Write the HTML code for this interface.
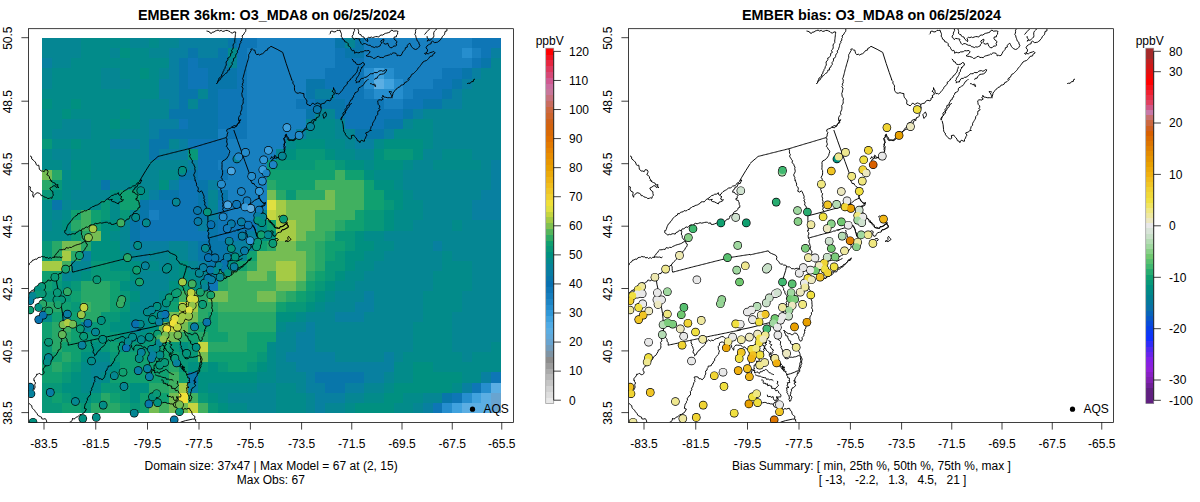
<!DOCTYPE html><html><head><meta charset="utf-8"><title>EMBER O3_MDA8</title><style>html,body{margin:0;padding:0;background:#fff}svg{display:block}</style></head><body><svg width="1200" height="502" viewBox="0 0 1200 502" font-family="'Liberation Sans', Arial, Helvetica, sans-serif" font-size="12" fill="#000"><rect width="1200" height="502" fill="#fff"/><defs><clipPath id="c0"><rect x="28.6" y="28.7" width="484.8" height="393.7"/></clipPath><clipPath id="c1"><rect x="628.6" y="28.7" width="484.8" height="393.7"/></clipPath></defs><g shape-rendering="crispEdges"><rect x="42" y="38" width="39.06" height="10.14" fill="#058693"/><rect x="81.06" y="38" width="48.83" height="10.14" fill="#028b8a"/><rect x="129.89" y="38" width="19.54" height="10.14" fill="#058693"/><rect x="149.43" y="38" width="9.76" height="10.14" fill="#028b8a"/><rect x="159.19" y="38" width="19.53" height="10.14" fill="#058693"/><rect x="178.72" y="38" width="48.83" height="10.14" fill="#0880a0"/><rect x="227.55" y="38" width="9.77" height="10.14" fill="#0876aa"/><rect x="237.32" y="38" width="19.53" height="10.14" fill="#0e76b6"/><rect x="256.85" y="38" width="78.13" height="10.14" fill="#1880c0"/><rect x="334.98" y="38" width="9.76" height="10.14" fill="#0876aa"/><rect x="344.74" y="38" width="9.77" height="10.14" fill="#058693"/><rect x="354.51" y="38" width="9.77" height="10.14" fill="#0876aa"/><rect x="364.28" y="38" width="107.42" height="10.14" fill="#1880c0"/><rect x="471.7" y="38" width="29.3" height="10.14" fill="#0e76b6"/><rect x="42" y="48.14" width="39.06" height="10.13" fill="#058693"/><rect x="81.06" y="48.14" width="29.3" height="10.13" fill="#028b8a"/><rect x="110.36" y="48.14" width="9.77" height="10.13" fill="#058693"/><rect x="120.13" y="48.14" width="9.76" height="10.13" fill="#009080"/><rect x="129.89" y="48.14" width="19.54" height="10.13" fill="#028b8a"/><rect x="149.43" y="48.14" width="19.53" height="10.13" fill="#058693"/><rect x="168.96" y="48.14" width="19.53" height="10.13" fill="#0880a0"/><rect x="188.49" y="48.14" width="9.77" height="10.13" fill="#0876aa"/><rect x="198.26" y="48.14" width="19.53" height="10.13" fill="#0880a0"/><rect x="217.79" y="48.14" width="9.76" height="10.13" fill="#0876aa"/><rect x="227.55" y="48.14" width="9.77" height="10.13" fill="#028b8a"/><rect x="237.32" y="48.14" width="9.77" height="10.13" fill="#0e76b6"/><rect x="247.09" y="48.14" width="87.89" height="10.13" fill="#1880c0"/><rect x="334.98" y="48.14" width="9.76" height="10.13" fill="#0e76b6"/><rect x="344.74" y="48.14" width="19.54" height="10.13" fill="#0876aa"/><rect x="364.28" y="48.14" width="97.66" height="10.13" fill="#1880c0"/><rect x="461.94" y="48.14" width="9.76" height="10.13" fill="#268ece"/><rect x="471.7" y="48.14" width="9.77" height="10.13" fill="#1880c0"/><rect x="481.47" y="48.14" width="9.76" height="10.13" fill="#0e76b6"/><rect x="491.23" y="48.14" width="9.77" height="10.13" fill="#0880a0"/><rect x="42" y="58.27" width="9.77" height="10.14" fill="#0880a0"/><rect x="51.77" y="58.27" width="19.53" height="10.14" fill="#058693"/><rect x="71.3" y="58.27" width="97.66" height="10.14" fill="#028b8a"/><rect x="168.96" y="58.27" width="9.76" height="10.14" fill="#0880a0"/><rect x="178.72" y="58.27" width="9.77" height="10.14" fill="#0876aa"/><rect x="188.49" y="58.27" width="9.77" height="10.14" fill="#0e76b6"/><rect x="198.26" y="58.27" width="29.29" height="10.14" fill="#0876aa"/><rect x="227.55" y="58.27" width="9.77" height="10.14" fill="#058693"/><rect x="237.32" y="58.27" width="9.77" height="10.14" fill="#0e76b6"/><rect x="247.09" y="58.27" width="87.89" height="10.14" fill="#1880c0"/><rect x="334.98" y="58.27" width="29.3" height="10.14" fill="#0e76b6"/><rect x="364.28" y="58.27" width="107.42" height="10.14" fill="#1880c0"/><rect x="471.7" y="58.27" width="9.77" height="10.14" fill="#0e76b6"/><rect x="481.47" y="58.27" width="9.76" height="10.14" fill="#0876aa"/><rect x="491.23" y="58.27" width="9.77" height="10.14" fill="#058693"/><rect x="42" y="68.41" width="9.77" height="10.13" fill="#058693"/><rect x="51.77" y="68.41" width="48.83" height="10.13" fill="#028b8a"/><rect x="100.6" y="68.41" width="19.53" height="10.13" fill="#058693"/><rect x="120.13" y="68.41" width="19.53" height="10.13" fill="#028b8a"/><rect x="139.66" y="68.41" width="9.77" height="10.13" fill="#009080"/><rect x="149.43" y="68.41" width="9.76" height="10.13" fill="#028b8a"/><rect x="159.19" y="68.41" width="9.77" height="10.13" fill="#058693"/><rect x="168.96" y="68.41" width="9.76" height="10.13" fill="#0880a0"/><rect x="178.72" y="68.41" width="9.77" height="10.13" fill="#0876aa"/><rect x="188.49" y="68.41" width="19.53" height="10.13" fill="#0e76b6"/><rect x="208.02" y="68.41" width="29.3" height="10.13" fill="#0876aa"/><rect x="237.32" y="68.41" width="9.77" height="10.13" fill="#0e76b6"/><rect x="247.09" y="68.41" width="78.12" height="10.13" fill="#1880c0"/><rect x="325.21" y="68.41" width="39.07" height="10.13" fill="#0e76b6"/><rect x="364.28" y="68.41" width="9.76" height="10.13" fill="#268ece"/><rect x="374.04" y="68.41" width="9.77" height="10.13" fill="#40a2de"/><rect x="383.81" y="68.41" width="9.76" height="10.13" fill="#268ece"/><rect x="393.57" y="68.41" width="48.83" height="10.13" fill="#1880c0"/><rect x="442.4" y="68.41" width="19.54" height="10.13" fill="#0e76b6"/><rect x="461.94" y="68.41" width="9.76" height="10.13" fill="#0876aa"/><rect x="471.7" y="68.41" width="9.77" height="10.13" fill="#0880a0"/><rect x="481.47" y="68.41" width="19.53" height="10.13" fill="#058693"/><rect x="42" y="78.54" width="9.77" height="10.14" fill="#058693"/><rect x="51.77" y="78.54" width="48.83" height="10.14" fill="#028b8a"/><rect x="100.6" y="78.54" width="29.29" height="10.14" fill="#058693"/><rect x="129.89" y="78.54" width="29.3" height="10.14" fill="#028b8a"/><rect x="159.19" y="78.54" width="19.53" height="10.14" fill="#0880a0"/><rect x="178.72" y="78.54" width="9.77" height="10.14" fill="#0876aa"/><rect x="188.49" y="78.54" width="19.53" height="10.14" fill="#0e76b6"/><rect x="208.02" y="78.54" width="29.3" height="10.14" fill="#0876aa"/><rect x="237.32" y="78.54" width="9.77" height="10.14" fill="#0e76b6"/><rect x="247.09" y="78.54" width="58.59" height="10.14" fill="#1880c0"/><rect x="305.68" y="78.54" width="19.53" height="10.14" fill="#0876aa"/><rect x="325.21" y="78.54" width="39.07" height="10.14" fill="#0e76b6"/><rect x="364.28" y="78.54" width="9.76" height="10.14" fill="#268ece"/><rect x="374.04" y="78.54" width="9.77" height="10.14" fill="#5baee3"/><rect x="383.81" y="78.54" width="9.76" height="10.14" fill="#40a2de"/><rect x="393.57" y="78.54" width="9.77" height="10.14" fill="#268ece"/><rect x="403.34" y="78.54" width="29.3" height="10.14" fill="#1880c0"/><rect x="432.64" y="78.54" width="19.53" height="10.14" fill="#0e76b6"/><rect x="452.17" y="78.54" width="9.77" height="10.14" fill="#0876aa"/><rect x="461.94" y="78.54" width="9.76" height="10.14" fill="#0880a0"/><rect x="471.7" y="78.54" width="29.3" height="10.14" fill="#058693"/><rect x="42" y="88.68" width="117.19" height="10.13" fill="#028b8a"/><rect x="159.19" y="88.68" width="19.53" height="10.13" fill="#0880a0"/><rect x="178.72" y="88.68" width="19.54" height="10.13" fill="#0876aa"/><rect x="198.26" y="88.68" width="9.76" height="10.13" fill="#058693"/><rect x="208.02" y="88.68" width="9.77" height="10.13" fill="#0876aa"/><rect x="217.79" y="88.68" width="29.3" height="10.13" fill="#0e76b6"/><rect x="247.09" y="88.68" width="58.59" height="10.13" fill="#1880c0"/><rect x="305.68" y="88.68" width="9.77" height="10.13" fill="#0876aa"/><rect x="315.45" y="88.68" width="19.53" height="10.13" fill="#0880a0"/><rect x="334.98" y="88.68" width="29.3" height="10.13" fill="#0e76b6"/><rect x="364.28" y="88.68" width="9.76" height="10.13" fill="#1880c0"/><rect x="374.04" y="88.68" width="29.3" height="10.13" fill="#268ece"/><rect x="403.34" y="88.68" width="9.77" height="10.13" fill="#1880c0"/><rect x="413.11" y="88.68" width="29.29" height="10.13" fill="#0e76b6"/><rect x="442.4" y="88.68" width="9.77" height="10.13" fill="#0876aa"/><rect x="452.17" y="88.68" width="9.77" height="10.13" fill="#0880a0"/><rect x="461.94" y="88.68" width="39.06" height="10.13" fill="#058693"/><rect x="42" y="98.81" width="9.77" height="10.14" fill="#009080"/><rect x="51.77" y="98.81" width="19.53" height="10.14" fill="#028b8a"/><rect x="71.3" y="98.81" width="9.76" height="10.14" fill="#009080"/><rect x="81.06" y="98.81" width="58.6" height="10.14" fill="#028b8a"/><rect x="139.66" y="98.81" width="29.3" height="10.14" fill="#058693"/><rect x="168.96" y="98.81" width="9.76" height="10.14" fill="#0880a0"/><rect x="178.72" y="98.81" width="9.77" height="10.14" fill="#0876aa"/><rect x="188.49" y="98.81" width="9.77" height="10.14" fill="#058693"/><rect x="198.26" y="98.81" width="19.53" height="10.14" fill="#0876aa"/><rect x="217.79" y="98.81" width="29.3" height="10.14" fill="#0e76b6"/><rect x="247.09" y="98.81" width="48.82" height="10.14" fill="#1880c0"/><rect x="295.91" y="98.81" width="19.54" height="10.14" fill="#0e76b6"/><rect x="315.45" y="98.81" width="29.29" height="10.14" fill="#0876aa"/><rect x="344.74" y="98.81" width="39.07" height="10.14" fill="#0e76b6"/><rect x="383.81" y="98.81" width="19.53" height="10.14" fill="#1880c0"/><rect x="403.34" y="98.81" width="19.53" height="10.14" fill="#0e76b6"/><rect x="422.87" y="98.81" width="19.53" height="10.14" fill="#0876aa"/><rect x="442.4" y="98.81" width="19.54" height="10.14" fill="#0880a0"/><rect x="461.94" y="98.81" width="39.06" height="10.14" fill="#058693"/><rect x="42" y="108.95" width="19.53" height="10.13" fill="#028b8a"/><rect x="61.53" y="108.95" width="9.77" height="10.13" fill="#009080"/><rect x="71.3" y="108.95" width="48.83" height="10.13" fill="#028b8a"/><rect x="120.13" y="108.95" width="9.76" height="10.13" fill="#009080"/><rect x="129.89" y="108.95" width="9.77" height="10.13" fill="#028b8a"/><rect x="139.66" y="108.95" width="29.3" height="10.13" fill="#058693"/><rect x="168.96" y="108.95" width="48.83" height="10.13" fill="#0876aa"/><rect x="217.79" y="108.95" width="29.3" height="10.13" fill="#0e76b6"/><rect x="247.09" y="108.95" width="58.59" height="10.13" fill="#1880c0"/><rect x="305.68" y="108.95" width="9.77" height="10.13" fill="#0876aa"/><rect x="315.45" y="108.95" width="19.53" height="10.13" fill="#058693"/><rect x="334.98" y="108.95" width="9.76" height="10.13" fill="#0876aa"/><rect x="344.74" y="108.95" width="58.6" height="10.13" fill="#0e76b6"/><rect x="403.34" y="108.95" width="9.77" height="10.13" fill="#0876aa"/><rect x="413.11" y="108.95" width="9.76" height="10.13" fill="#0880a0"/><rect x="422.87" y="108.95" width="78.13" height="10.13" fill="#058693"/><rect x="42" y="119.08" width="19.53" height="10.14" fill="#028b8a"/><rect x="61.53" y="119.08" width="29.3" height="10.14" fill="#058693"/><rect x="90.83" y="119.08" width="19.53" height="10.14" fill="#028b8a"/><rect x="110.36" y="119.08" width="9.77" height="10.14" fill="#009080"/><rect x="120.13" y="119.08" width="19.53" height="10.14" fill="#028b8a"/><rect x="139.66" y="119.08" width="9.77" height="10.14" fill="#058693"/><rect x="149.43" y="119.08" width="29.29" height="10.14" fill="#0880a0"/><rect x="178.72" y="119.08" width="9.77" height="10.14" fill="#0e76b6"/><rect x="188.49" y="119.08" width="29.3" height="10.14" fill="#0876aa"/><rect x="217.79" y="119.08" width="29.3" height="10.14" fill="#0e76b6"/><rect x="247.09" y="119.08" width="58.59" height="10.14" fill="#1880c0"/><rect x="305.68" y="119.08" width="9.77" height="10.14" fill="#058693"/><rect x="315.45" y="119.08" width="19.53" height="10.14" fill="#028b8a"/><rect x="334.98" y="119.08" width="9.76" height="10.14" fill="#058693"/><rect x="344.74" y="119.08" width="39.07" height="10.14" fill="#0e76b6"/><rect x="383.81" y="119.08" width="19.53" height="10.14" fill="#0876aa"/><rect x="403.34" y="119.08" width="9.77" height="10.14" fill="#058693"/><rect x="413.11" y="119.08" width="19.53" height="10.14" fill="#028b8a"/><rect x="432.64" y="119.08" width="68.36" height="10.14" fill="#058693"/><rect x="42" y="129.22" width="9.77" height="10.13" fill="#028b8a"/><rect x="51.77" y="129.22" width="39.06" height="10.13" fill="#058693"/><rect x="90.83" y="129.22" width="29.3" height="10.13" fill="#028b8a"/><rect x="120.13" y="129.22" width="29.3" height="10.13" fill="#058693"/><rect x="149.43" y="129.22" width="9.76" height="10.13" fill="#0880a0"/><rect x="159.19" y="129.22" width="58.6" height="10.13" fill="#0876aa"/><rect x="217.79" y="129.22" width="9.76" height="10.13" fill="#1880c0"/><rect x="227.55" y="129.22" width="19.54" height="10.13" fill="#0e76b6"/><rect x="247.09" y="129.22" width="48.82" height="10.13" fill="#1880c0"/><rect x="295.91" y="129.22" width="9.77" height="10.13" fill="#0880a0"/><rect x="305.68" y="129.22" width="29.3" height="10.13" fill="#028b8a"/><rect x="334.98" y="129.22" width="19.53" height="10.13" fill="#058693"/><rect x="354.51" y="129.22" width="29.3" height="10.13" fill="#0876aa"/><rect x="383.81" y="129.22" width="9.76" height="10.13" fill="#0880a0"/><rect x="393.57" y="129.22" width="39.07" height="10.13" fill="#028b8a"/><rect x="432.64" y="129.22" width="68.36" height="10.13" fill="#058693"/><rect x="42" y="139.35" width="9.77" height="10.14" fill="#089878"/><rect x="51.77" y="139.35" width="19.53" height="10.14" fill="#028b8a"/><rect x="71.3" y="139.35" width="9.76" height="10.14" fill="#009080"/><rect x="81.06" y="139.35" width="29.3" height="10.14" fill="#028b8a"/><rect x="110.36" y="139.35" width="29.3" height="10.14" fill="#0880a0"/><rect x="139.66" y="139.35" width="9.77" height="10.14" fill="#058693"/><rect x="149.43" y="139.35" width="19.53" height="10.14" fill="#0876aa"/><rect x="168.96" y="139.35" width="9.76" height="10.14" fill="#058693"/><rect x="178.72" y="139.35" width="9.77" height="10.14" fill="#0880a0"/><rect x="188.49" y="139.35" width="39.06" height="10.14" fill="#0e76b6"/><rect x="227.55" y="139.35" width="58.6" height="10.14" fill="#1880c0"/><rect x="286.15" y="139.35" width="9.76" height="10.14" fill="#028b8a"/><rect x="295.91" y="139.35" width="29.3" height="10.14" fill="#009080"/><rect x="325.21" y="139.35" width="19.53" height="10.14" fill="#028b8a"/><rect x="344.74" y="139.35" width="9.77" height="10.14" fill="#058693"/><rect x="354.51" y="139.35" width="19.53" height="10.14" fill="#0880a0"/><rect x="374.04" y="139.35" width="9.77" height="10.14" fill="#028b8a"/><rect x="383.81" y="139.35" width="39.06" height="10.14" fill="#009080"/><rect x="422.87" y="139.35" width="9.77" height="10.14" fill="#028b8a"/><rect x="432.64" y="139.35" width="68.36" height="10.14" fill="#058693"/><rect x="42" y="149.49" width="9.77" height="10.13" fill="#028b8a"/><rect x="51.77" y="149.49" width="19.53" height="10.13" fill="#058693"/><rect x="71.3" y="149.49" width="39.06" height="10.13" fill="#028b8a"/><rect x="110.36" y="149.49" width="39.07" height="10.13" fill="#058693"/><rect x="149.43" y="149.49" width="9.76" height="10.13" fill="#0876aa"/><rect x="159.19" y="149.49" width="29.3" height="10.13" fill="#0880a0"/><rect x="188.49" y="149.49" width="9.77" height="10.13" fill="#089878"/><rect x="198.26" y="149.49" width="29.29" height="10.13" fill="#0e76b6"/><rect x="227.55" y="149.49" width="48.83" height="10.13" fill="#1880c0"/><rect x="276.38" y="149.49" width="9.77" height="10.13" fill="#058693"/><rect x="286.15" y="149.49" width="9.76" height="10.13" fill="#009080"/><rect x="295.91" y="149.49" width="29.3" height="10.13" fill="#089878"/><rect x="325.21" y="149.49" width="9.77" height="10.13" fill="#009080"/><rect x="334.98" y="149.49" width="19.53" height="10.13" fill="#028b8a"/><rect x="354.51" y="149.49" width="19.53" height="10.13" fill="#058693"/><rect x="374.04" y="149.49" width="9.77" height="10.13" fill="#009080"/><rect x="383.81" y="149.49" width="29.3" height="10.13" fill="#089878"/><rect x="413.11" y="149.49" width="9.76" height="10.13" fill="#009080"/><rect x="422.87" y="149.49" width="19.53" height="10.13" fill="#058693"/><rect x="442.4" y="149.49" width="29.3" height="10.13" fill="#028b8a"/><rect x="471.7" y="149.49" width="29.3" height="10.13" fill="#058693"/><rect x="42" y="159.62" width="19.53" height="10.14" fill="#028b8a"/><rect x="61.53" y="159.62" width="9.77" height="10.14" fill="#058693"/><rect x="71.3" y="159.62" width="19.53" height="10.14" fill="#009080"/><rect x="90.83" y="159.62" width="39.06" height="10.14" fill="#028b8a"/><rect x="129.89" y="159.62" width="58.6" height="10.14" fill="#058693"/><rect x="188.49" y="159.62" width="9.77" height="10.14" fill="#0880a0"/><rect x="198.26" y="159.62" width="19.53" height="10.14" fill="#0e76b6"/><rect x="217.79" y="159.62" width="48.83" height="10.14" fill="#1880c0"/><rect x="266.62" y="159.62" width="48.83" height="10.14" fill="#089878"/><rect x="315.45" y="159.62" width="19.53" height="10.14" fill="#10a070"/><rect x="334.98" y="159.62" width="9.76" height="10.14" fill="#089878"/><rect x="344.74" y="159.62" width="19.54" height="10.14" fill="#009080"/><rect x="364.28" y="159.62" width="9.76" height="10.14" fill="#028b8a"/><rect x="374.04" y="159.62" width="29.3" height="10.14" fill="#009080"/><rect x="403.34" y="159.62" width="9.77" height="10.14" fill="#028b8a"/><rect x="413.11" y="159.62" width="19.53" height="10.14" fill="#058693"/><rect x="432.64" y="159.62" width="48.83" height="10.14" fill="#028b8a"/><rect x="481.47" y="159.62" width="9.76" height="10.14" fill="#058693"/><rect x="491.23" y="159.62" width="9.77" height="10.14" fill="#0880a0"/><rect x="42" y="169.76" width="9.77" height="10.13" fill="#75bd53"/><rect x="51.77" y="169.76" width="9.76" height="10.13" fill="#28a868"/><rect x="61.53" y="169.76" width="9.77" height="10.13" fill="#028b8a"/><rect x="71.3" y="169.76" width="19.53" height="10.13" fill="#009080"/><rect x="90.83" y="169.76" width="48.83" height="10.13" fill="#028b8a"/><rect x="139.66" y="169.76" width="19.53" height="10.13" fill="#058693"/><rect x="159.19" y="169.76" width="19.53" height="10.13" fill="#028b8a"/><rect x="178.72" y="169.76" width="19.54" height="10.13" fill="#0876aa"/><rect x="198.26" y="169.76" width="29.29" height="10.13" fill="#0e76b6"/><rect x="227.55" y="169.76" width="39.07" height="10.13" fill="#1880c0"/><rect x="266.62" y="169.76" width="68.36" height="10.13" fill="#10a070"/><rect x="334.98" y="169.76" width="9.76" height="10.13" fill="#40b060"/><rect x="344.74" y="169.76" width="19.54" height="10.13" fill="#10a070"/><rect x="364.28" y="169.76" width="9.76" height="10.13" fill="#009080"/><rect x="374.04" y="169.76" width="29.3" height="10.13" fill="#028b8a"/><rect x="403.34" y="169.76" width="87.89" height="10.13" fill="#058693"/><rect x="491.23" y="169.76" width="9.77" height="10.13" fill="#0880a0"/><rect x="42" y="179.89" width="9.77" height="10.14" fill="#28a868"/><rect x="51.77" y="179.89" width="9.76" height="10.14" fill="#089878"/><rect x="61.53" y="179.89" width="19.53" height="10.14" fill="#028b8a"/><rect x="81.06" y="179.89" width="19.54" height="10.14" fill="#058693"/><rect x="100.6" y="179.89" width="9.76" height="10.14" fill="#0876aa"/><rect x="110.36" y="179.89" width="19.53" height="10.14" fill="#058693"/><rect x="129.89" y="179.89" width="9.77" height="10.14" fill="#009080"/><rect x="139.66" y="179.89" width="19.53" height="10.14" fill="#058693"/><rect x="159.19" y="179.89" width="9.77" height="10.14" fill="#009080"/><rect x="168.96" y="179.89" width="9.76" height="10.14" fill="#0880a0"/><rect x="178.72" y="179.89" width="19.54" height="10.14" fill="#0e76b6"/><rect x="198.26" y="179.89" width="9.76" height="10.14" fill="#0876aa"/><rect x="208.02" y="179.89" width="9.77" height="10.14" fill="#0880a0"/><rect x="217.79" y="179.89" width="48.83" height="10.14" fill="#1880c0"/><rect x="266.62" y="179.89" width="9.76" height="10.14" fill="#28a868"/><rect x="276.38" y="179.89" width="39.07" height="10.14" fill="#10a070"/><rect x="315.45" y="179.89" width="48.83" height="10.14" fill="#40b060"/><rect x="364.28" y="179.89" width="9.76" height="10.14" fill="#10a070"/><rect x="374.04" y="179.89" width="19.53" height="10.14" fill="#009080"/><rect x="393.57" y="179.89" width="9.77" height="10.14" fill="#028b8a"/><rect x="403.34" y="179.89" width="87.89" height="10.14" fill="#058693"/><rect x="491.23" y="179.89" width="9.77" height="10.14" fill="#0880a0"/><rect x="42" y="190.03" width="9.77" height="10.13" fill="#089878"/><rect x="51.77" y="190.03" width="9.76" height="10.13" fill="#009080"/><rect x="61.53" y="190.03" width="9.77" height="10.13" fill="#028b8a"/><rect x="71.3" y="190.03" width="39.06" height="10.13" fill="#058693"/><rect x="110.36" y="190.03" width="9.77" height="10.13" fill="#009080"/><rect x="120.13" y="190.03" width="19.53" height="10.13" fill="#10a070"/><rect x="139.66" y="190.03" width="9.77" height="10.13" fill="#028b8a"/><rect x="149.43" y="190.03" width="9.76" height="10.13" fill="#0880a0"/><rect x="159.19" y="190.03" width="19.53" height="10.13" fill="#0876aa"/><rect x="178.72" y="190.03" width="19.54" height="10.13" fill="#0e76b6"/><rect x="198.26" y="190.03" width="9.76" height="10.13" fill="#0876aa"/><rect x="208.02" y="190.03" width="9.77" height="10.13" fill="#058693"/><rect x="217.79" y="190.03" width="9.76" height="10.13" fill="#0876aa"/><rect x="227.55" y="190.03" width="39.07" height="10.13" fill="#1880c0"/><rect x="266.62" y="190.03" width="9.76" height="10.13" fill="#75bd53"/><rect x="276.38" y="190.03" width="9.77" height="10.13" fill="#28a868"/><rect x="286.15" y="190.03" width="9.76" height="10.13" fill="#089878"/><rect x="295.91" y="190.03" width="29.3" height="10.13" fill="#28a868"/><rect x="325.21" y="190.03" width="9.77" height="10.13" fill="#75bd53"/><rect x="334.98" y="190.03" width="29.3" height="10.13" fill="#40b060"/><rect x="364.28" y="190.03" width="19.53" height="10.13" fill="#10a070"/><rect x="383.81" y="190.03" width="19.53" height="10.13" fill="#009080"/><rect x="403.34" y="190.03" width="9.77" height="10.13" fill="#028b8a"/><rect x="413.11" y="190.03" width="68.36" height="10.13" fill="#058693"/><rect x="481.47" y="190.03" width="19.53" height="10.13" fill="#0880a0"/><rect x="42" y="200.16" width="9.77" height="10.14" fill="#028b8a"/><rect x="51.77" y="200.16" width="9.76" height="10.14" fill="#0876aa"/><rect x="61.53" y="200.16" width="9.77" height="10.14" fill="#058693"/><rect x="71.3" y="200.16" width="29.3" height="10.14" fill="#028b8a"/><rect x="100.6" y="200.16" width="9.76" height="10.14" fill="#089878"/><rect x="110.36" y="200.16" width="9.77" height="10.14" fill="#028b8a"/><rect x="120.13" y="200.16" width="19.53" height="10.14" fill="#10a070"/><rect x="139.66" y="200.16" width="9.77" height="10.14" fill="#0876aa"/><rect x="149.43" y="200.16" width="48.83" height="10.14" fill="#0e76b6"/><rect x="198.26" y="200.16" width="9.76" height="10.14" fill="#0876aa"/><rect x="208.02" y="200.16" width="9.77" height="10.14" fill="#058693"/><rect x="217.79" y="200.16" width="9.76" height="10.14" fill="#0e76b6"/><rect x="227.55" y="200.16" width="39.07" height="10.14" fill="#1880c0"/><rect x="266.62" y="200.16" width="9.76" height="10.14" fill="#e0e040"/><rect x="276.38" y="200.16" width="9.77" height="10.14" fill="#a5cb45"/><rect x="286.15" y="200.16" width="48.83" height="10.14" fill="#75bd53"/><rect x="334.98" y="200.16" width="29.3" height="10.14" fill="#40b060"/><rect x="364.28" y="200.16" width="19.53" height="10.14" fill="#10a070"/><rect x="383.81" y="200.16" width="9.76" height="10.14" fill="#089878"/><rect x="393.57" y="200.16" width="9.77" height="10.14" fill="#009080"/><rect x="403.34" y="200.16" width="19.53" height="10.14" fill="#028b8a"/><rect x="422.87" y="200.16" width="48.83" height="10.14" fill="#058693"/><rect x="471.7" y="200.16" width="29.3" height="10.14" fill="#0880a0"/><rect x="42" y="210.3" width="9.77" height="10.13" fill="#028b8a"/><rect x="51.77" y="210.3" width="9.76" height="10.13" fill="#058693"/><rect x="61.53" y="210.3" width="9.77" height="10.13" fill="#028b8a"/><rect x="71.3" y="210.3" width="9.76" height="10.13" fill="#10a070"/><rect x="81.06" y="210.3" width="9.77" height="10.13" fill="#40b060"/><rect x="90.83" y="210.3" width="9.77" height="10.13" fill="#10a070"/><rect x="100.6" y="210.3" width="9.76" height="10.13" fill="#089878"/><rect x="110.36" y="210.3" width="9.77" height="10.13" fill="#028b8a"/><rect x="120.13" y="210.3" width="9.76" height="10.13" fill="#089878"/><rect x="129.89" y="210.3" width="9.77" height="10.13" fill="#058693"/><rect x="139.66" y="210.3" width="9.77" height="10.13" fill="#0876aa"/><rect x="149.43" y="210.3" width="9.76" height="10.13" fill="#1880c0"/><rect x="159.19" y="210.3" width="39.07" height="10.13" fill="#0e76b6"/><rect x="198.26" y="210.3" width="9.76" height="10.13" fill="#0876aa"/><rect x="208.02" y="210.3" width="9.77" height="10.13" fill="#0880a0"/><rect x="217.79" y="210.3" width="9.76" height="10.13" fill="#0e76b6"/><rect x="227.55" y="210.3" width="29.3" height="10.13" fill="#1880c0"/><rect x="256.85" y="210.3" width="9.77" height="10.13" fill="#058693"/><rect x="266.62" y="210.3" width="9.76" height="10.13" fill="#c5d540"/><rect x="276.38" y="210.3" width="9.77" height="10.13" fill="#a5cb45"/><rect x="286.15" y="210.3" width="29.3" height="10.13" fill="#75bd53"/><rect x="315.45" y="210.3" width="39.06" height="10.13" fill="#40b060"/><rect x="354.51" y="210.3" width="9.77" height="10.13" fill="#10a070"/><rect x="364.28" y="210.3" width="19.53" height="10.13" fill="#089878"/><rect x="383.81" y="210.3" width="9.76" height="10.13" fill="#009080"/><rect x="393.57" y="210.3" width="29.3" height="10.13" fill="#028b8a"/><rect x="422.87" y="210.3" width="48.83" height="10.13" fill="#058693"/><rect x="471.7" y="210.3" width="29.3" height="10.13" fill="#0880a0"/><rect x="42" y="220.43" width="9.77" height="10.14" fill="#058693"/><rect x="51.77" y="220.43" width="9.76" height="10.14" fill="#028b8a"/><rect x="61.53" y="220.43" width="9.77" height="10.14" fill="#009080"/><rect x="71.3" y="220.43" width="9.76" height="10.14" fill="#28a868"/><rect x="81.06" y="220.43" width="9.77" height="10.14" fill="#40b060"/><rect x="90.83" y="220.43" width="9.77" height="10.14" fill="#10a070"/><rect x="100.6" y="220.43" width="19.53" height="10.14" fill="#009080"/><rect x="120.13" y="220.43" width="9.76" height="10.14" fill="#058693"/><rect x="129.89" y="220.43" width="9.77" height="10.14" fill="#0876aa"/><rect x="139.66" y="220.43" width="58.6" height="10.14" fill="#0e76b6"/><rect x="198.26" y="220.43" width="9.76" height="10.14" fill="#0880a0"/><rect x="208.02" y="220.43" width="9.77" height="10.14" fill="#0876aa"/><rect x="217.79" y="220.43" width="39.06" height="10.14" fill="#0e76b6"/><rect x="256.85" y="220.43" width="9.77" height="10.14" fill="#028b8a"/><rect x="266.62" y="220.43" width="9.76" height="10.14" fill="#10a070"/><rect x="276.38" y="220.43" width="19.53" height="10.14" fill="#a5cb45"/><rect x="295.91" y="220.43" width="19.54" height="10.14" fill="#75bd53"/><rect x="315.45" y="220.43" width="19.53" height="10.14" fill="#40b060"/><rect x="334.98" y="220.43" width="9.76" height="10.14" fill="#28a868"/><rect x="344.74" y="220.43" width="19.54" height="10.14" fill="#10a070"/><rect x="364.28" y="220.43" width="19.53" height="10.14" fill="#089878"/><rect x="383.81" y="220.43" width="9.76" height="10.14" fill="#009080"/><rect x="393.57" y="220.43" width="19.54" height="10.14" fill="#028b8a"/><rect x="413.11" y="220.43" width="39.06" height="10.14" fill="#058693"/><rect x="452.17" y="220.43" width="9.77" height="10.14" fill="#028b8a"/><rect x="461.94" y="220.43" width="39.06" height="10.14" fill="#058693"/><rect x="42" y="230.57" width="29.3" height="10.13" fill="#028b8a"/><rect x="71.3" y="230.57" width="9.76" height="10.13" fill="#089878"/><rect x="81.06" y="230.57" width="9.77" height="10.13" fill="#28a868"/><rect x="90.83" y="230.57" width="9.77" height="10.13" fill="#75bd53"/><rect x="100.6" y="230.57" width="9.76" height="10.13" fill="#009080"/><rect x="110.36" y="230.57" width="9.77" height="10.13" fill="#028b8a"/><rect x="120.13" y="230.57" width="9.76" height="10.13" fill="#058693"/><rect x="129.89" y="230.57" width="9.77" height="10.13" fill="#0876aa"/><rect x="139.66" y="230.57" width="68.36" height="10.13" fill="#0e76b6"/><rect x="208.02" y="230.57" width="9.77" height="10.13" fill="#0876aa"/><rect x="217.79" y="230.57" width="19.53" height="10.13" fill="#0e76b6"/><rect x="237.32" y="230.57" width="9.77" height="10.13" fill="#0876aa"/><rect x="247.09" y="230.57" width="9.76" height="10.13" fill="#0880a0"/><rect x="256.85" y="230.57" width="19.53" height="10.13" fill="#009080"/><rect x="276.38" y="230.57" width="19.53" height="10.13" fill="#a5cb45"/><rect x="295.91" y="230.57" width="9.77" height="10.13" fill="#75bd53"/><rect x="305.68" y="230.57" width="19.53" height="10.13" fill="#40b060"/><rect x="325.21" y="230.57" width="9.77" height="10.13" fill="#28a868"/><rect x="334.98" y="230.57" width="19.53" height="10.13" fill="#089878"/><rect x="354.51" y="230.57" width="9.77" height="10.13" fill="#009080"/><rect x="364.28" y="230.57" width="19.53" height="10.13" fill="#028b8a"/><rect x="383.81" y="230.57" width="117.19" height="10.13" fill="#058693"/><rect x="42" y="240.7" width="9.77" height="10.14" fill="#089878"/><rect x="51.77" y="240.7" width="9.76" height="10.14" fill="#28a868"/><rect x="61.53" y="240.7" width="19.53" height="10.14" fill="#75bd53"/><rect x="81.06" y="240.7" width="9.77" height="10.14" fill="#28a868"/><rect x="90.83" y="240.7" width="29.3" height="10.14" fill="#009080"/><rect x="120.13" y="240.7" width="9.76" height="10.14" fill="#058693"/><rect x="129.89" y="240.7" width="39.07" height="10.14" fill="#0880a0"/><rect x="168.96" y="240.7" width="19.53" height="10.14" fill="#058693"/><rect x="188.49" y="240.7" width="9.77" height="10.14" fill="#0880a0"/><rect x="198.26" y="240.7" width="29.29" height="10.14" fill="#0876aa"/><rect x="227.55" y="240.7" width="19.54" height="10.14" fill="#0880a0"/><rect x="247.09" y="240.7" width="9.76" height="10.14" fill="#058693"/><rect x="256.85" y="240.7" width="9.77" height="10.14" fill="#10a070"/><rect x="266.62" y="240.7" width="9.76" height="10.14" fill="#28a868"/><rect x="276.38" y="240.7" width="19.53" height="10.14" fill="#75bd53"/><rect x="295.91" y="240.7" width="19.54" height="10.14" fill="#40b060"/><rect x="315.45" y="240.7" width="9.76" height="10.14" fill="#28a868"/><rect x="325.21" y="240.7" width="19.53" height="10.14" fill="#10a070"/><rect x="344.74" y="240.7" width="9.77" height="10.14" fill="#089878"/><rect x="354.51" y="240.7" width="19.53" height="10.14" fill="#009080"/><rect x="374.04" y="240.7" width="19.53" height="10.14" fill="#028b8a"/><rect x="393.57" y="240.7" width="39.07" height="10.14" fill="#058693"/><rect x="432.64" y="240.7" width="9.76" height="10.14" fill="#0880a0"/><rect x="442.4" y="240.7" width="58.6" height="10.14" fill="#058693"/><rect x="42" y="250.84" width="9.77" height="10.13" fill="#089878"/><rect x="51.77" y="250.84" width="9.76" height="10.13" fill="#28a868"/><rect x="61.53" y="250.84" width="9.77" height="10.13" fill="#a5cb45"/><rect x="71.3" y="250.84" width="9.76" height="10.13" fill="#28a868"/><rect x="81.06" y="250.84" width="9.77" height="10.13" fill="#0880a0"/><rect x="90.83" y="250.84" width="29.3" height="10.13" fill="#009080"/><rect x="120.13" y="250.84" width="9.76" height="10.13" fill="#028b8a"/><rect x="129.89" y="250.84" width="9.77" height="10.13" fill="#058693"/><rect x="139.66" y="250.84" width="9.77" height="10.13" fill="#0880a0"/><rect x="149.43" y="250.84" width="19.53" height="10.13" fill="#058693"/><rect x="168.96" y="250.84" width="9.76" height="10.13" fill="#028b8a"/><rect x="178.72" y="250.84" width="9.77" height="10.13" fill="#058693"/><rect x="188.49" y="250.84" width="9.77" height="10.13" fill="#0880a0"/><rect x="198.26" y="250.84" width="29.29" height="10.13" fill="#0876aa"/><rect x="227.55" y="250.84" width="9.77" height="10.13" fill="#0880a0"/><rect x="237.32" y="250.84" width="9.77" height="10.13" fill="#058693"/><rect x="247.09" y="250.84" width="9.76" height="10.13" fill="#10a070"/><rect x="256.85" y="250.84" width="48.83" height="10.13" fill="#75bd53"/><rect x="305.68" y="250.84" width="9.77" height="10.13" fill="#40b060"/><rect x="315.45" y="250.84" width="9.76" height="10.13" fill="#28a868"/><rect x="325.21" y="250.84" width="9.77" height="10.13" fill="#10a070"/><rect x="334.98" y="250.84" width="9.76" height="10.13" fill="#089878"/><rect x="344.74" y="250.84" width="19.54" height="10.13" fill="#009080"/><rect x="364.28" y="250.84" width="19.53" height="10.13" fill="#028b8a"/><rect x="383.81" y="250.84" width="58.59" height="10.13" fill="#058693"/><rect x="442.4" y="250.84" width="9.77" height="10.13" fill="#028b8a"/><rect x="452.17" y="250.84" width="48.83" height="10.13" fill="#058693"/><rect x="42" y="260.97" width="19.53" height="10.14" fill="#a5cb45"/><rect x="61.53" y="260.97" width="9.77" height="10.14" fill="#40b060"/><rect x="71.3" y="260.97" width="19.53" height="10.14" fill="#058693"/><rect x="90.83" y="260.97" width="19.53" height="10.14" fill="#089878"/><rect x="110.36" y="260.97" width="29.3" height="10.14" fill="#009080"/><rect x="139.66" y="260.97" width="19.53" height="10.14" fill="#028b8a"/><rect x="159.19" y="260.97" width="9.77" height="10.14" fill="#058693"/><rect x="168.96" y="260.97" width="9.76" height="10.14" fill="#028b8a"/><rect x="178.72" y="260.97" width="9.77" height="10.14" fill="#009080"/><rect x="188.49" y="260.97" width="9.77" height="10.14" fill="#058693"/><rect x="198.26" y="260.97" width="9.76" height="10.14" fill="#0880a0"/><rect x="208.02" y="260.97" width="9.77" height="10.14" fill="#0876aa"/><rect x="217.79" y="260.97" width="9.76" height="10.14" fill="#058693"/><rect x="227.55" y="260.97" width="9.77" height="10.14" fill="#009080"/><rect x="237.32" y="260.97" width="9.77" height="10.14" fill="#10a070"/><rect x="247.09" y="260.97" width="9.76" height="10.14" fill="#28a868"/><rect x="256.85" y="260.97" width="19.53" height="10.14" fill="#75bd53"/><rect x="276.38" y="260.97" width="19.53" height="10.14" fill="#a5cb45"/><rect x="295.91" y="260.97" width="9.77" height="10.14" fill="#75bd53"/><rect x="305.68" y="260.97" width="9.77" height="10.14" fill="#40b060"/><rect x="315.45" y="260.97" width="9.76" height="10.14" fill="#28a868"/><rect x="325.21" y="260.97" width="19.53" height="10.14" fill="#089878"/><rect x="344.74" y="260.97" width="9.77" height="10.14" fill="#009080"/><rect x="354.51" y="260.97" width="19.53" height="10.14" fill="#028b8a"/><rect x="374.04" y="260.97" width="68.36" height="10.14" fill="#058693"/><rect x="442.4" y="260.97" width="29.3" height="10.14" fill="#028b8a"/><rect x="471.7" y="260.97" width="29.3" height="10.14" fill="#058693"/><rect x="42" y="271.11" width="19.53" height="10.13" fill="#10a070"/><rect x="61.53" y="271.11" width="9.77" height="10.13" fill="#058693"/><rect x="71.3" y="271.11" width="9.76" height="10.13" fill="#028b8a"/><rect x="81.06" y="271.11" width="9.77" height="10.13" fill="#009080"/><rect x="90.83" y="271.11" width="39.06" height="10.13" fill="#089878"/><rect x="129.89" y="271.11" width="9.77" height="10.13" fill="#009080"/><rect x="139.66" y="271.11" width="29.3" height="10.13" fill="#058693"/><rect x="168.96" y="271.11" width="9.76" height="10.13" fill="#028b8a"/><rect x="178.72" y="271.11" width="9.77" height="10.13" fill="#009080"/><rect x="188.49" y="271.11" width="9.77" height="10.13" fill="#028b8a"/><rect x="198.26" y="271.11" width="9.76" height="10.13" fill="#058693"/><rect x="208.02" y="271.11" width="9.77" height="10.13" fill="#0880a0"/><rect x="217.79" y="271.11" width="9.76" height="10.13" fill="#28a868"/><rect x="227.55" y="271.11" width="19.54" height="10.13" fill="#40b060"/><rect x="247.09" y="271.11" width="19.53" height="10.13" fill="#75bd53"/><rect x="266.62" y="271.11" width="9.76" height="10.13" fill="#40b060"/><rect x="276.38" y="271.11" width="19.53" height="10.13" fill="#a5cb45"/><rect x="295.91" y="271.11" width="9.77" height="10.13" fill="#75bd53"/><rect x="305.68" y="271.11" width="9.77" height="10.13" fill="#28a868"/><rect x="315.45" y="271.11" width="9.76" height="10.13" fill="#10a070"/><rect x="325.21" y="271.11" width="9.77" height="10.13" fill="#089878"/><rect x="334.98" y="271.11" width="9.76" height="10.13" fill="#009080"/><rect x="344.74" y="271.11" width="19.54" height="10.13" fill="#028b8a"/><rect x="364.28" y="271.11" width="68.36" height="10.13" fill="#058693"/><rect x="432.64" y="271.11" width="39.06" height="10.13" fill="#028b8a"/><rect x="471.7" y="271.11" width="29.3" height="10.13" fill="#058693"/><rect x="42" y="281.24" width="9.77" height="10.14" fill="#10a070"/><rect x="51.77" y="281.24" width="9.76" height="10.14" fill="#089878"/><rect x="61.53" y="281.24" width="9.77" height="10.14" fill="#009080"/><rect x="71.3" y="281.24" width="9.76" height="10.14" fill="#089878"/><rect x="81.06" y="281.24" width="29.3" height="10.14" fill="#28a868"/><rect x="110.36" y="281.24" width="9.77" height="10.14" fill="#10a070"/><rect x="120.13" y="281.24" width="9.76" height="10.14" fill="#009080"/><rect x="129.89" y="281.24" width="9.77" height="10.14" fill="#028b8a"/><rect x="139.66" y="281.24" width="29.3" height="10.14" fill="#058693"/><rect x="168.96" y="281.24" width="9.76" height="10.14" fill="#009080"/><rect x="178.72" y="281.24" width="9.77" height="10.14" fill="#10a070"/><rect x="188.49" y="281.24" width="9.77" height="10.14" fill="#009080"/><rect x="198.26" y="281.24" width="9.76" height="10.14" fill="#028b8a"/><rect x="208.02" y="281.24" width="9.77" height="10.14" fill="#0e76b6"/><rect x="217.79" y="281.24" width="9.76" height="10.14" fill="#28a868"/><rect x="227.55" y="281.24" width="48.83" height="10.14" fill="#40b060"/><rect x="276.38" y="281.24" width="19.53" height="10.14" fill="#75bd53"/><rect x="295.91" y="281.24" width="9.77" height="10.14" fill="#40b060"/><rect x="305.68" y="281.24" width="9.77" height="10.14" fill="#10a070"/><rect x="315.45" y="281.24" width="9.76" height="10.14" fill="#089878"/><rect x="325.21" y="281.24" width="9.77" height="10.14" fill="#009080"/><rect x="334.98" y="281.24" width="19.53" height="10.14" fill="#028b8a"/><rect x="354.51" y="281.24" width="78.13" height="10.14" fill="#058693"/><rect x="432.64" y="281.24" width="39.06" height="10.14" fill="#028b8a"/><rect x="471.7" y="281.24" width="29.3" height="10.14" fill="#058693"/><rect x="42" y="291.38" width="29.3" height="10.13" fill="#089878"/><rect x="71.3" y="291.38" width="9.76" height="10.13" fill="#10a070"/><rect x="81.06" y="291.38" width="29.3" height="10.13" fill="#28a868"/><rect x="110.36" y="291.38" width="9.77" height="10.13" fill="#10a070"/><rect x="120.13" y="291.38" width="9.76" height="10.13" fill="#089878"/><rect x="129.89" y="291.38" width="9.77" height="10.13" fill="#009080"/><rect x="139.66" y="291.38" width="19.53" height="10.13" fill="#058693"/><rect x="159.19" y="291.38" width="9.77" height="10.13" fill="#028b8a"/><rect x="168.96" y="291.38" width="9.76" height="10.13" fill="#089878"/><rect x="178.72" y="291.38" width="9.77" height="10.13" fill="#40b060"/><rect x="188.49" y="291.38" width="9.77" height="10.13" fill="#75bd53"/><rect x="198.26" y="291.38" width="9.76" height="10.13" fill="#28a868"/><rect x="208.02" y="291.38" width="19.53" height="10.13" fill="#75bd53"/><rect x="227.55" y="291.38" width="29.3" height="10.13" fill="#40b060"/><rect x="256.85" y="291.38" width="19.53" height="10.13" fill="#75bd53"/><rect x="276.38" y="291.38" width="9.77" height="10.13" fill="#40b060"/><rect x="286.15" y="291.38" width="9.76" height="10.13" fill="#28a868"/><rect x="295.91" y="291.38" width="9.77" height="10.13" fill="#10a070"/><rect x="305.68" y="291.38" width="9.77" height="10.13" fill="#089878"/><rect x="315.45" y="291.38" width="9.76" height="10.13" fill="#009080"/><rect x="325.21" y="291.38" width="9.77" height="10.13" fill="#028b8a"/><rect x="334.98" y="291.38" width="29.3" height="10.13" fill="#058693"/><rect x="364.28" y="291.38" width="9.76" height="10.13" fill="#0880a0"/><rect x="374.04" y="291.38" width="48.83" height="10.13" fill="#058693"/><rect x="422.87" y="291.38" width="39.07" height="10.13" fill="#028b8a"/><rect x="461.94" y="291.38" width="39.06" height="10.13" fill="#058693"/><rect x="42" y="301.51" width="19.53" height="10.14" fill="#28a868"/><rect x="61.53" y="301.51" width="9.77" height="10.14" fill="#10a070"/><rect x="71.3" y="301.51" width="9.76" height="10.14" fill="#089878"/><rect x="81.06" y="301.51" width="9.77" height="10.14" fill="#40b060"/><rect x="90.83" y="301.51" width="19.53" height="10.14" fill="#28a868"/><rect x="110.36" y="301.51" width="9.77" height="10.14" fill="#10a070"/><rect x="120.13" y="301.51" width="9.76" height="10.14" fill="#089878"/><rect x="129.89" y="301.51" width="9.77" height="10.14" fill="#028b8a"/><rect x="139.66" y="301.51" width="19.53" height="10.14" fill="#058693"/><rect x="159.19" y="301.51" width="9.77" height="10.14" fill="#028b8a"/><rect x="168.96" y="301.51" width="9.76" height="10.14" fill="#10a070"/><rect x="178.72" y="301.51" width="9.77" height="10.14" fill="#c5d540"/><rect x="188.49" y="301.51" width="9.77" height="10.14" fill="#a5cb45"/><rect x="198.26" y="301.51" width="19.53" height="10.14" fill="#28a868"/><rect x="217.79" y="301.51" width="58.59" height="10.14" fill="#40b060"/><rect x="276.38" y="301.51" width="9.77" height="10.14" fill="#10a070"/><rect x="286.15" y="301.51" width="19.53" height="10.14" fill="#089878"/><rect x="305.68" y="301.51" width="9.77" height="10.14" fill="#009080"/><rect x="315.45" y="301.51" width="9.76" height="10.14" fill="#028b8a"/><rect x="325.21" y="301.51" width="29.3" height="10.14" fill="#058693"/><rect x="354.51" y="301.51" width="19.53" height="10.14" fill="#0880a0"/><rect x="374.04" y="301.51" width="48.83" height="10.14" fill="#058693"/><rect x="422.87" y="301.51" width="39.07" height="10.14" fill="#028b8a"/><rect x="461.94" y="301.51" width="39.06" height="10.14" fill="#058693"/><rect x="42" y="311.65" width="9.77" height="10.13" fill="#028b8a"/><rect x="51.77" y="311.65" width="9.76" height="10.13" fill="#10a070"/><rect x="61.53" y="311.65" width="9.77" height="10.13" fill="#058693"/><rect x="71.3" y="311.65" width="9.76" height="10.13" fill="#10a070"/><rect x="81.06" y="311.65" width="19.54" height="10.13" fill="#28a868"/><rect x="100.6" y="311.65" width="19.53" height="10.13" fill="#089878"/><rect x="120.13" y="311.65" width="9.76" height="10.13" fill="#009080"/><rect x="129.89" y="311.65" width="19.54" height="10.13" fill="#028b8a"/><rect x="149.43" y="311.65" width="9.76" height="10.13" fill="#009080"/><rect x="159.19" y="311.65" width="9.77" height="10.13" fill="#058693"/><rect x="168.96" y="311.65" width="9.76" height="10.13" fill="#75bd53"/><rect x="178.72" y="311.65" width="9.77" height="10.13" fill="#a5cb45"/><rect x="188.49" y="311.65" width="9.77" height="10.13" fill="#75bd53"/><rect x="198.26" y="311.65" width="9.76" height="10.13" fill="#28a868"/><rect x="208.02" y="311.65" width="9.77" height="10.13" fill="#10a070"/><rect x="217.79" y="311.65" width="58.59" height="10.13" fill="#28a868"/><rect x="276.38" y="311.65" width="19.53" height="10.13" fill="#009080"/><rect x="295.91" y="311.65" width="9.77" height="10.13" fill="#028b8a"/><rect x="305.68" y="311.65" width="29.3" height="10.13" fill="#058693"/><rect x="334.98" y="311.65" width="29.3" height="10.13" fill="#0880a0"/><rect x="364.28" y="311.65" width="58.59" height="10.13" fill="#058693"/><rect x="422.87" y="311.65" width="29.3" height="10.13" fill="#028b8a"/><rect x="452.17" y="311.65" width="48.83" height="10.13" fill="#058693"/><rect x="42" y="321.78" width="9.77" height="10.14" fill="#10a070"/><rect x="51.77" y="321.78" width="9.76" height="10.14" fill="#28a868"/><rect x="61.53" y="321.78" width="9.77" height="10.14" fill="#40b060"/><rect x="71.3" y="321.78" width="9.76" height="10.14" fill="#10a070"/><rect x="81.06" y="321.78" width="9.77" height="10.14" fill="#058693"/><rect x="90.83" y="321.78" width="19.53" height="10.14" fill="#089878"/><rect x="110.36" y="321.78" width="19.53" height="10.14" fill="#009080"/><rect x="129.89" y="321.78" width="9.77" height="10.14" fill="#0880a0"/><rect x="139.66" y="321.78" width="9.77" height="10.14" fill="#028b8a"/><rect x="149.43" y="321.78" width="9.76" height="10.14" fill="#009080"/><rect x="159.19" y="321.78" width="9.77" height="10.14" fill="#75bd53"/><rect x="168.96" y="321.78" width="9.76" height="10.14" fill="#c5d540"/><rect x="178.72" y="321.78" width="9.77" height="10.14" fill="#75bd53"/><rect x="188.49" y="321.78" width="9.77" height="10.14" fill="#28a868"/><rect x="198.26" y="321.78" width="19.53" height="10.14" fill="#10a070"/><rect x="217.79" y="321.78" width="58.59" height="10.14" fill="#28a868"/><rect x="276.38" y="321.78" width="9.77" height="10.14" fill="#028b8a"/><rect x="286.15" y="321.78" width="19.53" height="10.14" fill="#058693"/><rect x="305.68" y="321.78" width="9.77" height="10.14" fill="#0880a0"/><rect x="315.45" y="321.78" width="97.66" height="10.14" fill="#058693"/><rect x="413.11" y="321.78" width="39.06" height="10.14" fill="#028b8a"/><rect x="452.17" y="321.78" width="48.83" height="10.14" fill="#058693"/><rect x="42" y="331.92" width="9.77" height="10.13" fill="#10a070"/><rect x="51.77" y="331.92" width="19.53" height="10.13" fill="#28a868"/><rect x="71.3" y="331.92" width="9.76" height="10.13" fill="#10a070"/><rect x="81.06" y="331.92" width="39.07" height="10.13" fill="#089878"/><rect x="120.13" y="331.92" width="9.76" height="10.13" fill="#009080"/><rect x="129.89" y="331.92" width="9.77" height="10.13" fill="#028b8a"/><rect x="139.66" y="331.92" width="9.77" height="10.13" fill="#009080"/><rect x="149.43" y="331.92" width="9.76" height="10.13" fill="#10a070"/><rect x="159.19" y="331.92" width="9.77" height="10.13" fill="#a5cb45"/><rect x="168.96" y="331.92" width="9.76" height="10.13" fill="#75bd53"/><rect x="178.72" y="331.92" width="9.77" height="10.13" fill="#28a868"/><rect x="188.49" y="331.92" width="9.77" height="10.13" fill="#10a070"/><rect x="198.26" y="331.92" width="9.76" height="10.13" fill="#28a868"/><rect x="208.02" y="331.92" width="19.53" height="10.13" fill="#10a070"/><rect x="227.55" y="331.92" width="19.54" height="10.13" fill="#28a868"/><rect x="247.09" y="331.92" width="29.29" height="10.13" fill="#10a070"/><rect x="276.38" y="331.92" width="19.53" height="10.13" fill="#058693"/><rect x="295.91" y="331.92" width="19.54" height="10.13" fill="#0880a0"/><rect x="315.45" y="331.92" width="97.66" height="10.13" fill="#058693"/><rect x="413.11" y="331.92" width="39.06" height="10.13" fill="#028b8a"/><rect x="452.17" y="331.92" width="48.83" height="10.13" fill="#058693"/><rect x="42" y="342.05" width="9.77" height="10.14" fill="#089878"/><rect x="51.77" y="342.05" width="9.76" height="10.14" fill="#28a868"/><rect x="61.53" y="342.05" width="19.53" height="10.14" fill="#10a070"/><rect x="81.06" y="342.05" width="9.77" height="10.14" fill="#089878"/><rect x="90.83" y="342.05" width="9.77" height="10.14" fill="#009080"/><rect x="100.6" y="342.05" width="9.76" height="10.14" fill="#089878"/><rect x="110.36" y="342.05" width="9.77" height="10.14" fill="#10a070"/><rect x="120.13" y="342.05" width="9.76" height="10.14" fill="#009080"/><rect x="129.89" y="342.05" width="29.3" height="10.14" fill="#089878"/><rect x="159.19" y="342.05" width="9.77" height="10.14" fill="#10a070"/><rect x="168.96" y="342.05" width="9.76" height="10.14" fill="#089878"/><rect x="178.72" y="342.05" width="9.77" height="10.14" fill="#009080"/><rect x="188.49" y="342.05" width="9.77" height="10.14" fill="#089878"/><rect x="198.26" y="342.05" width="9.76" height="10.14" fill="#c5d540"/><rect x="208.02" y="342.05" width="39.07" height="10.14" fill="#28a868"/><rect x="247.09" y="342.05" width="19.53" height="10.14" fill="#10a070"/><rect x="266.62" y="342.05" width="9.76" height="10.14" fill="#028b8a"/><rect x="276.38" y="342.05" width="19.53" height="10.14" fill="#058693"/><rect x="295.91" y="342.05" width="19.54" height="10.14" fill="#0880a0"/><rect x="315.45" y="342.05" width="97.66" height="10.14" fill="#058693"/><rect x="413.11" y="342.05" width="39.06" height="10.14" fill="#028b8a"/><rect x="452.17" y="342.05" width="39.06" height="10.14" fill="#058693"/><rect x="491.23" y="342.05" width="9.77" height="10.14" fill="#028b8a"/><rect x="42" y="352.19" width="9.77" height="10.13" fill="#089878"/><rect x="51.77" y="352.19" width="9.76" height="10.13" fill="#10a070"/><rect x="61.53" y="352.19" width="9.77" height="10.13" fill="#28a868"/><rect x="71.3" y="352.19" width="9.76" height="10.13" fill="#10a070"/><rect x="81.06" y="352.19" width="9.77" height="10.13" fill="#009080"/><rect x="90.83" y="352.19" width="19.53" height="10.13" fill="#028b8a"/><rect x="110.36" y="352.19" width="9.77" height="10.13" fill="#089878"/><rect x="120.13" y="352.19" width="58.59" height="10.13" fill="#10a070"/><rect x="178.72" y="352.19" width="19.54" height="10.13" fill="#089878"/><rect x="198.26" y="352.19" width="9.76" height="10.13" fill="#75bd53"/><rect x="208.02" y="352.19" width="48.83" height="10.13" fill="#10a070"/><rect x="256.85" y="352.19" width="9.77" height="10.13" fill="#089878"/><rect x="266.62" y="352.19" width="9.76" height="10.13" fill="#028b8a"/><rect x="276.38" y="352.19" width="9.77" height="10.13" fill="#058693"/><rect x="286.15" y="352.19" width="48.83" height="10.13" fill="#0880a0"/><rect x="334.98" y="352.19" width="48.83" height="10.13" fill="#058693"/><rect x="383.81" y="352.19" width="9.76" height="10.13" fill="#0880a0"/><rect x="393.57" y="352.19" width="9.77" height="10.13" fill="#058693"/><rect x="403.34" y="352.19" width="58.6" height="10.13" fill="#028b8a"/><rect x="461.94" y="352.19" width="9.76" height="10.13" fill="#058693"/><rect x="471.7" y="352.19" width="29.3" height="10.13" fill="#028b8a"/><rect x="42" y="362.32" width="9.77" height="10.14" fill="#10a070"/><rect x="51.77" y="362.32" width="9.76" height="10.14" fill="#28a868"/><rect x="61.53" y="362.32" width="9.77" height="10.14" fill="#10a070"/><rect x="71.3" y="362.32" width="9.76" height="10.14" fill="#089878"/><rect x="81.06" y="362.32" width="9.77" height="10.14" fill="#028b8a"/><rect x="90.83" y="362.32" width="19.53" height="10.14" fill="#058693"/><rect x="110.36" y="362.32" width="9.77" height="10.14" fill="#009080"/><rect x="120.13" y="362.32" width="48.83" height="10.14" fill="#10a070"/><rect x="168.96" y="362.32" width="9.76" height="10.14" fill="#28a868"/><rect x="178.72" y="362.32" width="9.77" height="10.14" fill="#089878"/><rect x="188.49" y="362.32" width="9.77" height="10.14" fill="#009080"/><rect x="198.26" y="362.32" width="9.76" height="10.14" fill="#089878"/><rect x="208.02" y="362.32" width="9.77" height="10.14" fill="#009080"/><rect x="217.79" y="362.32" width="9.76" height="10.14" fill="#089878"/><rect x="227.55" y="362.32" width="19.54" height="10.14" fill="#10a070"/><rect x="247.09" y="362.32" width="9.76" height="10.14" fill="#089878"/><rect x="256.85" y="362.32" width="9.77" height="10.14" fill="#009080"/><rect x="266.62" y="362.32" width="9.76" height="10.14" fill="#028b8a"/><rect x="276.38" y="362.32" width="19.53" height="10.14" fill="#058693"/><rect x="295.91" y="362.32" width="97.66" height="10.14" fill="#0880a0"/><rect x="393.57" y="362.32" width="19.54" height="10.14" fill="#028b8a"/><rect x="413.11" y="362.32" width="19.53" height="10.14" fill="#009080"/><rect x="432.64" y="362.32" width="68.36" height="10.14" fill="#028b8a"/><rect x="42" y="372.46" width="19.53" height="10.13" fill="#10a070"/><rect x="61.53" y="372.46" width="9.77" height="10.13" fill="#089878"/><rect x="71.3" y="372.46" width="9.76" height="10.13" fill="#009080"/><rect x="81.06" y="372.46" width="9.77" height="10.13" fill="#028b8a"/><rect x="90.83" y="372.46" width="9.77" height="10.13" fill="#058693"/><rect x="100.6" y="372.46" width="9.76" height="10.13" fill="#028b8a"/><rect x="110.36" y="372.46" width="58.6" height="10.13" fill="#10a070"/><rect x="168.96" y="372.46" width="9.76" height="10.13" fill="#40b060"/><rect x="178.72" y="372.46" width="9.77" height="10.13" fill="#10a070"/><rect x="188.49" y="372.46" width="9.77" height="10.13" fill="#0876aa"/><rect x="198.26" y="372.46" width="58.59" height="10.13" fill="#009080"/><rect x="256.85" y="372.46" width="19.53" height="10.13" fill="#028b8a"/><rect x="276.38" y="372.46" width="29.3" height="10.13" fill="#058693"/><rect x="305.68" y="372.46" width="9.77" height="10.13" fill="#0880a0"/><rect x="315.45" y="372.46" width="48.83" height="10.13" fill="#0876aa"/><rect x="364.28" y="372.46" width="19.53" height="10.13" fill="#0880a0"/><rect x="383.81" y="372.46" width="9.76" height="10.13" fill="#058693"/><rect x="393.57" y="372.46" width="19.54" height="10.13" fill="#028b8a"/><rect x="413.11" y="372.46" width="48.83" height="10.13" fill="#009080"/><rect x="461.94" y="372.46" width="19.53" height="10.13" fill="#028b8a"/><rect x="481.47" y="372.46" width="9.76" height="10.13" fill="#0880a0"/><rect x="491.23" y="372.46" width="9.77" height="10.13" fill="#0e76b6"/><rect x="42" y="382.59" width="19.53" height="10.14" fill="#089878"/><rect x="61.53" y="382.59" width="19.53" height="10.14" fill="#009080"/><rect x="81.06" y="382.59" width="19.54" height="10.14" fill="#028b8a"/><rect x="100.6" y="382.59" width="29.29" height="10.14" fill="#089878"/><rect x="129.89" y="382.59" width="19.54" height="10.14" fill="#009080"/><rect x="149.43" y="382.59" width="19.53" height="10.14" fill="#28a868"/><rect x="168.96" y="382.59" width="9.76" height="10.14" fill="#40b060"/><rect x="178.72" y="382.59" width="9.77" height="10.14" fill="#a5cb45"/><rect x="188.49" y="382.59" width="9.77" height="10.14" fill="#0880a0"/><rect x="198.26" y="382.59" width="9.76" height="10.14" fill="#009080"/><rect x="208.02" y="382.59" width="48.83" height="10.14" fill="#028b8a"/><rect x="256.85" y="382.59" width="19.53" height="10.14" fill="#058693"/><rect x="276.38" y="382.59" width="19.53" height="10.14" fill="#028b8a"/><rect x="295.91" y="382.59" width="9.77" height="10.14" fill="#058693"/><rect x="305.68" y="382.59" width="19.53" height="10.14" fill="#0880a0"/><rect x="325.21" y="382.59" width="19.53" height="10.14" fill="#0876aa"/><rect x="344.74" y="382.59" width="19.54" height="10.14" fill="#0880a0"/><rect x="364.28" y="382.59" width="19.53" height="10.14" fill="#058693"/><rect x="383.81" y="382.59" width="9.76" height="10.14" fill="#028b8a"/><rect x="393.57" y="382.59" width="58.6" height="10.14" fill="#009080"/><rect x="452.17" y="382.59" width="9.77" height="10.14" fill="#028b8a"/><rect x="461.94" y="382.59" width="9.76" height="10.14" fill="#0880a0"/><rect x="471.7" y="382.59" width="9.77" height="10.14" fill="#0e76b6"/><rect x="481.47" y="382.59" width="9.76" height="10.14" fill="#268ece"/><rect x="491.23" y="382.59" width="9.77" height="10.14" fill="#5baee3"/><rect x="42" y="392.73" width="9.77" height="10.13" fill="#089878"/><rect x="51.77" y="392.73" width="9.76" height="10.13" fill="#10a070"/><rect x="61.53" y="392.73" width="9.77" height="10.13" fill="#089878"/><rect x="71.3" y="392.73" width="19.53" height="10.13" fill="#009080"/><rect x="90.83" y="392.73" width="9.77" height="10.13" fill="#089878"/><rect x="100.6" y="392.73" width="9.76" height="10.13" fill="#28a868"/><rect x="110.36" y="392.73" width="9.77" height="10.13" fill="#10a070"/><rect x="120.13" y="392.73" width="9.76" height="10.13" fill="#089878"/><rect x="129.89" y="392.73" width="9.77" height="10.13" fill="#009080"/><rect x="139.66" y="392.73" width="9.77" height="10.13" fill="#10a070"/><rect x="149.43" y="392.73" width="9.76" height="10.13" fill="#28a868"/><rect x="159.19" y="392.73" width="9.77" height="10.13" fill="#10a070"/><rect x="168.96" y="392.73" width="9.76" height="10.13" fill="#75bd53"/><rect x="178.72" y="392.73" width="9.77" height="10.13" fill="#f0e038"/><rect x="188.49" y="392.73" width="9.77" height="10.13" fill="#40b060"/><rect x="198.26" y="392.73" width="9.76" height="10.13" fill="#089878"/><rect x="208.02" y="392.73" width="9.77" height="10.13" fill="#009080"/><rect x="217.79" y="392.73" width="9.76" height="10.13" fill="#028b8a"/><rect x="227.55" y="392.73" width="48.83" height="10.13" fill="#058693"/><rect x="276.38" y="392.73" width="29.3" height="10.13" fill="#028b8a"/><rect x="305.68" y="392.73" width="9.77" height="10.13" fill="#058693"/><rect x="315.45" y="392.73" width="29.29" height="10.13" fill="#0880a0"/><rect x="344.74" y="392.73" width="19.54" height="10.13" fill="#058693"/><rect x="364.28" y="392.73" width="19.53" height="10.13" fill="#028b8a"/><rect x="383.81" y="392.73" width="19.53" height="10.13" fill="#009080"/><rect x="403.34" y="392.73" width="19.53" height="10.13" fill="#028b8a"/><rect x="422.87" y="392.73" width="19.53" height="10.13" fill="#058693"/><rect x="442.4" y="392.73" width="9.77" height="10.13" fill="#0876aa"/><rect x="452.17" y="392.73" width="9.77" height="10.13" fill="#0e76b6"/><rect x="461.94" y="392.73" width="9.76" height="10.13" fill="#268ece"/><rect x="471.7" y="392.73" width="9.77" height="10.13" fill="#40a2de"/><rect x="481.47" y="392.73" width="9.76" height="10.13" fill="#5baee3"/><rect x="491.23" y="392.73" width="9.77" height="10.13" fill="#68a4d0"/><rect x="42" y="402.86" width="19.53" height="10.14" fill="#089878"/><rect x="61.53" y="402.86" width="19.53" height="10.14" fill="#10a070"/><rect x="81.06" y="402.86" width="9.77" height="10.14" fill="#089878"/><rect x="90.83" y="402.86" width="29.3" height="10.14" fill="#28a868"/><rect x="120.13" y="402.86" width="9.76" height="10.14" fill="#10a070"/><rect x="129.89" y="402.86" width="9.77" height="10.14" fill="#089878"/><rect x="139.66" y="402.86" width="9.77" height="10.14" fill="#10a070"/><rect x="149.43" y="402.86" width="9.76" height="10.14" fill="#75bd53"/><rect x="159.19" y="402.86" width="9.77" height="10.14" fill="#40b060"/><rect x="168.96" y="402.86" width="19.53" height="10.14" fill="#75bd53"/><rect x="188.49" y="402.86" width="9.77" height="10.14" fill="#c5d540"/><rect x="198.26" y="402.86" width="9.76" height="10.14" fill="#40b060"/><rect x="208.02" y="402.86" width="9.77" height="10.14" fill="#089878"/><rect x="217.79" y="402.86" width="9.76" height="10.14" fill="#009080"/><rect x="227.55" y="402.86" width="19.54" height="10.14" fill="#028b8a"/><rect x="247.09" y="402.86" width="29.29" height="10.14" fill="#058693"/><rect x="276.38" y="402.86" width="29.3" height="10.14" fill="#028b8a"/><rect x="305.68" y="402.86" width="9.77" height="10.14" fill="#058693"/><rect x="315.45" y="402.86" width="9.76" height="10.14" fill="#0880a0"/><rect x="325.21" y="402.86" width="19.53" height="10.14" fill="#058693"/><rect x="344.74" y="402.86" width="9.77" height="10.14" fill="#028b8a"/><rect x="354.51" y="402.86" width="39.06" height="10.14" fill="#009080"/><rect x="393.57" y="402.86" width="19.54" height="10.14" fill="#028b8a"/><rect x="413.11" y="402.86" width="9.76" height="10.14" fill="#058693"/><rect x="422.87" y="402.86" width="9.77" height="10.14" fill="#0880a0"/><rect x="432.64" y="402.86" width="9.76" height="10.14" fill="#0e76b6"/><rect x="442.4" y="402.86" width="9.77" height="10.14" fill="#268ece"/><rect x="452.17" y="402.86" width="9.77" height="10.14" fill="#40a2de"/><rect x="461.94" y="402.86" width="29.29" height="10.14" fill="#5baee3"/><rect x="491.23" y="402.86" width="9.77" height="10.14" fill="#68a4d0"/></g><g clip-path="url(#c0)"><g fill="none" stroke="#000" stroke-width="0.95" stroke-linejoin="round"><polyline points="206.5,31.0 207.9,31.3 209.3,31.7 210.1,33.0 211.5,33.4 212.4,32.1 214.0,32.1 215.1,31.1 216.5,30.6 218.1,30.1 219.5,31.0 221.2,30.4 222.6,31.4 224.1,31.2 225.6,30.5 227.1,30.4 228.6,31.0 230.0,31.6 231.1,32.8 232.7,33.0 234.0,31.9 235.7,32.0 235.6,33.3 235.4,34.6 235.3,35.9 235.1,37.2 235.0,38.5 234.8,39.8 234.7,41.1 234.8,42.6 233.8,43.7 233.0,45.0 233.2,46.5 233.2,47.9 232.7,49.2 231.4,50.4 232.4,52.4 230.6,53.5 230.7,55.2 229.9,56.5 229.1,57.6 227.6,58.2 227.9,59.6 227.2,60.8 226.0,61.9 226.2,63.3 226.3,65.1 225.3,66.6 225.0,68.3 224.1,69.4 223.8,70.8 222.9,71.9 222.9,73.5 221.6,74.4 221.5,76.0 220.5,77.2 219.1,78.0 218.6,79.4 218.0,80.9 217.5,82.5 216.5,83.8"/><polyline points="216.5,83.8 217.4,82.8 218.1,81.6 218.7,80.4 220.2,79.8 220.6,78.4 221.8,77.6 222.3,76.1 223.7,75.5 224.6,74.4 225.6,73.4 226.9,72.8 227.6,71.6 227.9,70.1 229.6,69.9 229.4,67.9 230.7,67.3 231.2,65.7 232.3,64.5 232.0,62.6 233.1,61.3 233.6,60.1 233.4,58.6 234.9,57.8 235.6,56.6 235.7,55.2 236.4,53.8 237.5,52.7 237.2,50.9 238.4,49.7 238.7,48.2 239.3,46.8 239.6,45.4 239.8,43.9 240.9,42.7 240.7,41.1 241.9,40.2 241.7,38.6 242.5,37.5 242.0,35.9 243.2,35.0 244.0,33.9 244.5,32.7 245.5,31.7 245.8,30.4 245.8,29.0"/><polyline points="271.0,46.1 270.2,47.2 269.1,47.9 267.8,48.4 267.5,50.1 266.0,50.4 264.9,51.2 263.9,52.7 262.6,53.7 260.9,54.2 259.7,55.1 258.2,54.1 256.9,54.8 255.7,53.5 255.2,51.9 254.9,50.2 253.5,50.0 252.3,48.9 250.8,49.2 251.2,50.7 250.2,51.9 249.7,53.2 248.8,54.4 248.6,55.7 248.8,57.2 248.4,58.5 248.1,59.7 247.7,61.0 247.3,62.2 246.9,63.5 246.6,64.8 246.2,66.0 245.8,67.3 245.5,68.6 245.2,69.8 244.8,71.1 244.5,72.3 244.2,73.6 243.8,74.9 243.5,76.1 243.2,77.4 242.5,78.7 243.4,80.1 243.1,81.5 243.2,82.8 242.2,84.1 242.8,85.5 241.8,86.7 243.0,88.2 242.8,89.6 242.5,90.9 242.3,92.2 241.7,93.5 242.0,94.8 242.1,96.2 242.8,97.5 243.5,98.7 243.1,100.2 243.2,101.6 243.2,103.0 242.6,104.3 241.7,105.5 241.9,106.9 241.9,108.3 241.7,109.7 241.0,111.1 240.4,112.6 240.9,114.4 239.7,115.7 238.7,117.3 238.6,119.0 238.7,120.8 240.7,119.7 239.6,121.1 239.7,122.8 238.1,123.4 237.1,124.9 235.7,125.8 234.7,127.8 233.1,127.5 231.7,126.8 230.5,128.4 228.6,128.8 226.6,129.8"/><polyline points="271.0,46.3 277.1,49.3 282.7,52.4 286.2,63.5 289.3,72.7 291.8,79.8"/><polyline points="329.4,34.3 330.4,33.3 330.5,31.6 332.0,31.0 334.0,32.0 336.0,31.5 337.0,30.3 338.6,30.5 340.1,30.2 340.6,32.0 341.3,33.3 341.5,34.7 341.1,36.1 342.1,37.5 342.6,39.2 344.2,40.0 344.7,41.7 346.7,42.2 348.2,43.7 348.2,45.8 349.5,46.4 350.4,47.4 350.8,48.8 352.3,50.8 353.8,50.3 354.5,51.8 354.8,53.4 355.9,52.2 357.4,52.6 359.0,52.9 360.4,51.9 362.0,51.9 363.5,51.6 364.8,50.6 366.5,50.8 369.0,50.5 370.1,51.9 368.5,53.9 367.5,55.1 366.0,55.6 367.5,56.4 369.3,56.4 371.1,56.9 372.5,57.5 373.6,58.5 375.6,58.0 376.9,56.6 378.7,56.4 380.0,57.5 381.7,57.4 383.3,57.7 384.3,56.4 385.5,55.9 386.8,55.6 388.1,55.2 389.4,54.9 390.6,54.0 392.0,54.4"/><polyline points="354.3,29.0 354.6,30.5 353.9,31.8 353.3,33.1 353.4,34.7 352.1,36.0 352.3,37.6 353.7,38.3 354.3,39.7 355.6,38.4 357.4,38.7 359.9,39.2 359.5,40.7 360.5,41.9 360.9,43.2 362.4,44.7 363.8,43.6 365.5,43.7 367.0,44.6 368.5,45.3 370.4,45.3 371.6,46.8 372.9,46.8 374.3,47.6 375.6,46.8 377.3,47.1 378.7,46.5 380.2,45.8 380.6,44.3 381.7,43.2 380.7,41.2 382.1,40.0 383.8,39.2 383.8,40.9 382.8,42.2 384.0,43.6 385.8,44.2 387.8,43.2 388.3,44.8 388.9,46.3 390.2,47.5 392.0,47.8"/><polyline points="357.9,29.0 358.4,30.3 358.7,31.7 358.4,33.1 359.4,34.3 360.9,34.6 361.4,36.1 362.6,36.7 364.0,37.1 364.6,38.9 366.0,40.2 367.5,41.7 367.8,40.1 367.0,38.7 368.5,37.1 369.8,37.7 371.3,37.0 372.6,37.6 374.1,37.1 375.6,36.6 377.2,36.6 378.7,37.1 379.7,35.7 381.1,35.0 382.8,35.1 384.0,34.1 385.3,33.4 386.8,33.1 388.2,32.7 389.6,32.4 390.4,31.0 392.0,30.0"/><polyline points="351.8,59.0 353.0,59.9 353.6,61.6 355.3,62.0 355.8,63.5 356.9,64.3 358.4,64.6 360.9,64.1 362.4,62.5 364.0,63.0 364.5,65.1 362.4,66.6 360.9,68.1"/><polyline points="358.4,66.6 358.1,68.2 357.4,69.6 357.3,71.0 356.8,72.2 355.8,73.2 354.9,74.8 353.3,75.7 352.7,77.3 351.3,78.3 349.7,79.8"/><polyline points="362.4,67.1 361.5,68.5 360.4,69.9 360.4,71.7 359.2,72.8 359.1,74.4 358.4,75.7 357.5,76.9 356.5,78.2 356.3,79.8"/><polyline points="360.4,79.8 361.4,78.4 363.3,78.4 364.5,77.3 366.0,77.3 367.1,76.5 368.2,75.9 369.2,74.9 370.2,73.8 371.6,73.7 373.2,73.7 374.3,72.4 376.0,72.7 377.5,72.5 378.7,71.2 380.0,70.8 381.4,70.6 382.9,71.3 384.2,70.7 385.4,69.6 386.8,69.9 385.8,71.7 384.8,73.1 383.4,73.9 381.7,74.2 380.0,74.4 378.8,75.4 377.7,76.7 377.1,78.2 375.2,78.4 374.6,79.8"/><polyline points="392.0,30.0 393.3,31.2 395.0,31.0 396.6,30.9 398.1,31.5 397.5,32.7 397.7,34.1 396.6,35.1 396.4,36.8 394.2,37.0 394.0,38.7 394.9,39.9 396.0,40.7 397.1,41.7 396.1,43.4 396.6,45.3 395.5,46.0 394.0,46.0 392.9,46.7 392.0,47.8"/><polyline points="392.0,53.4 393.4,52.9 394.7,53.0 396.1,53.4 396.9,54.5 397.1,55.9 398.4,55.3 399.8,55.7 401.1,55.4 402.2,53.4 402.9,51.8 404.1,50.6 405.2,49.3 405.4,47.7 407.3,47.1 407.3,45.3 408.3,44.2 409.8,43.2 410.6,44.7 411.3,46.3 412.4,47.7 413.8,48.8 415.6,49.5 417.4,48.8 418.9,47.3 419.9,45.3 419.0,44.0 418.8,42.2 417.4,41.2 416.9,39.8 416.5,38.4 415.9,37.1 415.8,35.8 414.8,34.5 415.4,33.1 415.6,31.7 415.5,30.2 416.4,29.0"/><polyline points="446.9,29.0 447.0,30.8 445.0,31.5 444.8,33.1 444.5,34.6 443.3,35.6 442.2,36.7 441.8,38.1 440.7,39.1 440.0,40.4 438.7,41.2 437.7,42.2 436.2,42.4 434.7,42.7 432.6,41.2 431.3,41.9 431.1,43.7 429.6,44.2 428.3,44.9 427.1,45.8 426.0,47.8 427.6,49.8 427.1,51.9 426.0,53.0 424.5,53.4 425.5,54.4 426.7,53.5 428.4,53.8 429.6,52.9 431.0,52.4 432.4,52.0 433.7,51.4 435.2,52.9 434.0,53.6 432.9,54.4 432.6,55.9 430.1,56.4 428.6,58.5 427.6,59.6 426.5,60.5 424.7,61.1 423.0,62.0 421.5,64.1 420.6,65.3 419.8,66.4 418.9,67.6 417.8,68.4 417.3,69.7 416.4,70.7 415.3,71.7 414.4,72.7 413.3,73.7 411.7,74.4 411.0,75.9 410.3,77.3 408.6,78.1 407.7,79.8"/><polyline points="424.5,34.6 427.1,31.5 429.6,29.0"/><polyline points="427.1,36.1 427.2,38.0 428.6,39.2 427.1,41.2 428.5,40.3 430.1,40.2 431.4,39.2 432.6,38.1 433.7,37.0 433.9,35.6 433.7,34.1 433.8,32.5 434.5,31.1 435.7,30.0 436.7,29.0"/><polyline points="473.9,79.8 474.5,79.0"/><polyline points="291.3,79.0 291.9,80.3 293.0,81.5 292.8,83.1 293.7,84.5 294.6,85.9 294.4,87.6 294.5,89.0 294.6,90.4 295.4,91.7 296.6,93.1 298.4,93.2 299.9,92.6 301.5,93.2 304.0,93.7 303.8,95.1 304.1,96.5 304.5,97.8 306.1,99.3 307.0,101.0 306.6,102.9 307.1,104.4 308.6,104.9 310.1,105.9 311.6,104.4 312.7,102.9 314.2,104.4 315.7,103.9 317.2,102.9 318.7,103.4 320.8,104.4 322.8,103.4 324.5,103.3 325.4,101.9 326.4,100.7 327.9,100.3 329.9,100.8 331.1,99.8 330.9,98.3 333.0,97.3 332.0,95.8 333.2,94.9 334.5,94.2 333.5,92.2 332.0,91.2 333.0,90.2 334.0,89.2 333.5,87.6 333.5,89.3 335.0,90.2 335.0,92.1 336.0,93.7 337.4,93.4 338.6,94.2 339.8,92.9 341.1,91.7 342.0,90.7 342.6,89.5 343.6,88.7 344.0,87.2 345.1,86.1 346.2,85.1 347.3,84.1 347.2,82.2 348.7,81.5 349.8,80.3 350.8,79.0"/><polyline points="320.8,104.4 320.7,106.1 321.3,107.9 320.3,109.5 320.4,110.9 319.8,112.1 319.8,113.5 319.2,114.7 319.4,116.2 318.2,117.1 316.6,117.5 316.2,119.1 313.7,119.6 312.4,120.0 311.6,121.2 310.1,122.7 308.3,123.1 307.6,124.7 307.1,126.6 305.5,127.8 304.0,129.8"/><polyline points="323.8,113.5 325.4,112.0 326.4,114.1 326.3,115.7 325.4,117.1 323.8,118.4 323.3,116.1 322.8,114.7 323.8,113.5"/><polyline points="367.0,80.5 365.4,81.5 364.5,83.1 363.7,84.4 362.9,85.6 361.5,86.2 360.4,87.1 359.0,87.7 358.3,88.8 358.3,90.4 357.6,91.6 356.3,92.2 354.9,92.9 354.6,94.4 353.6,95.4 353.7,97.1 352.3,97.8 352.2,99.5 350.5,100.2 350.1,101.7 349.2,102.9 349.0,104.8 346.9,105.5 346.7,107.4 345.9,108.4 345.0,109.4 345.4,111.2 344.1,112.0 342.9,113.3 343.4,115.4 342.1,116.6 341.0,118.2 341.1,120.1 341.5,118.8 342.1,117.6 342.5,116.3 343.5,115.3 344.1,114.1 345.6,113.1 345.5,111.2 346.7,110.0 347.0,108.4 348.4,107.6 349.2,106.4 349.7,105.1 350.4,104.0 351.8,103.4"/><polyline points="342.1,120.7 343.1,124.7 343.6,129.8"/><polyline points="355.3,80.0 356.3,81.4 356.3,83.1 357.6,81.8 359.4,82.0 359.7,80.5 360.9,79.5"/><polyline points="367.0,80.5 368.5,79.0"/><polyline points="370.1,83.6 371.5,83.8 372.6,84.6 374.6,84.1 375.4,85.2 375.6,86.6 373.6,85.1"/><polyline points="392.0,92.2 390.5,91.5 388.9,91.7 390.2,92.7 390.9,94.2 391.4,95.5 391.9,96.8 390.7,97.7 389.2,97.7 387.8,97.8 385.8,97.3 383.8,97.0 382.8,95.3 382.6,96.7 381.7,97.8 383.3,98.8 382.0,100.1 380.2,99.8 378.8,99.9 377.7,100.8 377.9,102.6 378.2,104.4 379.7,105.9 379.7,107.4 378.7,108.5 380.2,109.5 379.4,110.5 378.0,111.0 377.7,112.5 377.8,114.3 376.7,115.6 375.7,116.6 375.6,118.1 375.0,119.4 374.3,120.5 373.6,121.7 372.6,123.3 372.6,125.2 371.1,126.7 370.8,128.3 370.1,129.8"/><polyline points="409.8,79.0 408.5,80.2 407.2,81.5 406.0,82.1 404.7,82.6 404.2,84.1 402.7,84.9 401.1,85.1 399.6,87.1 398.0,87.4 397.1,88.7 395.8,89.4 395.0,90.7 393.8,91.8 393.0,93.2 392.7,95.0 392.0,96.8 392.0,98.3"/><polyline points="467.2,83.6 468.7,83.2 470.2,83.3 471.4,81.7 473.3,81.5 473.5,79.9 474.8,79.0"/><polyline points="30.0,155.9 31.6,156.8 31.7,158.9 33.1,160.0 34.2,160.9 35.1,161.9 35.9,163.0 36.1,164.5 37.3,165.4 38.7,165.1 39.2,167.6 39.3,169.1 40.3,170.1 41.2,171.1 42.8,171.0 44.2,171.7 45.3,169.6 47.3,170.1 48.0,171.3 47.8,172.7 46.8,174.7 48.3,175.4 49.3,176.7 49.8,178.8 50.9,179.8 51.9,180.8"/><polyline points="150.0,164.0 145.8,170.6 141.8,177.2 139.7,180.8"/><polyline points="150.0,163.5 151.0,162.6 152.0,161.7 153.0,160.8 154.1,159.9 155.1,159.1 156.1,158.2 157.1,157.3 158.1,156.4 159.4,156.1 160.6,155.8 161.9,155.5 163.2,155.1 164.5,154.8 165.7,154.5 167.0,154.2 168.3,153.9 169.5,153.6 170.8,153.2 172.1,152.9 173.3,152.6 174.6,152.3 175.9,152.0 177.2,151.7 178.4,151.3 179.7,151.0 181.0,150.7 182.2,150.4 183.5,150.1 184.8,149.8 186.1,149.4 187.3,149.1 188.6,148.8 189.9,148.4 191.1,148.1 192.4,147.7 193.6,147.3 194.9,146.9 196.1,146.6 197.4,146.2 198.6,145.8 199.9,145.4 201.1,145.1 202.4,144.7 203.6,144.3 204.9,143.9 206.1,143.6 207.4,143.2 208.7,142.8 209.9,142.5 211.2,142.1 212.4,141.7 213.7,141.3 214.9,141.0 216.2,140.6 217.4,140.2 218.7,139.8 219.9,139.5 221.2,139.1 222.4,138.7 223.7,138.3 224.9,138.0 226.2,137.6"/><polyline points="188.6,148.8 189.5,150.2 189.4,151.8 189.6,153.4 190.4,154.5 189.6,156.1 190.0,157.4 191.1,158.4 191.6,159.7 192.6,160.8 191.9,162.5 193.2,163.5 193.9,164.7 194.2,166.0 195.1,167.1 194.7,168.6 195.1,170.1 195.2,171.7 194.5,173.2 193.7,174.7 194.0,176.1 194.9,177.3 194.7,178.8 195.7,180.8"/><polyline points="226.7,130.0 226.9,131.4 227.9,132.6 227.2,134.1 227.1,136.0 226.2,137.6 227.1,139.1 226.7,140.6 226.7,142.2 227.3,143.7 227.2,145.0 226.2,146.3 227.5,147.6 228.2,149.3 229.4,150.3 229.8,151.8 229.1,153.6 228.7,155.4 227.7,156.9 226.7,158.4 224.7,160.0 222.6,161.0 221.9,162.7 222.1,164.5 222.0,166.0 222.0,167.6 221.8,169.1 222.6,170.6 222.6,172.3 222.6,174.0 222.1,175.7 221.1,177.3 222.4,179.2 221.6,180.8"/><polyline points="233.8,130.0 237.4,140.2 241.4,151.3 245.0,161.5 249.1,172.7 252.1,180.8"/><polyline points="49.8,180.0 50.8,181.1 52.1,181.9 53.4,182.5 55.2,183.3 55.9,185.1 58.0,184.6 57.4,186.6 59.0,187.6 57.7,187.0 56.4,187.6 55.6,186.1 53.9,185.6 51.9,187.1 49.8,188.1 50.8,190.2 52.9,191.7 52.9,193.5 53.4,195.2 52.3,196.6 51.9,198.3 50.6,197.8 49.3,198.3 47.8,198.6 46.6,197.6 45.3,197.3 43.9,196.8 42.8,195.7 41.2,195.7 40.6,194.1 39.2,193.2 37.1,192.7 35.1,194.2 33.9,195.5 33.6,197.3 32.6,195.2 33.0,193.7 33.1,192.2 31.0,191.2 30.0,189.1 30.5,187.1 29.0,186.6"/><polyline points="141.8,180.0 140.3,180.3 139.5,181.4 138.7,182.5 137.3,182.9 136.5,184.3 135.4,185.3 134.1,185.9 132.6,186.1 131.5,187.0 130.5,188.1 128.6,187.8 127.7,188.9 126.5,189.7 125.3,190.3 124.1,191.0 123.0,191.7 122.0,192.7 121.0,194.0 119.9,195.2 118.4,194.4 118.4,192.7 116.4,194.2 114.7,194.2 113.3,195.2 111.6,195.6 110.3,196.8 109.0,197.8 107.7,198.8 109.3,199.8 110.8,199.6 112.3,199.3 111.3,200.8 112.7,201.6 114.3,201.8 116.4,202.9 118.4,203.9 118.9,202.3 120.4,201.8 122.2,201.1 123.5,199.8 122.1,200.0 120.9,199.3 120.8,197.8 122.0,196.8 120.7,196.3 119.9,195.2"/><polyline points="107.7,198.8 106.2,199.5 105.2,200.8 104.2,201.9 102.5,201.7 101.0,202.0 100.1,203.4 98.9,204.0 97.7,204.8 96.5,205.2 95.1,205.5 94.0,206.4 92.6,206.6 91.5,207.5 90.2,208.0 89.4,209.5 87.9,209.5 86.9,210.6 85.6,210.9 84.1,210.6 83.1,211.8 81.8,212.0 80.4,212.4 79.4,213.8 77.8,213.5 77.3,215.1 76.0,215.8 74.7,216.6 73.5,217.8 72.4,219.1 71.7,220.6 70.5,221.4 69.9,222.9 68.6,223.7 67.8,225.2 67.1,226.7 66.7,228.1 66.2,229.5 65.6,230.8"/><polyline points="141.8,180.0 140.8,182.0 140.2,183.5 138.3,183.6 137.7,185.1 137.1,186.7 135.0,187.3 134.7,189.1 133.0,190.2 132.6,192.2 134.3,192.2 135.2,193.7 136.7,194.4 138.2,195.2 137.2,196.6 137.2,198.3 135.7,198.8 136.5,200.2 138.2,200.3 138.6,201.6 139.2,202.9 139.2,204.4 139.9,205.8 139.7,207.4 138.2,207.9 137.7,209.5 136.5,210.9 134.7,211.5 133.7,212.4 133.4,213.9 132.1,214.5 131.2,215.5 129.8,216.1 129.6,217.6 128.8,219.1 126.9,219.2 126.0,220.6 124.7,221.4 123.5,222.2 122.0,221.7 120.6,222.3 119.3,223.3 117.7,222.3 116.4,223.2 114.6,223.9 112.8,224.5 111.1,224.3 110.3,222.7 108.8,223.4 107.6,222.4 106.2,222.2 104.7,222.4 103.2,222.8 101.7,223.2 100.1,222.7 98.6,223.3 97.1,223.8 95.4,223.3 94.0,224.2 93.0,225.5 91.3,224.8 90.0,225.2 88.9,226.2 87.9,227.4 86.1,226.9 85.0,227.8 83.9,228.8 82.2,228.9 81.3,230.5 79.8,230.8"/><polyline points="194.7,180.0 195.6,181.3 196.2,182.7 196.7,184.1 196.4,185.7 197.6,186.8 198.3,188.1 198.2,189.7 197.7,191.2 199.8,192.2 201.3,190.7 202.2,191.9 202.8,193.2 203.5,194.8 204.2,196.5 203.8,198.3 204.7,199.4 203.8,201.0 205.0,202.0 204.9,203.4 204.6,205.1 206.1,206.3 206.4,207.9 206.4,209.5 206.8,211.0 207.7,212.4 207.7,214.0 207.9,215.6"/><polyline points="221.6,180.0 220.7,181.3 220.8,182.7 220.8,184.0 221.0,185.4 220.5,186.7 221.1,188.1 220.6,189.6 221.4,191.0 221.3,192.4 222.7,193.7 222.1,195.2 222.0,196.8 222.7,198.2 222.4,199.8 223.1,201.3 222.7,203.0 223.1,204.7 222.6,206.4 223.4,207.9 222.6,209.5 224.2,211.5"/><polyline points="207.9,215.8 215.0,214.0 224.2,211.5 233.3,209.0 241.4,206.9 247.5,205.4 251.6,202.9 254.6,200.3 257.7,198.8 259.2,198.3"/><polyline points="207.9,215.6 207.9,220.6 208.1,225.7 208.4,230.8"/><polyline points="250.1,180.0 251.6,182.0 252.1,183.5 254.1,183.6 254.6,185.1 255.7,186.1 256.9,186.9 257.7,188.1 258.5,189.3 258.3,191.0 259.2,192.2 258.4,193.7 259.6,195.2 258.9,196.8 259.2,198.3 260.2,199.4 260.7,200.8 261.7,201.9 262.8,202.9 265.3,203.4 264.8,205.4 263.4,206.1 261.8,206.4 261.8,208.1 260.7,209.5 262.2,210.7 262.8,212.5 264.2,213.6 264.2,215.6 265.8,216.6 266.8,217.9 268.2,219.0 268.9,220.6 269.5,222.1 271.0,222.7"/><polyline points="237.4,230.3 241.4,228.8 245.5,227.7"/><polyline points="250.6,224.7 253.6,226.7 255.7,230.8"/><polyline points="65.1,230.0 64.6,232.5 66.6,234.1 67.9,235.1 69.3,234.3 70.7,234.6 72.1,233.8 73.6,233.7 75.2,234.1 76.1,232.5 77.8,232.0 78.6,230.8 79.8,230.0"/><polyline points="80.8,230.0 81.7,231.3 81.6,232.7 81.3,234.1 82.2,235.7 82.3,237.6 83.3,239.0 84.4,240.2 85.9,241.7"/><polyline points="85.9,241.7 84.3,241.6 83.0,242.3 81.8,243.2 80.3,243.8 78.8,244.3 77.2,244.7 75.7,245.2 74.2,245.9 72.7,246.5 71.4,247.5 69.6,247.3 68.2,248.2 66.3,247.5 65.2,249.4 63.5,249.3 62.2,249.7 60.9,249.8 59.6,249.8 58.5,250.8 57.8,252.4 56.4,253.4 55.7,254.9 54.4,255.9 54.4,257.4 55.7,256.9 57.1,257.1 58.5,257.2 59.8,257.0 61.2,257.8 62.5,256.9"/><polyline points="54.4,257.4 52.7,257.3 51.4,258.4 50.2,257.5 48.5,258.5 47.3,257.4 45.8,258.0 44.6,256.7 43.2,256.9 41.8,256.4 40.5,257.3 39.2,257.4 37.8,257.8 36.8,259.3 35.1,259.0 34.2,260.0 32.6,260.1 32.0,261.5 30.6,262.3 29.5,263.5 29.0,265.1"/><polyline points="85.9,241.7 86.0,243.4 87.4,244.2 87.1,245.6 86.6,246.9 85.4,247.8 84.9,249.6 83.4,250.8 82.6,251.8 81.8,252.9 80.6,253.8 79.4,254.6 78.7,256.0 77.9,257.1 76.8,258.1 76.2,259.5 75.1,260.7 73.8,261.8 72.7,263.0 71.2,265.1 69.1,266.6 68.0,267.4 66.9,268.2 65.8,269.0 64.8,269.8 63.7,270.6 62.6,271.4 61.5,272.2 61.0,273.6 59.2,273.5 58.5,274.7 57.4,276.1 55.3,276.1 54.4,277.7 53.0,278.3 52.0,279.5 50.9,280.6 49.3,280.8"/><polyline points="71.2,265.1 72.1,266.7 72.2,268.6 72.2,270.4 72.7,272.2 74.0,271.8 75.4,271.5 76.7,271.1 78.0,270.8 79.4,270.4 80.7,270.1 82.0,269.7 83.3,269.4 84.7,269.0 86.0,268.7 87.3,268.3 88.7,268.0 90.0,267.6 91.3,267.3 92.5,267.0 93.8,266.6 95.1,266.3 96.3,266.0 97.6,265.7 98.9,265.4 100.2,265.1 101.4,264.7 102.7,264.4 104.0,264.1 105.2,263.8 106.5,263.5 107.8,263.1 109.0,262.8 110.3,262.5 111.6,262.2 112.8,261.9 114.1,261.5 115.4,261.2 116.6,260.9 117.9,260.6 119.2,260.3 120.4,259.9 121.7,259.6 123.0,259.3 124.3,259.0 125.5,258.7 126.8,258.4 128.1,258.0 129.3,257.7 130.6,257.4 131.9,257.2 133.2,257.0 134.5,256.8 135.8,256.6 137.1,256.4 138.4,256.2 139.7,256.0 140.9,255.8 142.2,255.6 143.5,255.4 144.8,255.2 146.1,255.0 147.4,254.8 148.7,254.6 150.0,254.4"/><polyline points="207.9,230.0 207.6,231.4 208.7,232.7 208.9,234.0 208.2,235.4 208.2,236.8 208.4,238.1 209.7,237.8 210.9,237.4 212.2,237.0 213.5,236.7 214.8,236.3 216.0,236.0 217.3,235.7 218.6,235.3 219.8,234.9 221.1,234.6 222.4,234.3 223.7,233.9 224.9,233.6 226.2,233.3 227.5,233.0 228.8,232.7 230.0,232.3 231.3,232.0 232.6,231.5 233.9,230.9 235.4,231.2 236.5,229.9 238.0,230.0 239.4,230.0"/><polyline points="245.5,230.0 246.1,231.3 245.8,233.0 247.0,234.1 247.3,235.4 247.4,236.9 248.6,237.8 249.1,239.1 250.1,240.2 250.7,241.5 250.3,243.3 251.6,244.2 250.9,245.5 251.3,247.0 250.6,248.3"/><polyline points="255.7,232.0 256.7,236.1 259.2,239.1"/><polyline points="208.4,238.1 209.5,239.4 209.0,240.9 209.0,242.4 209.7,243.8 209.9,245.2 210.6,246.5 210.2,248.0 210.0,249.4 211.4,250.6 212.0,251.9 211.5,253.4 212.3,254.8 212.6,256.4 212.7,258.1 213.5,259.5 214.7,260.8 215.0,262.5"/><polyline points="150.0,254.9 151.3,254.6 152.6,254.3 153.9,254.0 155.2,253.7 156.5,253.4 157.8,253.1 159.2,252.9 160.5,252.6 161.8,252.3 163.1,252.0 164.4,251.7 165.7,251.4 167.0,251.1 168.3,250.8 169.0,252.0 170.0,252.8 171.3,253.4 173.1,254.2 174.9,254.9 176.3,255.8 176.9,257.4 176.4,259.1 177.4,260.5 178.7,261.5 179.5,263.0 180.6,264.2 182.4,264.0 183.5,265.1 185.2,265.1 186.6,266.1 187.8,267.0 189.4,266.8 190.6,267.6 191.7,268.8 193.3,268.6 194.7,269.1 196.0,268.4 197.4,268.3 198.8,268.6 200.2,268.8 201.4,269.5 202.7,270.3 204.3,269.3 205.6,270.1 206.9,270.6"/><polyline points="186.6,266.1 185.6,270.6 184.0,275.7 182.5,280.8"/><polyline points="251.6,258.4 250.5,259.8 248.4,259.8 247.5,261.5 246.5,263.0 245.3,264.1 243.5,264.5 242.6,266.1 240.9,266.7 239.4,267.6 237.6,268.1 236.3,269.1 235.3,270.6 233.7,271.3 232.1,272.0 231.3,273.7 229.5,274.1 228.7,275.9 227.2,276.7 226.2,278.2 224.0,278.2 223.1,279.8"/><polyline points="251.6,257.9 250.3,258.5 250.1,260.4 248.4,260.5 247.7,261.8 246.7,262.7 245.5,263.5 244.7,264.6 243.8,265.7 243.0,266.8 241.4,267.1 240.6,268.3 239.6,269.0 237.9,269.1 237.4,270.6 236.4,272.0 234.2,271.7 233.3,273.2 232.2,274.6 230.7,275.4 229.2,276.2 227.6,276.6 226.2,277.5 225.2,278.8"/><polyline points="236.4,261.5 240.4,259.5 242.5,258.4"/><polyline points="250.6,248.3 249.7,249.2 249.0,250.5 247.6,250.8 246.7,251.7 245.5,252.4 243.7,252.8 243.1,254.8 241.4,255.4 240.0,256.4 238.4,256.9 236.5,257.4 235.3,259.0 234.2,260.2 232.7,260.1 231.3,260.5 229.7,260.7 228.4,261.4 227.2,262.5 226.2,263.9 224.8,264.5 223.1,264.5 222.0,266.2 220.1,266.6 218.2,267.0 217.1,268.6 216.3,269.9 215.0,270.6 213.7,271.4 213.0,272.7"/><polyline points="49.3,280.0 47.6,280.3 46.8,281.9 45.3,282.5 44.2,283.4 42.5,282.8 41.4,283.9 40.2,284.6 39.1,285.7 37.5,285.8 36.5,287.1 35.1,287.6 34.3,288.9 33.6,290.2 31.7,290.4 31.0,291.7 29.4,292.5 29.0,294.2"/><polyline points="56.4,280.0 56.9,284.1 58.0,289.1 59.5,300.3 61.5,307.4 62.5,313.5 63.0,318.6 63.5,330.8"/><polyline points="136.7,330.3 150.0,327.7"/><polyline points="208.9,286.1 209.0,287.5 208.8,289.0 209.9,290.2 210.9,291.4 210.7,292.8 210.5,294.2 209.9,295.7 210.1,297.1 211.0,298.3 211.4,299.8 211.9,301.3 211.9,302.9 212.0,304.4 212.2,306.1 211.6,307.9 212.5,309.5 212.7,311.3 211.3,312.7 211.5,314.5 210.6,315.7 209.9,317.0 209.9,318.6 208.8,319.8 208.4,321.3 207.9,322.7 207.5,324.2 206.8,325.5 205.9,326.7 205.8,328.1 204.8,329.3 204.9,330.8"/><polyline points="182.5,280.0 183.1,281.6 182.8,283.1 181.7,284.5 182.0,286.1 182.9,287.3 183.7,288.6 183.5,290.2 184.9,291.2 184.8,292.9 185.6,294.2 186.6,295.4 187.1,296.8 186.5,298.7 187.6,300.3 186.6,301.4 186.1,302.6 186.9,304.2 186.1,305.4 186.2,307.0 185.7,308.4 184.5,309.5 184.0,311.0 183.5,312.5 182.2,313.7 181.6,315.3 180.5,316.6 179.8,318.2 178.5,319.4 177.4,320.6 176.5,321.9 175.8,323.2 175.4,324.7 174.7,326.0 174.2,327.3 174.4,328.8"/><polyline points="150.0,327.7 156.1,326.2 165.2,323.7 169.3,322.7"/><polyline points="206.9,287.1 202.8,289.1 198.8,292.2"/><polyline points="63.0,330.0 63.0,331.3 64.2,332.4 63.3,333.9 64.1,335.1 65.1,336.1 65.5,337.5 66.5,338.4 67.1,339.7 67.0,341.1 68.1,342.4 68.3,343.7 68.1,345.2 69.4,344.9 70.7,344.6 72.0,344.4 73.3,344.1 74.6,343.8 75.9,343.5 77.2,343.3 78.5,343.0 79.8,342.7 81.2,342.4 82.6,342.1 84.0,341.8 85.4,341.4 86.8,341.1 88.2,340.8 89.6,340.5 91.0,340.2 92.3,339.9 93.6,339.7 94.9,339.4 96.2,339.1 97.5,338.8 98.8,338.6 100.1,338.3 101.4,338.0 102.6,337.8 103.9,337.5 105.2,337.2 106.5,336.9 107.8,336.7 109.0,336.4 110.3,336.1 111.7,335.8 113.2,335.5 114.6,335.2 116.1,335.0 117.5,334.7 119.0,334.4 120.4,334.1 121.7,333.8 123.0,333.6 124.2,333.3 125.5,333.1 126.8,332.8 128.1,332.5 129.3,332.3 130.6,332.0 132.1,331.7 133.5,331.4 135.0,331.1 136.4,330.9 137.9,330.6 139.3,330.3 140.8,330.0"/><polyline points="62.5,336.1 62.4,337.7 61.5,339.1 61.9,340.9 60.5,342.4 61.0,344.2 60.7,345.6 61.0,347.0 60.5,348.3 59.8,349.6 58.2,350.1 58.0,351.8 57.0,353.2 56.3,354.8 54.9,355.9 53.6,356.8 53.0,358.2 52.4,359.5 50.8,359.9 50.8,362.0 49.3,362.5 48.5,363.6 47.2,364.2 46.8,365.6 45.1,366.1 44.2,367.6 43.0,368.9 43.2,370.6 44.2,372.0 43.7,373.7 42.6,374.5 41.2,374.7 39.2,373.2 38.1,374.3 36.6,374.2 36.3,375.9 35.1,377.2 33.8,378.8 34.1,380.8"/><polyline points="91.0,340.2 91.2,341.6 91.0,343.1 92.2,344.2 91.7,345.7 92.8,346.9 93.0,348.3 93.7,349.7 93.1,351.4 93.2,353.0 94.9,354.3 94.5,355.9 95.6,355.0 96.5,354.0 96.9,352.5 98.1,351.7 98.7,350.4 100.1,349.8 100.7,348.3 101.8,347.2 103.3,346.5 104.2,345.2 105.4,344.0 105.8,342.2 107.2,341.2 108.8,339.7 110.3,341.2 111.7,340.1 113.3,340.7 114.7,339.4 116.4,338.6 118.0,338.4 119.4,337.6 121.5,336.6 123.2,336.6 124.5,337.6 125.7,338.4 126.5,339.7"/><polyline points="119.4,343.2 119.6,345.0 118.2,346.5 118.4,348.3 118.5,349.7 119.5,350.9 118.9,352.4 118.6,354.1 117.4,355.2 116.4,356.4 115.6,357.6 114.6,358.8 114.7,360.6 113.3,361.5 113.1,363.1 111.7,364.1 111.3,365.6 109.8,366.0 108.2,366.1 108.0,367.5 107.2,368.6 107.0,370.1 105.5,371.1 105.7,372.7 105.7,374.1 104.9,375.3 104.7,376.7 104.0,377.9 103.1,378.9 102.1,379.8 100.8,378.7 99.1,378.8 98.1,377.1 96.1,376.7 94.0,377.2 94.7,378.4 95.0,379.8"/><polyline points="119.4,343.2 120.9,342.2 122.3,341.9 123.5,342.7 124.8,342.0 125.1,340.3 126.5,339.7 128.1,339.9 128.1,342.0 129.7,342.2 130.6,343.2 130.6,344.7 131.7,345.7 131.5,347.3 132.6,348.3 133.6,350.3 133.9,348.9 133.8,347.5 134.7,346.3 135.9,345.0 137.7,345.2 139.2,345.3 140.8,345.2 141.9,346.2 142.9,347.3 144.9,346.9 145.8,348.3 147.1,349.2 148.7,349.4 150.0,350.3"/><polyline points="149.4,350.3 149.4,364.5"/><polyline points="204.9,330.0 204.5,331.4 204.7,332.9 203.8,334.1 203.8,335.5 203.0,336.6 202.0,337.6 202.3,339.1 201.8,340.6 200.3,341.2 199.5,339.9 198.8,338.6 198.7,336.7 197.7,335.1 196.7,333.4 194.7,333.0 192.7,334.6 191.2,334.6 190.1,333.6 188.2,333.7 186.6,332.5 184.5,331.0 183.5,330.0"/><polyline points="177.4,336.1 177.3,337.8 177.9,339.3 179.3,340.3 180.6,341.5 180.5,343.2 180.2,344.8 181.5,346.0 181.0,347.6 181.9,348.9 182.5,350.3 182.4,351.8 183.9,352.8 183.3,354.5 184.7,355.6 184.8,357.0 185.1,358.4 186.7,358.8 188.2,358.6 189.6,357.3 191.1,357.1 192.7,357.4 194.1,356.9 195.5,356.8 196.9,356.3 198.2,355.6 199.8,355.9"/><polyline points="183.5,330.0 184.6,331.2 184.6,332.9 185.6,334.1 185.8,335.7 187.8,336.2 187.8,337.9 188.6,339.1 189.0,340.6 190.8,341.2 190.4,343.2 191.7,344.2 193.2,344.8 193.6,346.4 194.7,347.3 195.6,348.4 196.5,349.5 197.7,350.3 199.0,351.7 199.8,353.4 200.3,355.9 200.6,357.4 200.5,359.0 200.8,360.5 200.6,361.9 199.9,363.1 199.8,364.5 199.6,365.9 199.2,367.3 198.8,368.6 199.2,370.2 197.9,371.3 197.7,372.7 197.2,374.0 197.1,375.5 196.2,376.7 195.3,377.9 194.8,379.3 194.7,380.8"/><polyline points="201.3,356.4 201.5,357.8 202.2,359.1 201.8,360.5 201.5,362.0 201.8,363.7 200.8,365.1 201.0,366.8 200.1,368.1 199.6,369.6 199.8,371.2 198.8,372.4 198.3,373.7"/><polyline points="186.6,374.7 190.6,373.7 194.7,372.2 197.7,370.6"/><polyline points="168.8,340.2 169.1,341.2 170.8,341.7 169.5,343.3 170.3,344.2 171.9,344.8 170.4,346.5 170.6,347.6 171.8,348.3 172.0,349.3 173.6,350.0 172.6,351.4 172.9,352.4 172.3,353.4 170.3,352.7 170.3,354.4 171.8,354.9 170.3,356.9 171.8,357.4 171.3,359.3 172.6,359.9 173.9,360.5 173.4,361.8 175.5,362.2 173.7,364.0 175.4,364.5 176.4,364.8 176.9,366.5 178.4,365.6 180.3,365.4 180.5,363.5 181.7,364.3 180.1,365.7 179.8,366.8 182.6,367.3 181.5,368.6 182.8,369.3 183.5,370.6 184.1,369.4 182.1,368.8 184.1,367.4 182.0,366.7 182.5,365.6 182.2,367.0 184.5,367.1 184.0,368.6 184.5,369.6 183.7,371.1 186.1,371.4 185.6,372.7 186.7,373.4 186.6,374.7 186.9,375.7 187.8,376.5 187.6,377.7 189.4,378.1 189.5,379.4 189.1,380.8"/><polyline points="168.3,336.1 168.7,337.6 166.1,337.6 166.3,338.9 166.3,340.2 164.9,340.9 166.8,342.4 164.8,343.0 166.5,344.4 165.2,345.2 164.9,346.2 164.4,347.2 165.0,348.3 163.3,349.1 164.2,350.3 163.6,351.3 163.2,352.3 161.9,352.9 163.7,354.8 162.2,355.4 160.3,355.7 160.6,357.2 160.6,358.6 159.0,359.0 159.1,360.5 158.8,361.7 156.6,361.0 156.7,362.6 156.1,363.5 155.8,364.8 154.1,365.1 154.1,366.6 154.0,367.6 154.5,368.9 152.6,369.4 153.0,370.6 154.8,370.2 154.5,372.8 156.1,372.7 156.9,371.7 158.2,372.6 159.5,373.4 160.2,371.7 161.3,371.7 162.3,371.6 163.1,370.3 164.2,370.6 165.6,369.4 166.6,369.8 167.5,370.4 168.3,371.7 169.1,372.7 170.4,372.9 171.3,373.7 172.6,374.2 173.9,374.7"/><polyline points="162.2,343.2 162.3,344.9 164.1,345.7 164.2,347.3 165.6,348.3 166.1,350.1 167.3,351.3 168.7,352.3 169.4,353.7 169.3,355.4 170.0,356.7 170.9,357.9 170.8,359.5 171.9,360.7 172.9,361.9 173.4,363.5"/><polyline points="155.1,374.7 156.4,375.3 157.7,375.8 159.1,376.2 160.5,376.1 161.6,377.2 162.9,377.3 164.2,377.7 165.7,377.7 166.5,379.4 168.2,378.9 169.3,379.8 170.8,379.6 172.2,379.8 173.4,380.8"/><polyline points="150.0,367.6 152.0,370.6 151.0,374.7"/><polyline points="34.1,380.0 34.6,381.6 35.6,383.0 34.8,384.3 34.8,385.7 35.1,387.1 34.5,388.7 33.6,390.2"/><polyline points="29.0,403.4 30.3,404.5 31.7,405.6 32.0,407.4 32.6,408.6 33.6,409.5 34.7,410.3 35.1,411.6 36.1,412.5 37.2,413.5 37.6,415.1 38.9,415.9 40.2,416.6 41.5,417.1 41.8,418.8 43.2,419.1 45.3,418.6 46.3,420.1 46.8,422.2"/><polyline points="94.5,380.0 94.9,381.6 93.8,382.7 93.5,384.1 93.0,385.5 92.6,387.0 91.5,388.1 91.9,389.9 90.4,391.4 90.5,393.2 90.5,394.9 89.0,395.9 88.4,397.3 87.1,398.3 87.6,400.2 86.4,401.3 86.4,402.8 85.2,404.0 84.9,405.4 84.6,406.9 84.4,408.4 86.4,409.0 85.4,411.0 83.9,413.0 82.5,413.5 81.3,414.5 79.8,414.6 78.8,415.6 77.8,416.8 76.2,417.1 75.2,418.4 73.7,419.1 72.7,418.1 72.2,420.1 71.2,421.7 69.6,422.2"/><polyline points="189.1,380.0 189.4,381.2 189.9,382.4 187.2,382.8 188.1,384.1 187.1,384.9 187.1,386.0 189.0,387.4 186.3,387.9 187.1,389.1 186.5,390.2 187.4,391.1 186.7,392.2 187.6,393.2 187.6,394.2 188.6,395.1 189.2,396.0 189.0,397.1 189.8,398.0 188.6,399.3 189.5,400.1 189.6,401.3 190.9,400.7 191.1,399.3 191.6,398.2 191.9,397.2 191.4,396.2 190.0,395.3 190.6,394.2 190.9,393.1 190.7,391.9 191.8,390.9 191.1,389.7 192.0,389.1 192.4,387.8 193.7,387.6 194.4,386.6 195.7,385.7 194.7,384.1 194.0,383.0 196.1,382.2 193.6,380.8 195.2,380.0"/><polyline points="161.2,380.0 162.4,380.0 163.3,380.6 163.2,382.4 163.6,383.5 165.2,383.0 165.8,384.3 167.5,383.8 167.7,385.8 169.5,385.0 170.3,386.1 171.7,386.1 171.7,388.4 173.2,388.3 174.4,388.6 175.9,388.3 176.9,387.1 177.6,386.2 178.7,385.3 177.4,384.1 177.1,383.1 178.1,381.9 176.9,381.0"/><polyline points="174.4,388.6 175.1,389.7 175.8,390.8 177.5,390.4 178.4,391.2 178.5,392.6 179.6,393.3 180.5,394.2 180.9,395.3 181.0,396.4 180.0,397.3 179.1,396.6 177.5,397.8 176.9,396.3 176.6,398.2 178.4,398.8 177.9,400.3 176.4,399.8 174.8,400.6 173.9,399.9 173.4,398.3 173.1,396.6 171.1,397.4 170.3,396.3 168.8,396.7 167.6,396.5 167.3,394.7"/><polyline points="176.4,400.3 176.0,402.1 174.1,402.8 173.4,404.4 171.9,403.9 170.3,403.9 168.9,403.3 167.3,403.4 165.9,402.5 164.2,402.4 162.2,402.9"/><polyline points="183.5,409.5 184.9,408.5 186.6,409.1 188.0,408.4 189.6,408.4 190.2,410.3 191.7,411.5 191.9,413.1 192.4,414.5 193.7,415.6 195.0,416.6 194.5,418.5 195.7,419.6 195.5,421.2 196.7,422.2"/><polyline points="180.5,422.2 185.6,420.6 192.7,419.1 195.2,419.1"/><polyline points="173.4,404.4 173.8,406.3 175.4,407.4 177.0,407.3 178.3,408.0 179.5,409.0 180.9,408.5 182.3,408.5 183.5,409.5"/><polyline points="343.6,130.0 343.9,131.8 345.2,133.0 345.5,134.8 346.7,136.1 347.8,137.5 349.2,138.6 350.6,138.9 351.8,138.1 351.3,135.6 353.8,135.1 354.6,136.5 355.8,137.6 356.9,139.0 357.4,140.7 359.1,141.2 359.9,142.7 360.4,141.0 361.9,140.2 363.0,141.1 364.5,141.2 364.5,139.5 365.5,138.1 366.0,136.5 367.0,135.1 365.5,133.0 367.0,132.4 368.5,132.0 369.7,130.5 371.6,130.5"/><polyline points="304.0,130.0 303.0,131.5 301.5,132.5 300.9,133.8 299.5,134.3 298.9,135.6 297.9,136.8 296.9,137.9 295.0,138.1 294.4,139.7 292.8,139.9 291.3,140.2 288.8,139.7 288.6,137.9 287.3,136.6 286.2,134.6 285.5,135.8 285.2,137.1 283.7,138.6 284.9,139.6 284.7,141.2 284.7,142.6 284.5,143.9 284.2,145.2 283.7,146.5 284.3,147.9 284.0,149.3 284.7,151.3 283.7,152.7 283.3,154.3 282.7,155.9 281.6,156.9 279.8,156.3 279.0,158.1 277.2,157.4 276.1,158.4 274.7,157.8 274.0,156.4 274.3,158.2 273.0,159.5 271.0,160.5"/><polyline points="271.0,222.2 273.0,223.7 274.3,225.2 274.6,227.2 276.2,228.2 278.1,228.3 279.6,228.5 280.2,226.5 281.7,226.7 282.9,225.9 284.0,225.0 285.2,224.2 287.3,222.7"/><polyline points="278.1,217.1 280.1,215.6"/><polyline points="286.2,222.7 286.5,224.3 288.1,225.1 288.3,226.7 286.8,227.8 285.2,228.8 284.0,229.7 282.3,229.6 281.2,230.8"/><polyline points="265.2,215.0 266.6,216.1 266.7,218.2 268.3,219.1 269.4,219.9 270.3,220.8 270.8,222.1 271.6,223.8 272.9,225.2 273.9,226.4 274.9,227.7 276.7,227.3 278.4,228.2 279.7,227.9 280.5,226.5 282.0,226.7 283.8,226.1 285.1,224.7 286.3,223.9 287.1,222.6 287.1,224.3 287.9,225.7 288.6,227.2 287.4,228.0 286.1,228.6 284.9,229.2 283.5,229.7 281.8,230.0 281.2,232.0 279.5,232.3 277.6,232.7 276.4,234.3 275.7,235.9 273.9,236.3 272.9,234.8 272.7,233.2 273.4,231.8 271.8,230.7"/><polyline points="285.1,241.4 286.4,240.8 287.9,241.7 289.1,240.9 291.1,239.4 290.3,238.4 289.3,237.5 288.6,236.3 287.7,237.7 288.1,239.4 286.9,240.8 285.1,241.4"/><polyline points="274.9,238.9 277.4,238.4 278.4,239.9 276.9,240.9"/><polyline points="253.0,225.2 253.8,226.5 254.4,227.9 255.1,229.2 255.2,230.7 255.7,232.1 256.6,233.3 256.9,234.9 257.6,236.3"/><polyline points="271.8,230.7 270.1,231.5 268.3,231.8 267.0,232.6 265.8,233.4 264.2,233.3 262.6,233.4 261.4,234.4 260.2,235.3 258.8,235.4 257.6,236.3"/><polyline points="232.0,128.1 232.4,126.7 233.7,126.0 234.6,125.1 236.1,126.6 237.2,125.6 237.6,124.1 239.1,122.0 240.2,120.0"/><polyline points="316.4,120.0 314.8,120.6 313.3,121.5 313.2,123.1 312.0,124.1 310.6,125.0 310.5,126.6 309.4,127.8 308.1,128.6 306.7,129.2 305.2,129.7 303.1,131.2 301.8,132.0 300.7,132.9 300.5,134.8 299.1,135.4 298.6,136.8 297.6,137.7 296.6,138.5 295.4,139.3 294.5,140.3 293.0,140.8 291.0,139.8 289.8,140.6 288.4,140.3 287.4,138.7 286.9,136.8 286.1,135.6 286.4,134.2 285.1,135.2 285.4,136.8 283.8,138.8 284.0,140.2 284.9,141.3 285.4,142.7 283.8,143.9 284.4,145.4 285.2,146.7 284.9,148.1 284.9,149.5 284.4,151.5 283.0,152.7 282.5,154.4 282.3,156.1 280.8,156.1 279.5,157.0 278.2,157.7 276.7,157.6 275.9,156.2 274.7,155.1 274.8,157.0 273.7,158.6 272.3,158.0 271.7,156.6 271.1,158.0 270.1,159.1"/><polyline points="258.8,189.5 259.6,191.0 259.0,192.6 258.3,194.1 258.8,195.6 259.0,197.2 259.8,198.6 260.8,200.2 261.8,201.7 263.2,202.9 264.9,203.7 265.4,202.2 264.7,203.5 263.8,204.7 262.6,206.0 260.8,206.2"/></g><g fill="#000"><circle cx="317.2" cy="109.5" r="4.3"/><circle cx="310.5" cy="126.6" r="4.3"/><circle cx="286.9" cy="127.6" r="4.3"/><circle cx="182.1" cy="172.1" r="4.3"/><circle cx="182.5" cy="170.4" r="4.3"/><circle cx="236.9" cy="159" r="4.3"/><circle cx="238.6" cy="156.9" r="4.3"/><circle cx="245.5" cy="152.4" r="4.3"/><circle cx="231.3" cy="171" r="4.3"/><circle cx="251.7" cy="176.3" r="4.3"/><circle cx="263.7" cy="159.8" r="4.3"/><circle cx="268.4" cy="150.3" r="4.3"/><circle cx="262.8" cy="169.7" r="4.3"/><circle cx="266.2" cy="173" r="4.3"/><circle cx="262.3" cy="181.1" r="4.3"/><circle cx="140.8" cy="190.7" r="4.3"/><circle cx="135.7" cy="217.4" r="4.3"/><circle cx="120.9" cy="222.9" r="4.3"/><circle cx="146.3" cy="222.9" r="4.3"/><circle cx="93" cy="228.8" r="4.3"/><circle cx="176.2" cy="202.1" r="4.3"/><circle cx="197.5" cy="210.5" r="4.3"/><circle cx="207.4" cy="212" r="4.3"/><circle cx="198" cy="221.5" r="4.3"/><circle cx="211" cy="224.7" r="4.3"/><circle cx="221.4" cy="184.2" r="4.3"/><circle cx="227.7" cy="204.9" r="4.3"/><circle cx="236.6" cy="204.4" r="4.3"/><circle cx="223.1" cy="216.8" r="4.3"/><circle cx="241.3" cy="191.5" r="4.3"/><circle cx="259.3" cy="191.3" r="4.3"/><circle cx="247" cy="200.8" r="4.3"/><circle cx="245" cy="206.9" r="4.3"/><circle cx="250.8" cy="208.4" r="4.3"/><circle cx="259.2" cy="210" r="4.3"/><circle cx="257.7" cy="215.6" r="4.3"/><circle cx="262.8" cy="217.1" r="4.3"/><circle cx="257.7" cy="220.1" r="4.3"/><circle cx="261.8" cy="222.7" r="4.3"/><circle cx="241.4" cy="221.9" r="4.3"/><circle cx="231.3" cy="223.9" r="4.3"/><circle cx="227.2" cy="228.6" r="4.3"/><circle cx="248.3" cy="225.2" r="4.3"/><circle cx="88.4" cy="237.6" r="4.3"/><circle cx="79.5" cy="255.4" r="4.3"/><circle cx="65.6" cy="269.1" r="4.3"/><circle cx="54.9" cy="277.2" r="4.3"/><circle cx="137.7" cy="245.4" r="4.3"/><circle cx="127.5" cy="257.6" r="4.3"/><circle cx="145.3" cy="265.8" r="4.3"/><circle cx="136.7" cy="270.1" r="4.3"/><circle cx="96.9" cy="279.8" r="4.3"/><circle cx="139.5" cy="282" r="4.3"/><circle cx="242.2" cy="236.1" r="4.3"/><circle cx="250.1" cy="240.7" r="4.3"/><circle cx="261.2" cy="234.8" r="4.3"/><circle cx="268.1" cy="234.8" r="4.3"/><circle cx="257.7" cy="242.2" r="4.3"/><circle cx="256.5" cy="246.8" r="4.3"/><circle cx="272.9" cy="243.4" r="4.3"/><circle cx="229.2" cy="241.2" r="4.3"/><circle cx="231.3" cy="248.5" r="4.3"/><circle cx="244.5" cy="250.8" r="4.3"/><circle cx="205.4" cy="248.3" r="4.3"/><circle cx="208.4" cy="257.6" r="4.3"/><circle cx="215" cy="257.9" r="4.3"/><circle cx="227.2" cy="257.2" r="4.3"/><circle cx="235.1" cy="256.9" r="4.3"/><circle cx="224.2" cy="263" r="4.3"/><circle cx="219.1" cy="265.6" r="4.3"/><circle cx="234.1" cy="266.8" r="4.3"/><circle cx="224.7" cy="269.1" r="4.3"/><circle cx="227.7" cy="272.7" r="4.3"/><circle cx="215.5" cy="270.6" r="4.3"/><circle cx="203.3" cy="267.6" r="4.3"/><circle cx="210.4" cy="270.1" r="4.3"/><circle cx="199.3" cy="273.2" r="4.3"/><circle cx="220.1" cy="277.2" r="4.3"/><circle cx="207.9" cy="278.3" r="4.3"/><circle cx="211.5" cy="279.8" r="4.3"/><circle cx="166.3" cy="269.1" r="4.3"/><circle cx="167.8" cy="267.6" r="4.3"/><circle cx="182.5" cy="282" r="4.3"/><circle cx="192.2" cy="283.9" r="4.3"/><circle cx="41.7" cy="286.6" r="4.3"/><circle cx="38.1" cy="289.7" r="4.3"/><circle cx="42.2" cy="293.7" r="4.3"/><circle cx="37.1" cy="294.2" r="4.3"/><circle cx="32.6" cy="295.7" r="4.3"/><circle cx="30" cy="300.8" r="4.3"/><circle cx="57.4" cy="292.7" r="4.3"/><circle cx="67.4" cy="291.7" r="4.3"/><circle cx="56.9" cy="299.8" r="4.3"/><circle cx="61.5" cy="299.8" r="4.3"/><circle cx="58" cy="304.4" r="4.3"/><circle cx="42.7" cy="303.9" r="4.3"/><circle cx="38.7" cy="307.4" r="4.3"/><circle cx="30" cy="310" r="4.3"/><circle cx="48.8" cy="311" r="4.3"/><circle cx="43.2" cy="315.1" r="4.3"/><circle cx="38.7" cy="319.6" r="4.3"/><circle cx="67.4" cy="314" r="4.3"/><circle cx="83.9" cy="307.4" r="4.3"/><circle cx="81.3" cy="314.7" r="4.3"/><circle cx="121.8" cy="299.5" r="4.3"/><circle cx="120.4" cy="303.8" r="4.3"/><circle cx="147.4" cy="312" r="4.3"/><circle cx="87.9" cy="323.2" r="4.3"/><circle cx="101.3" cy="320.4" r="4.3"/><circle cx="140.2" cy="324.2" r="4.3"/><circle cx="135.7" cy="323.9" r="4.3"/><circle cx="63" cy="324.7" r="4.3"/><circle cx="67.6" cy="322.7" r="4.3"/><circle cx="72.7" cy="324.2" r="4.3"/><circle cx="80.3" cy="328.8" r="4.3"/><circle cx="95.5" cy="332" r="4.3"/><circle cx="204.4" cy="283" r="4.3"/><circle cx="204.9" cy="287.1" r="4.3"/><circle cx="200.3" cy="292.2" r="4.3"/><circle cx="210.8" cy="295" r="4.3"/><circle cx="191.1" cy="292.7" r="4.3"/><circle cx="190.6" cy="298.8" r="4.3"/><circle cx="194.7" cy="299.3" r="4.3"/><circle cx="202.6" cy="304.4" r="4.3"/><circle cx="175.4" cy="293.7" r="4.3"/><circle cx="177.4" cy="292.7" r="4.3"/><circle cx="169.3" cy="297.8" r="4.3"/><circle cx="166.3" cy="302.9" r="4.3"/><circle cx="157.1" cy="306.4" r="4.3"/><circle cx="151.5" cy="310" r="4.3"/><circle cx="182.5" cy="307.4" r="4.3"/><circle cx="192.2" cy="305.4" r="4.3"/><circle cx="189.1" cy="310" r="4.3"/><circle cx="188.6" cy="316.1" r="4.3"/><circle cx="182.5" cy="316.6" r="4.3"/><circle cx="180.5" cy="320.1" r="4.3"/><circle cx="161.2" cy="315.1" r="4.3"/><circle cx="165.2" cy="314.3" r="4.3"/><circle cx="174.9" cy="318.6" r="4.3"/><circle cx="173.4" cy="323.2" r="4.3"/><circle cx="152.5" cy="319.6" r="4.3"/><circle cx="159.1" cy="321.9" r="4.3"/><circle cx="177.4" cy="327.2" r="4.3"/><circle cx="166.8" cy="328.8" r="4.3"/><circle cx="194.5" cy="326.9" r="4.3"/><circle cx="206.9" cy="322.2" r="4.3"/><circle cx="62.3" cy="334.6" r="4.3"/><circle cx="48.6" cy="342.2" r="4.3"/><circle cx="83.7" cy="336.3" r="4.3"/><circle cx="102.7" cy="339.3" r="4.3"/><circle cx="82.1" cy="345.2" r="4.3"/><circle cx="48.5" cy="357.6" r="4.3"/><circle cx="47.1" cy="362" r="4.3"/><circle cx="91.5" cy="361" r="4.3"/><circle cx="132.6" cy="337.1" r="4.3"/><circle cx="128.1" cy="341.7" r="4.3"/><circle cx="126.3" cy="347.8" r="4.3"/><circle cx="141.3" cy="339.7" r="4.3"/><circle cx="149.4" cy="337.1" r="4.3"/><circle cx="141.3" cy="352.4" r="4.3"/><circle cx="139.2" cy="358.4" r="4.3"/><circle cx="151.5" cy="349.3" r="4.3"/><circle cx="138.2" cy="370.6" r="4.3"/><circle cx="147.4" cy="368.6" r="4.3"/><circle cx="149.4" cy="376.7" r="4.3"/><circle cx="114.3" cy="375.7" r="4.3"/><circle cx="123" cy="372.2" r="4.3"/><circle cx="177.9" cy="335.1" r="4.3"/><circle cx="157.6" cy="334.1" r="4.3"/><circle cx="165.2" cy="335.1" r="4.3"/><circle cx="159.7" cy="338.1" r="4.3"/><circle cx="159.1" cy="342.7" r="4.3"/><circle cx="163.2" cy="339.1" r="4.3"/><circle cx="196.2" cy="347.3" r="4.3"/><circle cx="186.6" cy="353.4" r="4.3"/><circle cx="174.9" cy="358.4" r="4.3"/><circle cx="176.6" cy="363" r="4.3"/><circle cx="156.1" cy="348.3" r="4.3"/><circle cx="160" cy="354.9" r="4.3"/><circle cx="153" cy="354.9" r="4.3"/><circle cx="151.5" cy="358.4" r="4.3"/><circle cx="164.7" cy="362.5" r="4.3"/><circle cx="159.7" cy="365.1" r="4.3"/><circle cx="30" cy="387.1" r="4.3"/><circle cx="31" cy="393.7" r="4.3"/><circle cx="50.3" cy="392.4" r="4.3"/><circle cx="75.4" cy="401.5" r="4.3"/><circle cx="103.2" cy="405.1" r="4.3"/><circle cx="124" cy="386.4" r="4.3"/><circle cx="134.2" cy="413.2" r="4.3"/><circle cx="148.9" cy="403.9" r="4.3"/><circle cx="152.5" cy="396.8" r="4.3"/><circle cx="82.8" cy="418.6" r="4.3"/><circle cx="96.3" cy="417.4" r="4.3"/><circle cx="33.1" cy="422.2" r="4.3"/><circle cx="156.6" cy="393.7" r="4.3"/><circle cx="157.6" cy="402.6" r="4.3"/><circle cx="179.5" cy="404.7" r="4.3"/><circle cx="179.5" cy="411.7" r="4.3"/><circle cx="174.2" cy="419.8" r="4.3"/><circle cx="299.1" cy="135.4" r="4.3"/><circle cx="282.3" cy="156.1" r="4.3"/><circle cx="273.2" cy="164.7" r="4.3"/><circle cx="283.5" cy="219.1" r="4.3"/></g><g><circle cx="317.2" cy="109.5" r="3.6" fill="#0876aa"/><circle cx="310.5" cy="126.6" r="3.6" fill="#06839a"/><circle cx="286.9" cy="127.6" r="3.6" fill="#3c9fdd"/><circle cx="182.1" cy="172.1" r="3.6" fill="#06839a"/><circle cx="182.5" cy="170.4" r="3.6" fill="#009080"/><circle cx="236.9" cy="159" r="3.6" fill="#058693"/><circle cx="238.6" cy="156.9" r="3.6" fill="#248ccc"/><circle cx="245.5" cy="152.4" r="3.6" fill="#248ccc"/><circle cx="231.3" cy="171" r="3.6" fill="#48a6e2"/><circle cx="251.7" cy="176.3" r="3.6" fill="#268ece"/><circle cx="263.7" cy="159.8" r="3.6" fill="#3098d8"/><circle cx="268.4" cy="150.3" r="3.6" fill="#3c9fdd"/><circle cx="262.8" cy="169.7" r="3.6" fill="#3c9fdd"/><circle cx="266.2" cy="173" r="3.6" fill="#1d85c5"/><circle cx="262.3" cy="181.1" r="3.6" fill="#268ece"/><circle cx="140.8" cy="190.7" r="3.6" fill="#009080"/><circle cx="135.7" cy="217.4" r="3.6" fill="#028b8a"/><circle cx="120.9" cy="222.9" r="3.6" fill="#40b060"/><circle cx="146.3" cy="222.9" r="3.6" fill="#038a8d"/><circle cx="93" cy="228.8" r="3.6" fill="#a5cb45"/><circle cx="176.2" cy="202.1" r="3.6" fill="#058693"/><circle cx="197.5" cy="210.5" r="3.6" fill="#0876aa"/><circle cx="207.4" cy="212" r="3.6" fill="#04947c"/><circle cx="198" cy="221.5" r="3.6" fill="#087aa6"/><circle cx="211" cy="224.7" r="3.6" fill="#0870b0"/><circle cx="221.4" cy="184.2" r="3.6" fill="#268ece"/><circle cx="227.7" cy="204.9" r="3.6" fill="#48a6e2"/><circle cx="236.6" cy="204.4" r="3.6" fill="#0e76b6"/><circle cx="223.1" cy="216.8" r="3.6" fill="#228aca"/><circle cx="241.3" cy="191.5" r="3.6" fill="#1d85c5"/><circle cx="259.3" cy="191.3" r="3.6" fill="#3098d8"/><circle cx="247" cy="200.8" r="3.6" fill="#1880c0"/><circle cx="245" cy="206.9" r="3.6" fill="#3c9fdd"/><circle cx="250.8" cy="208.4" r="3.6" fill="#5eabde"/><circle cx="259.2" cy="210" r="3.6" fill="#137bbb"/><circle cx="257.7" cy="215.6" r="3.6" fill="#087da3"/><circle cx="262.8" cy="217.1" r="3.6" fill="#058693"/><circle cx="257.7" cy="220.1" r="3.6" fill="#04947c"/><circle cx="261.8" cy="222.7" r="3.6" fill="#009080"/><circle cx="241.4" cy="221.9" r="3.6" fill="#087da3"/><circle cx="231.3" cy="223.9" r="3.6" fill="#087aa6"/><circle cx="227.2" cy="228.6" r="3.6" fill="#127aba"/><circle cx="248.3" cy="225.2" r="3.6" fill="#0e76b6"/><circle cx="88.4" cy="237.6" r="3.6" fill="#89c34d"/><circle cx="79.5" cy="255.4" r="3.6" fill="#10a070"/><circle cx="65.6" cy="269.1" r="3.6" fill="#18a36d"/><circle cx="54.9" cy="277.2" r="3.6" fill="#0a9a76"/><circle cx="137.7" cy="245.4" r="3.6" fill="#028d86"/><circle cx="127.5" cy="257.6" r="3.6" fill="#28a868"/><circle cx="145.3" cy="265.8" r="3.6" fill="#06839a"/><circle cx="136.7" cy="270.1" r="3.6" fill="#10a070"/><circle cx="96.9" cy="279.8" r="3.6" fill="#089878"/><circle cx="139.5" cy="282" r="3.6" fill="#18a36d"/><circle cx="242.2" cy="236.1" r="3.6" fill="#0880a0"/><circle cx="250.1" cy="240.7" r="3.6" fill="#3098d8"/><circle cx="261.2" cy="234.8" r="3.6" fill="#10a070"/><circle cx="268.1" cy="234.8" r="3.6" fill="#048890"/><circle cx="257.7" cy="242.2" r="3.6" fill="#089878"/><circle cx="256.5" cy="246.8" r="3.6" fill="#089878"/><circle cx="272.9" cy="243.4" r="3.6" fill="#0a9a76"/><circle cx="229.2" cy="241.2" r="3.6" fill="#068596"/><circle cx="231.3" cy="248.5" r="3.6" fill="#04947c"/><circle cx="244.5" cy="250.8" r="3.6" fill="#087aa6"/><circle cx="205.4" cy="248.3" r="3.6" fill="#048890"/><circle cx="208.4" cy="257.6" r="3.6" fill="#0870b0"/><circle cx="215" cy="257.9" r="3.6" fill="#0876aa"/><circle cx="227.2" cy="257.2" r="3.6" fill="#087da3"/><circle cx="235.1" cy="256.9" r="3.6" fill="#02927e"/><circle cx="224.2" cy="263" r="3.6" fill="#0872ae"/><circle cx="219.1" cy="265.6" r="3.6" fill="#06839a"/><circle cx="234.1" cy="266.8" r="3.6" fill="#0880a0"/><circle cx="224.7" cy="269.1" r="3.6" fill="#0876aa"/><circle cx="227.7" cy="272.7" r="3.6" fill="#02927e"/><circle cx="215.5" cy="270.6" r="3.6" fill="#038a8d"/><circle cx="203.3" cy="267.6" r="3.6" fill="#0880a0"/><circle cx="210.4" cy="270.1" r="3.6" fill="#0876aa"/><circle cx="199.3" cy="273.2" r="3.6" fill="#058693"/><circle cx="220.1" cy="277.2" r="3.6" fill="#058693"/><circle cx="207.9" cy="278.3" r="3.6" fill="#0876aa"/><circle cx="211.5" cy="279.8" r="3.6" fill="#087da3"/><circle cx="166.3" cy="269.1" r="3.6" fill="#028d86"/><circle cx="167.8" cy="267.6" r="3.6" fill="#028d86"/><circle cx="182.5" cy="282" r="3.6" fill="#a5cb45"/><circle cx="192.2" cy="283.9" r="3.6" fill="#40b060"/><circle cx="41.7" cy="286.6" r="3.6" fill="#089878"/><circle cx="38.1" cy="289.7" r="3.6" fill="#009080"/><circle cx="42.2" cy="293.7" r="3.6" fill="#089878"/><circle cx="37.1" cy="294.2" r="3.6" fill="#089878"/><circle cx="32.6" cy="295.7" r="3.6" fill="#058693"/><circle cx="30" cy="300.8" r="3.6" fill="#0880a0"/><circle cx="57.4" cy="292.7" r="3.6" fill="#089878"/><circle cx="67.4" cy="291.7" r="3.6" fill="#30ab65"/><circle cx="56.9" cy="299.8" r="3.6" fill="#089878"/><circle cx="61.5" cy="299.8" r="3.6" fill="#089878"/><circle cx="58" cy="304.4" r="3.6" fill="#18a36d"/><circle cx="42.7" cy="303.9" r="3.6" fill="#28a868"/><circle cx="38.7" cy="307.4" r="3.6" fill="#02927e"/><circle cx="30" cy="310" r="3.6" fill="#0e9e72"/><circle cx="48.8" cy="311" r="3.6" fill="#18a36d"/><circle cx="43.2" cy="315.1" r="3.6" fill="#0872ae"/><circle cx="38.7" cy="319.6" r="3.6" fill="#0872ae"/><circle cx="67.4" cy="314" r="3.6" fill="#087da3"/><circle cx="83.9" cy="307.4" r="3.6" fill="#c5d540"/><circle cx="81.3" cy="314.7" r="3.6" fill="#9cc848"/><circle cx="121.8" cy="299.5" r="3.6" fill="#38ad63"/><circle cx="120.4" cy="303.8" r="3.6" fill="#38ad63"/><circle cx="147.4" cy="312" r="3.6" fill="#028b8a"/><circle cx="87.9" cy="323.2" r="3.6" fill="#0872ae"/><circle cx="101.3" cy="320.4" r="3.6" fill="#009080"/><circle cx="140.2" cy="324.2" r="3.6" fill="#028b8a"/><circle cx="135.7" cy="323.9" r="3.6" fill="#0870b0"/><circle cx="63" cy="324.7" r="3.6" fill="#80c050"/><circle cx="67.6" cy="322.7" r="3.6" fill="#afcd43"/><circle cx="72.7" cy="324.2" r="3.6" fill="#75bd53"/><circle cx="80.3" cy="328.8" r="3.6" fill="#0c9c74"/><circle cx="95.5" cy="332" r="3.6" fill="#058693"/><circle cx="204.4" cy="283" r="3.6" fill="#028b8a"/><circle cx="204.9" cy="287.1" r="3.6" fill="#068596"/><circle cx="200.3" cy="292.2" r="3.6" fill="#18a36d"/><circle cx="210.8" cy="295" r="3.6" fill="#18a36d"/><circle cx="191.1" cy="292.7" r="3.6" fill="#bfd340"/><circle cx="190.6" cy="298.8" r="3.6" fill="#d9dd40"/><circle cx="194.7" cy="299.3" r="3.6" fill="#d3db40"/><circle cx="202.6" cy="304.4" r="3.6" fill="#0a9a76"/><circle cx="175.4" cy="293.7" r="3.6" fill="#089878"/><circle cx="177.4" cy="292.7" r="3.6" fill="#0e9e72"/><circle cx="169.3" cy="297.8" r="3.6" fill="#10a070"/><circle cx="166.3" cy="302.9" r="3.6" fill="#02927e"/><circle cx="157.1" cy="306.4" r="3.6" fill="#009080"/><circle cx="151.5" cy="310" r="3.6" fill="#058693"/><circle cx="182.5" cy="307.4" r="3.6" fill="#a5cb45"/><circle cx="192.2" cy="305.4" r="3.6" fill="#93c54b"/><circle cx="189.1" cy="310" r="3.6" fill="#e0e040"/><circle cx="188.6" cy="316.1" r="3.6" fill="#9cc848"/><circle cx="182.5" cy="316.6" r="3.6" fill="#a5cb45"/><circle cx="180.5" cy="320.1" r="3.6" fill="#a5cb45"/><circle cx="161.2" cy="315.1" r="3.6" fill="#06839a"/><circle cx="165.2" cy="314.3" r="3.6" fill="#0b73b3"/><circle cx="174.9" cy="318.6" r="3.6" fill="#d9dd40"/><circle cx="173.4" cy="323.2" r="3.6" fill="#f0e038"/><circle cx="152.5" cy="319.6" r="3.6" fill="#009080"/><circle cx="159.1" cy="321.9" r="3.6" fill="#0880a0"/><circle cx="177.4" cy="327.2" r="3.6" fill="#c5d540"/><circle cx="166.8" cy="328.8" r="3.6" fill="#ece03a"/><circle cx="194.5" cy="326.9" r="3.6" fill="#087ba5"/><circle cx="206.9" cy="322.2" r="3.6" fill="#0876aa"/><circle cx="62.3" cy="334.6" r="3.6" fill="#60b858"/><circle cx="48.6" cy="342.2" r="3.6" fill="#089878"/><circle cx="83.7" cy="336.3" r="3.6" fill="#089878"/><circle cx="102.7" cy="339.3" r="3.6" fill="#009080"/><circle cx="82.1" cy="345.2" r="3.6" fill="#07829d"/><circle cx="48.5" cy="357.6" r="3.6" fill="#058693"/><circle cx="47.1" cy="362" r="3.6" fill="#018e83"/><circle cx="91.5" cy="361" r="3.6" fill="#028b8a"/><circle cx="132.6" cy="337.1" r="3.6" fill="#028b8a"/><circle cx="128.1" cy="341.7" r="3.6" fill="#048890"/><circle cx="126.3" cy="347.8" r="3.6" fill="#0b73b3"/><circle cx="141.3" cy="339.7" r="3.6" fill="#038a8d"/><circle cx="149.4" cy="337.1" r="3.6" fill="#028d86"/><circle cx="141.3" cy="352.4" r="3.6" fill="#06839a"/><circle cx="139.2" cy="358.4" r="3.6" fill="#028d86"/><circle cx="151.5" cy="349.3" r="3.6" fill="#058693"/><circle cx="138.2" cy="370.6" r="3.6" fill="#087da3"/><circle cx="147.4" cy="368.6" r="3.6" fill="#07829d"/><circle cx="149.4" cy="376.7" r="3.6" fill="#087ea2"/><circle cx="114.3" cy="375.7" r="3.6" fill="#048890"/><circle cx="123" cy="372.2" r="3.6" fill="#10a070"/><circle cx="177.9" cy="335.1" r="3.6" fill="#75bd53"/><circle cx="157.6" cy="334.1" r="3.6" fill="#0c9c74"/><circle cx="165.2" cy="335.1" r="3.6" fill="#75bd53"/><circle cx="159.7" cy="338.1" r="3.6" fill="#40b060"/><circle cx="159.1" cy="342.7" r="3.6" fill="#058693"/><circle cx="163.2" cy="339.1" r="3.6" fill="#93c54b"/><circle cx="196.2" cy="347.3" r="3.6" fill="#018e83"/><circle cx="186.6" cy="353.4" r="3.6" fill="#04947c"/><circle cx="174.9" cy="358.4" r="3.6" fill="#089878"/><circle cx="176.6" cy="363" r="3.6" fill="#07829d"/><circle cx="156.1" cy="348.3" r="3.6" fill="#028d86"/><circle cx="160" cy="354.9" r="3.6" fill="#028d86"/><circle cx="153" cy="354.9" r="3.6" fill="#07829d"/><circle cx="151.5" cy="358.4" r="3.6" fill="#087ea2"/><circle cx="164.7" cy="362.5" r="3.6" fill="#089878"/><circle cx="159.7" cy="365.1" r="3.6" fill="#06967a"/><circle cx="30" cy="387.1" r="3.6" fill="#087ba5"/><circle cx="31" cy="393.7" r="3.6" fill="#07829d"/><circle cx="50.3" cy="392.4" r="3.6" fill="#087da3"/><circle cx="75.4" cy="401.5" r="3.6" fill="#048890"/><circle cx="103.2" cy="405.1" r="3.6" fill="#028d86"/><circle cx="124" cy="386.4" r="3.6" fill="#058693"/><circle cx="134.2" cy="413.2" r="3.6" fill="#058693"/><circle cx="148.9" cy="403.9" r="3.6" fill="#0876aa"/><circle cx="152.5" cy="396.8" r="3.6" fill="#02927e"/><circle cx="82.8" cy="418.6" r="3.6" fill="#009080"/><circle cx="96.3" cy="417.4" r="3.6" fill="#028d86"/><circle cx="33.1" cy="422.2" r="3.6" fill="#009080"/><circle cx="156.6" cy="393.7" r="3.6" fill="#0a9a76"/><circle cx="157.6" cy="402.6" r="3.6" fill="#02927e"/><circle cx="179.5" cy="404.7" r="3.6" fill="#75bd53"/><circle cx="179.5" cy="411.7" r="3.6" fill="#06967a"/><circle cx="174.2" cy="419.8" r="3.6" fill="#087ba5"/><circle cx="299.1" cy="135.4" r="3.6" fill="#228aca"/><circle cx="282.3" cy="156.1" r="3.6" fill="#058693"/><circle cx="273.2" cy="164.7" r="3.6" fill="#1d85c5"/><circle cx="283.5" cy="219.1" r="3.6" fill="#0a9a76"/></g></g><circle cx="472.5" cy="409.2" r="2.6" fill="#000"/><text x="483.5" y="413.2">AQS</text><rect x="28.6" y="28.7" width="484.8" height="393.7" fill="none" stroke="#000" stroke-width="0.75"/><path d="M44 422.4v7.2M95.75 422.4v7.2M147.5 422.4v7.2M199 422.4v7.2M250.4 422.4v7.2M301.6 422.4v7.2M351.75 422.4v7.2M402 422.4v7.2M452.25 422.4v7.2M501.75 422.4v7.2M28.6 37.7h-7.2M28.6 101.2h-7.2M28.6 163.7h-7.2M28.6 226.2h-7.2M28.6 288.5h-7.2M28.6 350.9h-7.2M28.6 412.6h-7.2" stroke="#000" stroke-width="0.75" fill="none"/><text x="44" y="448.3" text-anchor="middle">-83.5</text><text x="95.75" y="448.3" text-anchor="middle">-81.5</text><text x="147.5" y="448.3" text-anchor="middle">-79.5</text><text x="199" y="448.3" text-anchor="middle">-77.5</text><text x="250.4" y="448.3" text-anchor="middle">-75.5</text><text x="301.6" y="448.3" text-anchor="middle">-73.5</text><text x="351.75" y="448.3" text-anchor="middle">-71.5</text><text x="402" y="448.3" text-anchor="middle">-69.5</text><text x="452.25" y="448.3" text-anchor="middle">-67.5</text><text x="501.75" y="448.3" text-anchor="middle">-65.5</text><text transform="translate(12 38.2) rotate(-90)" text-anchor="middle">50.5</text><text transform="translate(12 101.7) rotate(-90)" text-anchor="middle">48.5</text><text transform="translate(12 164.2) rotate(-90)" text-anchor="middle">46.5</text><text transform="translate(12 226.7) rotate(-90)" text-anchor="middle">44.5</text><text transform="translate(12 289) rotate(-90)" text-anchor="middle">42.5</text><text transform="translate(12 351.4) rotate(-90)" text-anchor="middle">40.5</text><text transform="translate(12 413.1) rotate(-90)" text-anchor="middle">38.5</text><g shape-rendering="crispEdges"><rect x="545.7" y="397.29" width="8" height="6.11" fill="#e8e8e8"/><rect x="545.7" y="391.48" width="8" height="6.11" fill="#dddddd"/><rect x="545.7" y="385.67" width="8" height="6.11" fill="#d2d2d2"/><rect x="545.7" y="379.85" width="8" height="6.11" fill="#c5c5c5"/><rect x="545.7" y="374.04" width="8" height="6.11" fill="#b8b8b8"/><rect x="545.7" y="368.23" width="8" height="6.11" fill="#aaaaaa"/><rect x="545.7" y="362.41" width="8" height="6.11" fill="#9b9b9b"/><rect x="545.7" y="356.60" width="8" height="6.11" fill="#8c8c8c"/><rect x="545.7" y="350.79" width="8" height="6.11" fill="#7f94a4"/><rect x="545.7" y="344.97" width="8" height="6.11" fill="#739cbb"/><rect x="545.7" y="339.16" width="8" height="6.11" fill="#68a4d0"/><rect x="545.7" y="333.35" width="8" height="6.11" fill="#62a9da"/><rect x="545.7" y="327.53" width="8" height="6.11" fill="#5baee3"/><rect x="545.7" y="321.72" width="8" height="6.11" fill="#50abe5"/><rect x="545.7" y="315.91" width="8" height="6.11" fill="#40a2de"/><rect x="545.7" y="310.09" width="8" height="6.11" fill="#3098d8"/><rect x="545.7" y="304.28" width="8" height="6.11" fill="#268ece"/><rect x="545.7" y="298.47" width="8" height="6.11" fill="#1d85c5"/><rect x="545.7" y="292.65" width="8" height="6.11" fill="#157dbd"/><rect x="545.7" y="286.84" width="8" height="6.11" fill="#0e76b6"/><rect x="545.7" y="281.03" width="8" height="6.11" fill="#0870b0"/><rect x="545.7" y="275.21" width="8" height="6.11" fill="#0876aa"/><rect x="545.7" y="269.40" width="8" height="6.11" fill="#087da3"/><rect x="545.7" y="263.59" width="8" height="6.11" fill="#06839a"/><rect x="545.7" y="257.77" width="8" height="6.11" fill="#038a8d"/><rect x="545.7" y="251.96" width="8" height="6.11" fill="#009080"/><rect x="545.7" y="246.15" width="8" height="6.11" fill="#089878"/><rect x="545.7" y="240.33" width="8" height="6.11" fill="#10a070"/><rect x="545.7" y="234.52" width="8" height="6.11" fill="#30ab65"/><rect x="545.7" y="228.71" width="8" height="6.11" fill="#55b55b"/><rect x="545.7" y="222.89" width="8" height="6.11" fill="#80c050"/><rect x="545.7" y="217.08" width="8" height="6.11" fill="#a5cb45"/><rect x="545.7" y="211.27" width="8" height="6.11" fill="#c5d540"/><rect x="545.7" y="205.45" width="8" height="6.11" fill="#e0e040"/><rect x="545.7" y="199.64" width="8" height="6.11" fill="#f0e038"/><rect x="545.7" y="193.83" width="8" height="6.11" fill="#f0d030"/><rect x="545.7" y="188.01" width="8" height="6.11" fill="#f0c626"/><rect x="545.7" y="182.20" width="8" height="6.11" fill="#f0bd1d"/><rect x="545.7" y="176.39" width="8" height="6.11" fill="#eeb313"/><rect x="545.7" y="170.57" width="8" height="6.11" fill="#ebaa0a"/><rect x="545.7" y="164.76" width="8" height="6.11" fill="#e8a000"/><rect x="545.7" y="158.95" width="8" height="6.11" fill="#e89600"/><rect x="545.7" y="153.13" width="8" height="6.11" fill="#e88d00"/><rect x="545.7" y="147.32" width="8" height="6.11" fill="#e68300"/><rect x="545.7" y="141.51" width="8" height="6.11" fill="#e37a00"/><rect x="545.7" y="135.69" width="8" height="6.11" fill="#e07000"/><rect x="545.7" y="129.88" width="8" height="6.11" fill="#da6a06"/><rect x="545.7" y="124.07" width="8" height="6.11" fill="#d3630d"/><rect x="545.7" y="118.25" width="8" height="6.11" fill="#cf621a"/><rect x="545.7" y="112.44" width="8" height="6.11" fill="#ce652d"/><rect x="545.7" y="106.63" width="8" height="6.11" fill="#cc6840"/><rect x="545.7" y="100.81" width="8" height="6.11" fill="#c96d60"/><rect x="545.7" y="95.00" width="8" height="6.11" fill="#c8727e"/><rect x="545.7" y="89.19" width="8" height="6.11" fill="#c8769a"/><rect x="545.7" y="83.37" width="8" height="6.11" fill="#cb6da0"/><rect x="545.7" y="77.56" width="8" height="6.11" fill="#d05890"/><rect x="545.7" y="71.75" width="8" height="6.11" fill="#d64876"/><rect x="545.7" y="65.93" width="8" height="6.11" fill="#dd385d"/><rect x="545.7" y="60.12" width="8" height="6.11" fill="#e62640"/><rect x="545.7" y="54.31" width="8" height="6.11" fill="#f31320"/><rect x="545.7" y="48.49" width="8" height="6.11" fill="#ff0000"/></g><rect x="545.7" y="48.2" width="8" height="355.4" fill="none" stroke="#999" stroke-width="0.75"/><path d="M553.7 400.2V51.4M553.7 400.2h7.2M553.7 371.133h7.2M553.7 342.067h7.2M553.7 313h7.2M553.7 283.933h7.2M553.7 254.867h7.2M553.7 225.8h7.2M553.7 196.733h7.2M553.7 167.667h7.2M553.7 138.6h7.2M553.7 109.533h7.2M553.7 80.4667h7.2M553.7 51.4h7.2" stroke="#000" stroke-width="0.75" fill="none"/><text x="569" y="404.5">0</text><text x="569" y="375.433">10</text><text x="569" y="346.367">20</text><text x="569" y="317.3">30</text><text x="569" y="288.233">40</text><text x="569" y="259.167">50</text><text x="569" y="230.1">60</text><text x="569" y="201.033">70</text><text x="569" y="171.967">80</text><text x="569" y="142.9">90</text><text x="569" y="113.833">100</text><text x="569" y="84.7667">110</text><text x="569" y="55.7">120</text><text x="535.7" y="45">ppbV</text><g clip-path="url(#c1)"><g fill="none" stroke="#000" stroke-width="0.95" stroke-linejoin="round"><polyline points="806.5,31.0 807.9,31.3 809.3,31.7 810.1,33.0 811.5,33.4 812.4,32.1 814.0,32.1 815.1,31.1 816.5,30.6 818.1,30.1 819.5,31.0 821.2,30.4 822.6,31.4 824.1,31.2 825.6,30.5 827.1,30.4 828.6,31.0 830.0,31.6 831.1,32.8 832.7,33.0 834.0,31.9 835.7,32.0 835.6,33.3 835.4,34.6 835.3,35.9 835.1,37.2 835.0,38.5 834.8,39.8 834.7,41.1 834.8,42.6 833.8,43.7 833.0,45.0 833.2,46.5 833.2,47.9 832.7,49.2 831.4,50.4 832.4,52.4 830.6,53.5 830.7,55.2 829.9,56.5 829.1,57.6 827.6,58.2 827.9,59.6 827.2,60.8 826.0,61.9 826.2,63.3 826.3,65.1 825.3,66.6 825.0,68.3 824.1,69.4 823.8,70.8 822.9,71.9 822.9,73.5 821.6,74.4 821.5,76.0 820.5,77.2 819.1,78.0 818.6,79.4 818.0,80.9 817.5,82.5 816.5,83.8"/><polyline points="816.5,83.8 817.4,82.8 818.1,81.6 818.7,80.4 820.2,79.8 820.6,78.4 821.8,77.6 822.3,76.1 823.7,75.5 824.6,74.4 825.6,73.4 826.9,72.8 827.6,71.6 827.9,70.1 829.6,69.9 829.4,67.9 830.7,67.3 831.2,65.7 832.3,64.5 832.0,62.6 833.1,61.3 833.6,60.1 833.4,58.6 834.9,57.8 835.6,56.6 835.7,55.2 836.4,53.8 837.5,52.7 837.2,50.9 838.4,49.7 838.7,48.2 839.3,46.8 839.6,45.4 839.8,43.9 840.9,42.7 840.7,41.1 841.9,40.2 841.7,38.6 842.5,37.5 842.0,35.9 843.2,35.0 844.0,33.9 844.5,32.7 845.5,31.7 845.8,30.4 845.8,29.0"/><polyline points="871.0,46.1 870.2,47.2 869.1,47.9 867.8,48.4 867.5,50.1 866.0,50.4 864.9,51.2 863.9,52.7 862.6,53.7 860.9,54.2 859.7,55.1 858.2,54.1 856.9,54.8 855.7,53.5 855.2,51.9 854.9,50.2 853.5,50.0 852.3,48.9 850.8,49.2 851.2,50.7 850.2,51.9 849.7,53.2 848.8,54.4 848.6,55.7 848.8,57.2 848.4,58.5 848.0,59.7 847.7,61.0 847.3,62.2 846.9,63.5 846.5,64.8 846.2,66.0 845.8,67.3 845.5,68.6 845.1,69.8 844.8,71.1 844.5,72.3 844.2,73.6 843.9,74.9 843.5,76.1 843.2,77.4 842.5,78.7 843.4,80.1 843.1,81.5 843.2,82.8 842.2,84.1 842.8,85.5 841.8,86.7 843.0,88.2 842.8,89.6 842.5,90.9 842.3,92.2 841.7,93.5 842.0,94.8 842.1,96.2 842.8,97.5 843.5,98.7 843.1,100.2 843.2,101.6 843.2,103.0 842.6,104.3 841.7,105.5 841.9,106.9 841.9,108.3 841.7,109.7 841.0,111.1 840.4,112.6 840.9,114.4 839.7,115.7 838.7,117.3 838.6,119.0 838.7,120.8 840.7,119.7 839.6,121.1 839.7,122.8 838.1,123.4 837.1,124.9 835.7,125.8 834.7,127.8 833.1,127.5 831.7,126.8 830.5,128.4 828.6,128.8 826.6,129.8"/><polyline points="871.0,46.3 877.1,49.3 882.7,52.4 886.2,63.5 889.3,72.7 891.8,79.8"/><polyline points="929.4,34.3 930.4,33.3 930.5,31.6 932.0,31.0 934.0,32.0 936.0,31.5 937.0,30.3 938.6,30.5 940.1,30.2 940.6,32.0 941.3,33.3 941.5,34.7 941.1,36.1 942.1,37.5 942.6,39.2 944.2,40.0 944.7,41.7 946.7,42.2 948.2,43.7 948.2,45.8 949.5,46.4 950.4,47.4 950.8,48.8 952.3,50.8 953.8,50.3 954.5,51.8 954.8,53.4 955.9,52.2 957.4,52.6 959.0,52.9 960.4,51.9 962.0,51.9 963.5,51.6 964.8,50.6 966.5,50.8 969.0,50.5 970.1,51.9 968.5,53.9 967.5,55.1 966.0,55.6 967.5,56.4 969.3,56.4 971.1,56.9 972.5,57.5 973.6,58.5 975.6,58.0 976.9,56.6 978.7,56.4 980.0,57.5 981.7,57.4 983.3,57.7 984.3,56.4 985.5,55.9 986.8,55.6 988.1,55.2 989.4,54.9 990.6,54.0 992.0,54.4"/><polyline points="954.3,29.0 954.6,30.5 953.9,31.8 953.3,33.1 953.4,34.7 952.1,36.0 952.3,37.6 953.7,38.3 954.3,39.7 955.6,38.4 957.4,38.7 959.9,39.2 959.5,40.7 960.5,41.9 960.9,43.2 962.4,44.7 963.8,43.6 965.5,43.7 967.0,44.6 968.5,45.3 970.4,45.3 971.6,46.8 972.9,46.8 974.3,47.6 975.6,46.8 977.3,47.1 978.7,46.5 980.2,45.8 980.6,44.3 981.7,43.2 980.7,41.2 982.1,40.0 983.8,39.2 983.8,40.9 982.8,42.2 984.0,43.6 985.8,44.2 987.8,43.2 988.3,44.8 988.9,46.3 990.2,47.5 992.0,47.8"/><polyline points="957.9,29.0 958.4,30.3 958.7,31.7 958.4,33.1 959.4,34.3 960.9,34.6 961.4,36.1 962.6,36.7 964.0,37.1 964.6,38.9 966.0,40.2 967.5,41.7 967.8,40.1 967.0,38.7 968.5,37.1 969.8,37.7 971.3,37.0 972.6,37.6 974.1,37.1 975.6,36.6 977.2,36.6 978.7,37.1 979.7,35.7 981.1,35.0 982.8,35.1 984.0,34.1 985.3,33.4 986.8,33.1 988.2,32.7 989.6,32.4 990.4,31.0 992.0,30.0"/><polyline points="951.8,59.0 953.0,59.9 953.6,61.6 955.3,62.0 955.8,63.5 956.9,64.3 958.4,64.6 960.9,64.1 962.4,62.5 964.0,63.0 964.5,65.1 962.4,66.6 960.9,68.1"/><polyline points="958.4,66.6 958.1,68.2 957.4,69.6 957.3,71.0 956.8,72.2 955.8,73.2 954.9,74.8 953.3,75.7 952.7,77.3 951.3,78.3 949.7,79.8"/><polyline points="962.4,67.1 961.5,68.5 960.4,69.9 960.4,71.7 959.2,72.8 959.1,74.4 958.4,75.7 957.5,76.9 956.5,78.2 956.3,79.8"/><polyline points="960.4,79.8 961.4,78.4 963.3,78.4 964.5,77.3 966.0,77.3 967.1,76.5 968.2,75.9 969.2,74.9 970.2,73.8 971.6,73.7 973.2,73.7 974.3,72.4 976.0,72.7 977.5,72.5 978.7,71.2 980.0,70.8 981.4,70.6 982.9,71.3 984.2,70.7 985.4,69.6 986.8,69.9 985.8,71.7 984.8,73.1 983.4,73.9 981.7,74.2 980.0,74.4 978.8,75.4 977.7,76.7 977.1,78.2 975.2,78.4 974.6,79.8"/><polyline points="992.0,30.0 993.3,31.2 995.0,31.0 996.6,30.9 998.1,31.5 997.5,32.7 997.7,34.1 996.6,35.1 996.4,36.8 994.2,37.0 994.0,38.7 994.9,39.9 996.0,40.7 997.1,41.7 996.1,43.4 996.6,45.3 995.5,46.0 994.0,46.0 992.9,46.7 992.0,47.8"/><polyline points="992.0,53.4 993.4,52.9 994.7,53.0 996.1,53.4 996.9,54.5 997.1,55.9 998.4,55.3 999.8,55.7 1001.1,55.4 1002.2,53.4 1002.9,51.8 1004.1,50.6 1005.2,49.3 1005.4,47.7 1007.3,47.1 1007.3,45.3 1008.3,44.2 1009.8,43.2 1010.6,44.7 1011.3,46.3 1012.4,47.7 1013.8,48.8 1015.6,49.5 1017.4,48.8 1018.9,47.3 1019.9,45.3 1019.0,44.0 1018.8,42.2 1017.4,41.2 1016.9,39.8 1016.5,38.4 1015.9,37.1 1015.8,35.8 1014.8,34.5 1015.4,33.1 1015.6,31.7 1015.5,30.2 1016.4,29.0"/><polyline points="1046.9,29.0 1047.0,30.8 1045.0,31.5 1044.8,33.1 1044.5,34.6 1043.3,35.6 1042.2,36.7 1041.8,38.1 1040.7,39.1 1040.0,40.4 1038.7,41.2 1037.7,42.2 1036.2,42.4 1034.7,42.7 1032.6,41.2 1031.3,41.9 1031.1,43.7 1029.6,44.2 1028.3,44.9 1027.1,45.8 1026.0,47.8 1027.6,49.8 1027.1,51.9 1026.0,53.0 1024.5,53.4 1025.5,54.4 1026.7,53.5 1028.4,53.8 1029.6,52.9 1031.0,52.4 1032.4,52.0 1033.7,51.4 1035.2,52.9 1034.0,53.6 1032.9,54.4 1032.6,55.9 1030.1,56.4 1028.6,58.5 1027.6,59.6 1026.5,60.5 1024.7,61.1 1023.0,62.0 1021.5,64.1 1020.6,65.3 1019.8,66.4 1018.9,67.6 1017.8,68.4 1017.3,69.7 1016.4,70.7 1015.3,71.7 1014.4,72.7 1013.3,73.7 1011.7,74.4 1011.0,75.9 1010.3,77.3 1008.6,78.1 1007.7,79.8"/><polyline points="1024.5,34.6 1027.1,31.5 1029.6,29.0"/><polyline points="1027.1,36.1 1027.2,38.0 1028.6,39.2 1027.1,41.2 1028.5,40.3 1030.1,40.2 1031.4,39.2 1032.6,38.1 1033.7,37.0 1033.9,35.6 1033.7,34.1 1033.8,32.5 1034.5,31.1 1035.7,30.0 1036.7,29.0"/><polyline points="1073.9,79.8 1074.5,79.0"/><polyline points="891.3,79.0 891.9,80.3 893.0,81.5 892.8,83.1 893.7,84.5 894.6,85.9 894.4,87.6 894.5,89.0 894.6,90.4 895.4,91.7 896.6,93.1 898.4,93.2 900.0,92.6 901.5,93.2 904.0,93.7 903.8,95.1 904.1,96.5 904.5,97.8 906.1,99.3 907.0,101.0 906.6,102.9 907.1,104.4 908.6,104.9 910.1,105.9 911.6,104.4 912.7,102.9 914.2,104.4 915.7,103.9 917.2,102.9 918.7,103.4 920.8,104.4 922.8,103.4 924.5,103.3 925.4,101.9 926.4,100.7 927.9,100.3 929.9,100.8 931.1,99.8 930.9,98.3 933.0,97.3 932.0,95.8 933.2,94.9 934.5,94.2 933.5,92.2 932.0,91.2 933.0,90.2 934.0,89.2 933.5,87.6 933.5,89.3 935.0,90.2 935.0,92.1 936.0,93.7 937.4,93.4 938.6,94.2 939.8,92.9 941.1,91.7 942.0,90.7 942.6,89.5 943.6,88.7 944.0,87.2 945.1,86.1 946.2,85.1 947.3,84.1 947.2,82.2 948.7,81.5 949.8,80.3 950.8,79.0"/><polyline points="920.8,104.4 920.7,106.1 921.3,107.9 920.3,109.5 920.4,110.9 919.8,112.1 919.8,113.5 919.2,114.7 919.4,116.2 918.2,117.1 916.6,117.5 916.2,119.1 913.7,119.6 912.4,120.0 911.6,121.2 910.1,122.7 908.3,123.1 907.6,124.7 907.1,126.6 905.5,127.8 904.0,129.8"/><polyline points="923.8,113.5 925.4,112.0 926.4,114.1 926.3,115.7 925.4,117.1 923.8,118.4 923.3,116.1 922.8,114.7 923.8,113.5"/><polyline points="967.0,80.5 965.4,81.5 964.5,83.1 963.7,84.4 962.9,85.6 961.5,86.2 960.4,87.1 959.0,87.7 958.3,88.8 958.3,90.4 957.6,91.6 956.3,92.2 954.9,92.9 954.6,94.4 953.6,95.4 953.7,97.1 952.3,97.8 952.2,99.5 950.5,100.2 950.1,101.7 949.2,102.9 949.0,104.8 946.9,105.5 946.7,107.4 945.9,108.4 945.0,109.4 945.4,111.2 944.1,112.0 942.9,113.3 943.4,115.4 942.1,116.6 941.0,118.2 941.1,120.1 941.5,118.8 942.1,117.6 942.5,116.3 943.5,115.3 944.1,114.1 945.6,113.1 945.5,111.2 946.7,110.0 947.0,108.4 948.4,107.6 949.2,106.4 949.7,105.1 950.4,104.0 951.8,103.4"/><polyline points="942.1,120.7 943.1,124.7 943.6,129.8"/><polyline points="955.3,80.0 956.3,81.4 956.3,83.1 957.6,81.8 959.4,82.0 959.7,80.5 960.9,79.5"/><polyline points="967.0,80.5 968.5,79.0"/><polyline points="970.1,83.6 971.5,83.8 972.6,84.6 974.6,84.1 975.4,85.2 975.6,86.6 973.6,85.1"/><polyline points="992.0,92.2 990.5,91.5 988.9,91.7 990.2,92.7 990.9,94.2 991.4,95.5 991.9,96.8 990.7,97.7 989.2,97.7 987.8,97.8 985.8,97.3 983.8,97.0 982.8,95.3 982.6,96.7 981.7,97.8 983.3,98.8 982.0,100.1 980.2,99.8 978.8,99.9 977.7,100.8 977.9,102.6 978.2,104.4 979.7,105.9 979.7,107.4 978.7,108.5 980.2,109.5 979.4,110.5 978.0,111.0 977.7,112.5 977.8,114.3 976.7,115.6 975.7,116.6 975.6,118.1 975.0,119.4 974.3,120.5 973.6,121.7 972.6,123.3 972.6,125.2 971.1,126.7 970.8,128.3 970.1,129.8"/><polyline points="1009.8,79.0 1008.5,80.2 1007.2,81.5 1006.0,82.1 1004.7,82.6 1004.2,84.1 1002.7,84.9 1001.1,85.1 999.6,87.1 998.0,87.4 997.1,88.7 995.8,89.4 995.0,90.7 993.8,91.8 993.0,93.2 992.7,95.0 992.0,96.8 992.0,98.3"/><polyline points="1067.2,83.6 1068.7,83.2 1070.2,83.3 1071.4,81.7 1073.3,81.5 1073.5,79.9 1074.8,79.0"/><polyline points="630.0,155.9 631.6,156.8 631.7,158.9 633.1,160.0 634.2,160.9 635.1,161.9 635.9,163.0 636.1,164.5 637.3,165.4 638.7,165.1 639.2,167.6 639.3,169.1 640.3,170.1 641.2,171.1 642.8,171.0 644.2,171.7 645.3,169.6 647.3,170.1 648.0,171.3 647.8,172.7 646.8,174.7 648.3,175.4 649.3,176.7 649.8,178.8 650.9,179.8 651.9,180.8"/><polyline points="750.0,164.0 745.8,170.6 741.8,177.2 739.7,180.8"/><polyline points="750.0,163.5 751.0,162.6 752.0,161.7 753.0,160.8 754.0,159.9 755.1,159.1 756.1,158.2 757.1,157.3 758.1,156.4 759.4,156.1 760.6,155.8 761.9,155.5 763.2,155.1 764.5,154.8 765.7,154.5 767.0,154.2 768.3,153.9 769.5,153.6 770.8,153.2 772.1,152.9 773.4,152.6 774.6,152.3 775.9,152.0 777.2,151.7 778.4,151.3 779.7,151.0 781.0,150.7 782.2,150.4 783.5,150.1 784.8,149.8 786.1,149.4 787.3,149.1 788.6,148.8 789.9,148.4 791.1,148.1 792.4,147.7 793.6,147.3 794.9,146.9 796.1,146.6 797.4,146.2 798.6,145.8 799.9,145.4 801.1,145.1 802.4,144.7 803.6,144.3 804.9,143.9 806.1,143.6 807.4,143.2 808.7,142.8 809.9,142.5 811.2,142.1 812.4,141.7 813.7,141.3 814.9,141.0 816.2,140.6 817.4,140.2 818.7,139.8 819.9,139.5 821.2,139.1 822.4,138.7 823.7,138.3 824.9,138.0 826.2,137.6"/><polyline points="788.6,148.8 789.5,150.2 789.4,151.8 789.6,153.4 790.4,154.5 789.6,156.1 790.0,157.4 791.1,158.4 791.6,159.7 792.6,160.8 791.9,162.5 793.2,163.5 793.9,164.7 794.2,166.0 795.1,167.1 794.7,168.6 795.1,170.1 795.2,171.7 794.5,173.2 793.7,174.7 794.0,176.1 794.9,177.3 794.7,178.8 795.7,180.8"/><polyline points="826.7,130.0 826.9,131.4 827.9,132.6 827.2,134.1 827.1,136.0 826.2,137.6 827.1,139.1 826.7,140.6 826.7,142.2 827.3,143.7 827.2,145.0 826.2,146.3 827.5,147.6 828.2,149.3 829.4,150.3 829.8,151.8 829.1,153.6 828.7,155.4 827.7,156.9 826.7,158.4 824.7,160.0 822.6,161.0 821.9,162.7 822.1,164.5 822.0,166.0 822.0,167.6 821.8,169.1 822.6,170.6 822.6,172.3 822.6,174.0 822.1,175.7 821.1,177.3 822.4,179.2 821.6,180.8"/><polyline points="833.8,130.0 837.4,140.2 841.4,151.3 845.0,161.5 849.1,172.7 852.1,180.8"/><polyline points="649.8,180.0 650.8,181.1 652.1,181.9 653.4,182.5 655.2,183.3 655.9,185.1 658.0,184.6 657.4,186.6 659.0,187.6 657.7,187.0 656.4,187.6 655.6,186.1 653.9,185.6 651.9,187.1 649.8,188.1 650.8,190.2 652.9,191.7 652.9,193.5 653.4,195.2 652.3,196.6 651.9,198.3 650.6,197.8 649.3,198.3 647.8,198.6 646.6,197.6 645.3,197.3 643.9,196.8 642.8,195.7 641.2,195.7 640.6,194.1 639.2,193.2 637.1,192.7 635.1,194.2 633.9,195.5 633.6,197.3 632.6,195.2 633.0,193.7 633.1,192.2 631.0,191.2 630.0,189.1 630.5,187.1 629.0,186.6"/><polyline points="741.8,180.0 740.3,180.3 739.5,181.4 738.7,182.5 737.3,182.9 736.5,184.3 735.4,185.3 734.1,185.9 732.6,186.1 731.5,187.0 730.5,188.1 728.6,187.8 727.7,188.9 726.5,189.7 725.3,190.3 724.1,191.0 723.0,191.7 722.0,192.7 721.0,194.0 719.9,195.2 718.4,194.4 718.4,192.7 716.4,194.2 714.7,194.2 713.3,195.2 711.6,195.6 710.3,196.8 709.0,197.8 707.7,198.8 709.3,199.8 710.8,199.6 712.3,199.3 711.3,200.8 712.7,201.6 714.3,201.8 716.4,202.9 718.4,203.9 718.9,202.3 720.4,201.8 722.2,201.1 723.5,199.8 722.1,200.0 720.9,199.3 720.8,197.8 722.0,196.8 720.7,196.3 719.9,195.2"/><polyline points="707.7,198.8 706.2,199.5 705.2,200.8 704.2,201.9 702.5,201.7 701.0,202.0 700.1,203.4 698.9,204.0 697.7,204.8 696.5,205.2 695.1,205.5 694.0,206.4 692.6,206.6 691.5,207.5 690.2,208.0 689.4,209.5 687.9,209.5 686.9,210.6 685.6,210.9 684.1,210.6 683.1,211.8 681.8,212.0 680.4,212.4 679.4,213.8 677.8,213.5 677.3,215.1 676.0,215.8 674.7,216.6 673.5,217.8 672.4,219.1 671.7,220.6 670.5,221.4 669.9,222.9 668.6,223.7 667.8,225.2 667.1,226.7 666.7,228.1 666.2,229.5 665.6,230.8"/><polyline points="741.8,180.0 740.8,182.0 740.2,183.5 738.3,183.6 737.7,185.1 737.1,186.7 735.0,187.3 734.7,189.1 733.0,190.2 732.6,192.2 734.3,192.2 735.2,193.7 736.7,194.4 738.2,195.2 737.2,196.6 737.2,198.3 735.7,198.8 736.5,200.2 738.2,200.3 738.6,201.6 739.2,202.9 739.2,204.4 739.9,205.8 739.7,207.4 738.2,207.9 737.7,209.5 736.5,210.9 734.7,211.5 733.7,212.4 733.4,213.9 732.1,214.5 731.2,215.5 729.8,216.1 729.6,217.6 728.8,219.1 726.9,219.2 726.0,220.6 724.7,221.4 723.5,222.2 722.0,221.7 720.6,222.3 719.3,223.3 717.7,222.3 716.4,223.2 714.6,223.9 712.8,224.5 711.1,224.3 710.3,222.7 708.8,223.4 707.6,222.4 706.2,222.2 704.7,222.4 703.2,222.8 701.7,223.2 700.1,222.7 698.6,223.3 697.1,223.8 695.4,223.3 694.0,224.2 693.0,225.5 691.3,224.8 690.0,225.2 688.9,226.2 687.9,227.4 686.1,226.9 685.0,227.8 683.9,228.8 682.2,228.9 681.3,230.5 679.8,230.8"/><polyline points="794.7,180.0 795.6,181.3 796.2,182.7 796.7,184.1 796.4,185.7 797.6,186.8 798.3,188.1 798.2,189.7 797.7,191.2 799.8,192.2 801.3,190.7 802.2,191.9 802.8,193.2 803.5,194.8 804.2,196.5 803.8,198.3 804.7,199.4 803.8,201.0 805.0,202.0 804.9,203.4 804.6,205.1 806.1,206.3 806.4,207.9 806.4,209.5 806.8,211.0 807.7,212.4 807.7,214.0 807.9,215.6"/><polyline points="821.6,180.0 820.7,181.3 820.8,182.7 820.8,184.0 821.0,185.4 820.5,186.7 821.1,188.1 820.6,189.6 821.4,191.0 821.3,192.4 822.7,193.7 822.1,195.2 822.0,196.8 822.7,198.2 822.4,199.8 823.1,201.3 822.7,203.0 823.1,204.7 822.6,206.4 823.4,207.9 822.6,209.5 824.2,211.5"/><polyline points="807.9,215.8 815.0,214.0 824.2,211.5 833.3,209.0 841.4,206.9 847.5,205.4 851.6,202.9 854.6,200.3 857.7,198.8 859.2,198.3"/><polyline points="807.9,215.6 807.9,220.6 808.1,225.7 808.4,230.8"/><polyline points="850.1,180.0 851.6,182.0 852.1,183.5 854.1,183.6 854.6,185.1 855.7,186.1 856.9,186.9 857.7,188.1 858.5,189.3 858.3,191.0 859.2,192.2 858.4,193.7 859.6,195.2 858.9,196.8 859.2,198.3 860.2,199.4 860.7,200.8 861.7,201.9 862.8,202.9 865.3,203.4 864.8,205.4 863.4,206.1 861.8,206.4 861.8,208.1 860.7,209.5 862.2,210.7 862.8,212.5 864.2,213.6 864.2,215.6 865.8,216.6 866.8,217.9 868.2,219.0 868.9,220.6 869.5,222.1 871.0,222.7"/><polyline points="837.4,230.3 841.4,228.8 845.5,227.7"/><polyline points="850.6,224.7 853.6,226.7 855.7,230.8"/><polyline points="665.1,230.0 664.6,232.5 666.6,234.1 667.9,235.1 669.3,234.3 670.7,234.6 672.1,233.8 673.6,233.7 675.2,234.1 676.1,232.5 677.8,232.0 678.6,230.8 679.8,230.0"/><polyline points="680.8,230.0 681.7,231.3 681.6,232.7 681.3,234.1 682.2,235.7 682.3,237.6 683.3,239.0 684.4,240.2 685.9,241.7"/><polyline points="685.9,241.7 684.3,241.6 683.0,242.3 681.8,243.2 680.3,243.8 678.8,244.3 677.2,244.7 675.7,245.2 674.2,245.9 672.7,246.5 671.4,247.5 669.6,247.3 668.2,248.2 666.3,247.5 665.2,249.4 663.5,249.3 662.2,249.7 660.9,249.8 659.6,249.8 658.5,250.8 657.8,252.4 656.4,253.4 655.7,254.9 654.4,255.9 654.4,257.4 655.7,256.9 657.1,257.1 658.5,257.2 659.8,257.0 661.2,257.8 662.5,256.9"/><polyline points="654.4,257.4 652.7,257.3 651.4,258.4 650.2,257.5 648.5,258.5 647.3,257.4 645.8,258.0 644.6,256.7 643.2,256.9 641.8,256.4 640.5,257.3 639.2,257.4 637.8,257.8 636.8,259.3 635.1,259.0 634.2,260.0 632.6,260.1 632.0,261.5 630.6,262.3 629.5,263.5 629.0,265.1"/><polyline points="685.9,241.7 686.0,243.4 687.4,244.2 687.1,245.6 686.6,246.9 685.4,247.8 684.9,249.6 683.4,250.8 682.6,251.8 681.8,252.9 680.6,253.8 679.4,254.6 678.7,256.0 677.9,257.1 676.8,258.1 676.2,259.5 675.1,260.7 673.8,261.8 672.7,263.0 671.2,265.1 669.1,266.6 668.0,267.4 666.9,268.2 665.8,269.0 664.8,269.8 663.7,270.6 662.6,271.4 661.5,272.2 661.0,273.6 659.2,273.5 658.5,274.7 657.4,276.1 655.3,276.1 654.4,277.7 653.0,278.3 652.0,279.5 650.9,280.6 649.3,280.8"/><polyline points="671.2,265.1 672.1,266.7 672.2,268.6 672.2,270.4 672.7,272.2 674.0,271.8 675.4,271.5 676.7,271.1 678.0,270.8 679.4,270.4 680.7,270.1 682.0,269.7 683.3,269.4 684.7,269.0 686.0,268.7 687.3,268.3 688.7,268.0 690.0,267.6 691.3,267.3 692.5,267.0 693.8,266.6 695.1,266.3 696.3,266.0 697.6,265.7 698.9,265.4 700.1,265.1 701.4,264.7 702.7,264.4 704.0,264.1 705.2,263.8 706.5,263.5 707.8,263.1 709.0,262.8 710.3,262.5 711.6,262.2 712.8,261.9 714.1,261.5 715.4,261.2 716.6,260.9 717.9,260.6 719.2,260.3 720.5,259.9 721.7,259.6 723.0,259.3 724.3,259.0 725.5,258.7 726.8,258.4 728.1,258.0 729.3,257.7 730.6,257.4 731.9,257.2 733.2,257.0 734.5,256.8 735.8,256.6 737.1,256.4 738.4,256.2 739.7,256.0 740.9,255.8 742.2,255.6 743.5,255.4 744.8,255.2 746.1,255.0 747.4,254.8 748.7,254.6 750.0,254.4"/><polyline points="807.9,230.0 807.6,231.4 808.7,232.7 808.9,234.0 808.2,235.4 808.2,236.8 808.4,238.1 809.7,237.8 810.9,237.4 812.2,237.0 813.5,236.7 814.8,236.3 816.0,236.0 817.3,235.7 818.6,235.3 819.8,234.9 821.1,234.6 822.4,234.3 823.6,233.9 824.9,233.6 826.2,233.3 827.5,233.0 828.8,232.7 830.0,232.3 831.3,232.0 832.6,231.5 833.9,230.9 835.4,231.2 836.5,229.9 838.0,230.0 839.4,230.0"/><polyline points="845.5,230.0 846.1,231.3 845.8,233.0 847.0,234.1 847.3,235.4 847.4,236.9 848.6,237.8 849.1,239.1 850.1,240.2 850.7,241.5 850.3,243.3 851.6,244.2 850.9,245.5 851.3,247.0 850.6,248.3"/><polyline points="855.7,232.0 856.7,236.1 859.2,239.1"/><polyline points="808.4,238.1 809.5,239.4 809.0,240.9 809.0,242.4 809.7,243.8 809.9,245.2 810.6,246.5 810.2,248.0 810.0,249.4 811.4,250.6 812.0,251.9 811.5,253.4 812.3,254.8 812.6,256.4 812.7,258.1 813.5,259.5 814.7,260.8 815.0,262.5"/><polyline points="750.0,254.9 751.3,254.6 752.6,254.3 753.9,254.0 755.2,253.7 756.5,253.4 757.8,253.1 759.1,252.9 760.5,252.6 761.8,252.3 763.1,252.0 764.4,251.7 765.7,251.4 767.0,251.1 768.3,250.8 769.0,252.0 770.0,252.8 771.3,253.4 773.1,254.2 774.9,254.9 776.3,255.8 776.9,257.4 776.4,259.1 777.4,260.5 778.7,261.5 779.5,263.0 780.6,264.2 782.4,264.0 783.5,265.1 785.2,265.1 786.6,266.1 787.8,267.0 789.4,266.8 790.6,267.6 791.7,268.8 793.3,268.6 794.7,269.1 796.0,268.4 797.4,268.3 798.8,268.6 800.2,268.8 801.4,269.5 802.7,270.3 804.3,269.3 805.6,270.1 806.9,270.6"/><polyline points="786.6,266.1 785.6,270.6 784.0,275.7 782.5,280.8"/><polyline points="851.6,258.4 850.5,259.8 848.4,259.8 847.5,261.5 846.5,263.0 845.3,264.1 843.5,264.5 842.6,266.1 840.9,266.7 839.4,267.6 837.6,268.1 836.3,269.1 835.3,270.6 833.7,271.3 832.1,272.0 831.3,273.7 829.5,274.1 828.7,275.9 827.2,276.7 826.2,278.2 824.0,278.2 823.1,279.8"/><polyline points="851.6,257.9 850.3,258.5 850.1,260.4 848.4,260.5 847.7,261.8 846.7,262.7 845.5,263.5 844.7,264.6 843.8,265.7 843.0,266.8 841.4,267.1 840.6,268.3 839.6,269.0 837.9,269.1 837.4,270.6 836.4,272.0 834.2,271.7 833.3,273.2 832.2,274.6 830.7,275.4 829.2,276.2 827.6,276.6 826.2,277.5 825.2,278.8"/><polyline points="836.4,261.5 840.4,259.5 842.5,258.4"/><polyline points="850.6,248.3 849.7,249.2 849.0,250.5 847.6,250.8 846.7,251.7 845.5,252.4 843.7,252.8 843.1,254.8 841.4,255.4 840.0,256.4 838.4,256.9 836.5,257.4 835.3,259.0 834.2,260.2 832.7,260.1 831.3,260.5 829.7,260.7 828.4,261.4 827.2,262.5 826.2,263.9 824.8,264.5 823.1,264.5 822.0,266.2 820.1,266.6 818.2,267.0 817.1,268.6 816.3,269.9 815.0,270.6 813.7,271.4 813.0,272.7"/><polyline points="649.3,280.0 647.6,280.3 646.8,281.9 645.3,282.5 644.2,283.4 642.5,282.8 641.4,283.9 640.2,284.6 639.1,285.7 637.5,285.8 636.5,287.1 635.1,287.6 634.3,288.9 633.6,290.2 631.7,290.4 631.0,291.7 629.4,292.5 629.0,294.2"/><polyline points="656.4,280.0 656.9,284.1 658.0,289.1 659.5,300.3 661.5,307.4 662.5,313.5 663.0,318.6 663.5,330.8"/><polyline points="736.7,330.3 750.0,327.7"/><polyline points="808.9,286.1 809.0,287.5 808.8,289.0 809.9,290.2 810.9,291.4 810.7,292.8 810.5,294.2 809.9,295.7 810.1,297.1 811.0,298.3 811.4,299.8 811.9,301.3 811.9,302.9 812.0,304.4 812.2,306.1 811.6,307.9 812.5,309.5 812.7,311.3 811.3,312.7 811.5,314.5 810.6,315.7 809.9,317.0 809.9,318.6 808.8,319.8 808.4,321.3 807.9,322.7 807.5,324.2 806.8,325.5 805.9,326.7 805.8,328.1 804.8,329.3 804.9,330.8"/><polyline points="782.5,280.0 783.1,281.6 782.8,283.1 781.7,284.5 782.0,286.1 782.9,287.3 783.7,288.6 783.5,290.2 784.9,291.2 784.8,292.9 785.6,294.2 786.6,295.4 787.1,296.8 786.5,298.7 787.6,300.3 786.6,301.4 786.1,302.6 786.9,304.2 786.1,305.4 786.2,307.0 785.7,308.4 784.5,309.5 784.0,311.0 783.5,312.5 782.2,313.7 781.6,315.3 780.5,316.6 779.8,318.2 778.5,319.4 777.4,320.6 776.5,321.9 775.8,323.2 775.4,324.7 774.7,326.0 774.2,327.3 774.4,328.8"/><polyline points="750.0,327.7 756.1,326.2 765.2,323.7 769.3,322.7"/><polyline points="806.9,287.1 802.8,289.1 798.8,292.2"/><polyline points="663.0,330.0 663.0,331.3 664.2,332.4 663.3,333.9 664.1,335.1 665.1,336.1 665.5,337.5 666.5,338.4 667.1,339.7 667.0,341.1 668.1,342.4 668.3,343.7 668.1,345.2 669.4,344.9 670.7,344.6 672.0,344.4 673.3,344.1 674.6,343.8 675.9,343.5 677.2,343.3 678.5,343.0 679.8,342.7 681.2,342.4 682.6,342.1 684.0,341.8 685.4,341.4 686.8,341.1 688.2,340.8 689.6,340.5 691.0,340.2 692.3,339.9 693.6,339.7 694.9,339.4 696.2,339.1 697.5,338.8 698.8,338.6 700.1,338.3 701.4,338.0 702.6,337.8 703.9,337.5 705.2,337.2 706.5,336.9 707.8,336.7 709.0,336.4 710.3,336.1 711.7,335.8 713.2,335.5 714.6,335.2 716.1,335.0 717.5,334.7 719.0,334.4 720.4,334.1 721.7,333.8 723.0,333.6 724.2,333.3 725.5,333.1 726.8,332.8 728.0,332.5 729.3,332.3 730.6,332.0 732.1,331.7 733.5,331.4 735.0,331.1 736.4,330.9 737.9,330.6 739.3,330.3 740.8,330.0"/><polyline points="662.5,336.1 662.4,337.7 661.5,339.1 661.9,340.9 660.5,342.4 661.0,344.2 660.7,345.6 661.0,347.0 660.5,348.3 659.8,349.6 658.2,350.1 658.0,351.8 657.0,353.2 656.3,354.8 654.9,355.9 653.6,356.8 653.0,358.2 652.4,359.5 650.8,359.9 650.8,362.0 649.3,362.5 648.5,363.6 647.2,364.2 646.8,365.6 645.1,366.1 644.2,367.6 643.0,368.9 643.2,370.6 644.2,372.0 643.7,373.7 642.6,374.5 641.2,374.7 639.2,373.2 638.1,374.3 636.6,374.2 636.3,375.9 635.1,377.2 633.8,378.8 634.1,380.8"/><polyline points="691.0,340.2 691.2,341.6 691.0,343.1 692.2,344.2 691.7,345.7 692.8,346.9 693.0,348.3 693.7,349.7 693.1,351.4 693.2,353.0 694.9,354.3 694.5,355.9 695.6,355.0 696.5,354.0 696.9,352.5 698.1,351.7 698.7,350.4 700.1,349.8 700.7,348.3 701.8,347.2 703.3,346.5 704.2,345.2 705.4,344.0 705.8,342.2 707.2,341.2 708.8,339.7 710.3,341.2 711.7,340.1 713.3,340.7 714.7,339.4 716.4,338.6 718.0,338.4 719.4,337.6 721.5,336.6 723.2,336.6 724.5,337.6 725.7,338.4 726.5,339.7"/><polyline points="719.4,343.2 719.6,345.0 718.2,346.5 718.4,348.3 718.5,349.7 719.5,350.9 718.9,352.4 718.6,354.1 717.4,355.2 716.4,356.4 715.6,357.6 714.6,358.8 714.7,360.6 713.3,361.5 713.1,363.1 711.7,364.1 711.3,365.6 709.8,366.0 708.2,366.1 708.0,367.5 707.2,368.6 707.0,370.1 705.5,371.1 705.7,372.7 705.7,374.1 704.9,375.3 704.7,376.7 704.0,377.9 703.1,378.9 702.1,379.8 700.8,378.7 699.1,378.8 698.1,377.1 696.1,376.7 694.0,377.2 694.7,378.4 695.0,379.8"/><polyline points="719.4,343.2 720.9,342.2 722.3,341.9 723.5,342.7 724.8,342.0 725.1,340.3 726.5,339.7 728.1,339.9 728.1,342.0 729.7,342.2 730.6,343.2 730.6,344.7 731.7,345.7 731.5,347.3 732.6,348.3 733.6,350.3 733.9,348.9 733.8,347.5 734.7,346.3 735.9,345.0 737.7,345.2 739.2,345.3 740.8,345.2 741.9,346.2 742.9,347.3 744.9,346.9 745.8,348.3 747.1,349.2 748.7,349.4 750.0,350.3"/><polyline points="749.4,350.3 749.4,364.5"/><polyline points="804.9,330.0 804.5,331.4 804.7,332.9 803.8,334.1 803.8,335.5 803.0,336.6 802.0,337.6 802.3,339.1 801.8,340.6 800.3,341.2 799.5,339.9 798.8,338.6 798.7,336.7 797.7,335.1 796.7,333.4 794.7,333.0 792.7,334.6 791.2,334.6 790.1,333.6 788.2,333.7 786.6,332.5 784.5,331.0 783.5,330.0"/><polyline points="777.4,336.1 777.3,337.8 777.9,339.3 779.3,340.3 780.6,341.5 780.5,343.2 780.2,344.8 781.5,346.0 781.0,347.6 781.9,348.9 782.5,350.3 782.4,351.8 783.9,352.8 783.3,354.5 784.7,355.6 784.8,357.0 785.1,358.4 786.7,358.8 788.2,358.6 789.6,357.3 791.1,357.1 792.7,357.4 794.1,356.9 795.5,356.8 796.9,356.3 798.2,355.6 799.8,355.9"/><polyline points="783.5,330.0 784.6,331.2 784.6,332.9 785.6,334.1 785.8,335.7 787.8,336.2 787.8,337.9 788.6,339.1 789.0,340.6 790.8,341.2 790.4,343.2 791.7,344.2 793.2,344.8 793.6,346.4 794.7,347.3 795.6,348.4 796.5,349.5 797.7,350.3 799.0,351.7 799.8,353.4 800.3,355.9 800.6,357.4 800.5,359.0 800.8,360.5 800.6,361.9 799.9,363.1 799.8,364.5 799.6,365.9 799.2,367.3 798.8,368.6 799.2,370.2 797.9,371.3 797.7,372.7 797.2,374.0 797.1,375.5 796.2,376.7 795.3,377.9 794.8,379.3 794.7,380.8"/><polyline points="801.3,356.4 801.5,357.8 802.2,359.1 801.8,360.5 801.5,362.0 801.8,363.7 800.8,365.1 801.0,366.8 800.1,368.1 799.6,369.6 799.8,371.2 798.8,372.4 798.3,373.7"/><polyline points="786.6,374.7 790.6,373.7 794.7,372.2 797.7,370.6"/><polyline points="768.8,340.2 769.1,341.2 770.8,341.7 769.5,343.3 770.3,344.2 771.9,344.8 770.4,346.5 770.6,347.6 771.8,348.3 772.0,349.3 773.6,350.0 772.6,351.4 772.9,352.4 772.3,353.4 770.3,352.7 770.3,354.4 771.8,354.9 770.3,356.9 771.8,357.4 771.3,359.3 772.6,359.9 773.9,360.5 773.4,361.8 775.5,362.2 773.7,364.0 775.4,364.5 776.4,364.8 776.9,366.5 778.4,365.6 780.3,365.4 780.5,363.5 781.7,364.3 780.1,365.7 779.8,366.8 782.6,367.3 781.5,368.6 782.8,369.3 783.5,370.6 784.1,369.4 782.1,368.8 784.1,367.4 782.0,366.7 782.5,365.6 782.2,367.0 784.5,367.1 784.0,368.6 784.5,369.6 783.7,371.1 786.1,371.4 785.6,372.7 786.7,373.4 786.6,374.7 786.9,375.7 787.8,376.5 787.6,377.7 789.4,378.1 789.5,379.4 789.1,380.8"/><polyline points="768.3,336.1 768.7,337.6 766.1,337.6 766.3,338.9 766.3,340.2 764.9,340.9 766.8,342.4 764.8,343.0 766.5,344.4 765.2,345.2 764.9,346.2 764.4,347.2 765.0,348.3 763.3,349.1 764.2,350.3 763.6,351.3 763.2,352.3 761.9,352.9 763.7,354.8 762.2,355.4 760.3,355.7 760.6,357.2 760.6,358.6 759.0,359.0 759.1,360.5 758.8,361.7 756.6,361.0 756.7,362.6 756.1,363.5 755.8,364.8 754.1,365.1 754.1,366.6 754.0,367.6 754.5,368.9 752.6,369.4 753.0,370.6 754.8,370.2 754.5,372.8 756.1,372.7 756.9,371.7 758.2,372.6 759.5,373.4 760.2,371.7 761.3,371.7 762.3,371.6 763.1,370.3 764.2,370.6 765.6,369.4 766.6,369.8 767.5,370.4 768.3,371.7 769.1,372.7 770.4,372.9 771.3,373.7 772.6,374.2 773.9,374.7"/><polyline points="762.2,343.2 762.3,344.9 764.1,345.7 764.2,347.3 765.6,348.3 766.1,350.1 767.3,351.3 768.7,352.3 769.4,353.7 769.3,355.4 770.0,356.7 770.9,357.9 770.8,359.5 771.9,360.7 772.9,361.9 773.4,363.5"/><polyline points="755.1,374.7 756.4,375.3 757.7,375.8 759.1,376.2 760.5,376.1 761.6,377.2 762.9,377.3 764.2,377.7 765.7,377.7 766.5,379.4 768.2,378.9 769.3,379.8 770.8,379.6 772.2,379.8 773.4,380.8"/><polyline points="750.0,367.6 752.0,370.6 751.0,374.7"/><polyline points="634.1,380.0 634.6,381.6 635.6,383.0 634.8,384.3 634.8,385.7 635.1,387.1 634.5,388.7 633.6,390.2"/><polyline points="629.0,403.4 630.3,404.5 631.7,405.6 632.0,407.4 632.6,408.6 633.6,409.5 634.7,410.3 635.1,411.6 636.1,412.5 637.2,413.5 637.6,415.1 638.9,415.9 640.2,416.6 641.5,417.1 641.8,418.8 643.2,419.1 645.3,418.6 646.3,420.1 646.8,422.2"/><polyline points="694.5,380.0 694.9,381.6 693.8,382.7 693.5,384.1 693.0,385.5 692.6,387.0 691.5,388.1 691.9,389.9 690.4,391.4 690.5,393.2 690.5,394.9 689.0,395.9 688.4,397.3 687.1,398.3 687.6,400.2 686.4,401.3 686.4,402.8 685.2,404.0 684.9,405.4 684.6,406.9 684.4,408.4 686.4,409.0 685.4,411.0 683.9,413.0 682.5,413.5 681.3,414.5 679.8,414.6 678.8,415.6 677.8,416.8 676.2,417.1 675.2,418.4 673.7,419.1 672.7,418.1 672.2,420.1 671.2,421.7 669.6,422.2"/><polyline points="789.1,380.0 789.4,381.2 789.9,382.4 787.2,382.8 788.1,384.1 787.1,384.9 787.1,386.0 789.0,387.4 786.3,387.9 787.1,389.1 786.5,390.2 787.4,391.1 786.7,392.2 787.6,393.2 787.6,394.2 788.6,395.1 789.2,396.0 789.0,397.1 789.8,398.0 788.6,399.3 789.5,400.1 789.6,401.3 790.9,400.7 791.1,399.3 791.6,398.2 791.9,397.2 791.4,396.2 790.0,395.3 790.6,394.2 790.9,393.1 790.7,391.9 791.8,390.9 791.1,389.7 792.0,389.1 792.4,387.8 793.7,387.6 794.4,386.6 795.7,385.7 794.7,384.1 794.0,383.0 796.1,382.2 793.6,380.8 795.2,380.0"/><polyline points="761.2,380.0 762.4,380.0 763.3,380.6 763.2,382.4 763.6,383.5 765.2,383.0 765.8,384.3 767.5,383.8 767.7,385.8 769.5,385.0 770.3,386.1 771.7,386.1 771.7,388.4 773.2,388.3 774.4,388.6 775.9,388.3 776.9,387.1 777.6,386.2 778.7,385.3 777.4,384.1 777.1,383.1 778.1,381.9 776.9,381.0"/><polyline points="774.4,388.6 775.1,389.7 775.8,390.8 777.5,390.4 778.4,391.2 778.5,392.6 779.6,393.3 780.5,394.2 780.9,395.3 781.0,396.4 780.0,397.3 779.1,396.6 777.5,397.8 776.9,396.3 776.6,398.2 778.4,398.8 777.9,400.3 776.4,399.8 774.8,400.6 773.9,399.9 773.4,398.3 773.1,396.6 771.1,397.4 770.3,396.3 768.8,396.7 767.6,396.5 767.3,394.7"/><polyline points="776.4,400.3 776.0,402.1 774.1,402.8 773.4,404.4 771.9,403.9 770.3,403.9 768.9,403.3 767.3,403.4 765.9,402.5 764.2,402.4 762.2,402.9"/><polyline points="783.5,409.5 784.9,408.5 786.6,409.1 788.0,408.4 789.6,408.4 790.2,410.3 791.7,411.5 791.9,413.1 792.4,414.5 793.7,415.6 795.0,416.6 794.5,418.5 795.7,419.6 795.5,421.2 796.7,422.2"/><polyline points="780.5,422.2 785.6,420.6 792.7,419.1 795.2,419.1"/><polyline points="773.4,404.4 773.8,406.3 775.4,407.4 777.0,407.3 778.3,408.0 779.5,409.0 780.9,408.5 782.3,408.5 783.5,409.5"/><polyline points="943.6,130.0 943.9,131.8 945.2,133.0 945.5,134.8 946.7,136.1 947.8,137.5 949.2,138.6 950.6,138.9 951.8,138.1 951.3,135.6 953.8,135.1 954.6,136.5 955.8,137.6 956.9,139.0 957.4,140.7 959.1,141.2 959.9,142.7 960.4,141.0 961.9,140.2 963.0,141.1 964.5,141.2 964.5,139.5 965.5,138.1 966.0,136.5 967.0,135.1 965.5,133.0 967.0,132.4 968.5,132.0 969.7,130.5 971.6,130.5"/><polyline points="904.0,130.0 903.0,131.5 901.5,132.5 900.9,133.8 899.5,134.3 898.9,135.6 897.9,136.8 896.9,137.9 895.0,138.1 894.4,139.7 892.8,139.9 891.3,140.2 888.8,139.7 888.6,137.9 887.3,136.6 886.2,134.6 885.5,135.8 885.2,137.1 883.7,138.6 884.9,139.6 884.7,141.2 884.7,142.6 884.5,143.9 884.2,145.2 883.7,146.5 884.3,147.9 884.0,149.3 884.7,151.3 883.7,152.7 883.3,154.3 882.7,155.9 881.6,156.9 879.8,156.3 879.0,158.1 877.2,157.4 876.1,158.4 874.7,157.8 874.0,156.4 874.3,158.2 873.0,159.5 871.0,160.5"/><polyline points="871.0,222.2 873.0,223.7 874.3,225.2 874.6,227.2 876.2,228.2 878.1,228.3 879.6,228.5 880.2,226.5 881.7,226.7 882.9,225.9 884.0,225.0 885.2,224.2 887.3,222.7"/><polyline points="878.1,217.1 880.1,215.6"/><polyline points="886.2,222.7 886.5,224.3 888.1,225.1 888.3,226.7 886.8,227.8 885.2,228.8 884.0,229.7 882.3,229.6 881.2,230.8"/><polyline points="865.2,215.0 866.6,216.1 866.7,218.2 868.3,219.1 869.4,219.9 870.3,220.8 870.8,222.1 871.6,223.8 872.9,225.2 873.9,226.4 874.9,227.7 876.7,227.3 878.4,228.2 879.7,227.9 880.5,226.5 882.0,226.7 883.8,226.1 885.1,224.7 886.3,223.9 887.1,222.6 887.1,224.3 887.9,225.7 888.6,227.2 887.4,228.0 886.1,228.6 884.9,229.2 883.5,229.7 881.8,230.0 881.2,232.0 879.5,232.3 877.6,232.7 876.4,234.3 875.7,235.9 873.9,236.3 872.9,234.8 872.7,233.2 873.4,231.8 871.8,230.7"/><polyline points="885.1,241.4 886.4,240.8 887.9,241.7 889.1,240.9 891.1,239.4 890.3,238.4 889.3,237.5 888.6,236.3 887.7,237.7 888.1,239.4 886.9,240.8 885.1,241.4"/><polyline points="874.9,238.9 877.4,238.4 878.4,239.9 876.9,240.9"/><polyline points="853.0,225.2 853.8,226.5 854.4,227.9 855.1,229.2 855.2,230.7 855.7,232.1 856.6,233.3 856.9,234.9 857.6,236.3"/><polyline points="871.8,230.7 870.1,231.5 868.3,231.8 867.0,232.6 865.8,233.4 864.2,233.3 862.6,233.4 861.4,234.4 860.2,235.3 858.8,235.4 857.6,236.3"/><polyline points="832.0,128.1 832.4,126.7 833.7,126.0 834.6,125.1 836.1,126.6 837.2,125.6 837.6,124.1 839.1,122.0 840.2,120.0"/><polyline points="916.4,120.0 914.8,120.6 913.3,121.5 913.2,123.1 912.0,124.1 910.6,125.0 910.5,126.6 909.4,127.8 908.1,128.6 906.7,129.2 905.2,129.7 903.1,131.2 901.8,132.0 900.7,132.9 900.5,134.8 899.1,135.4 898.6,136.8 897.6,137.7 896.6,138.5 895.4,139.3 894.5,140.3 893.0,140.8 891.0,139.8 889.8,140.6 888.4,140.3 887.4,138.7 886.9,136.8 886.1,135.6 886.4,134.2 885.1,135.2 885.4,136.8 883.8,138.8 884.0,140.2 884.9,141.3 885.4,142.7 883.8,143.9 884.4,145.4 885.2,146.7 884.9,148.1 884.9,149.5 884.4,151.5 883.0,152.7 882.5,154.4 882.3,156.1 880.8,156.1 879.5,157.0 878.2,157.7 876.7,157.6 875.9,156.2 874.7,155.1 874.8,157.0 873.7,158.6 872.3,158.0 871.7,156.6 871.1,158.0 870.1,159.1"/><polyline points="858.8,189.5 859.6,191.0 859.0,192.6 858.3,194.1 858.8,195.6 859.0,197.2 859.8,198.6 860.8,200.2 861.8,201.7 863.2,202.9 864.9,203.7 865.4,202.2 864.7,203.5 863.8,204.7 862.6,206.0 860.8,206.2"/></g><g fill="#000"><circle cx="917.2" cy="109.5" r="4.3"/><circle cx="910.5" cy="126.6" r="4.3"/><circle cx="886.9" cy="127.6" r="4.3"/><circle cx="782.1" cy="172.1" r="4.3"/><circle cx="782.5" cy="170.4" r="4.3"/><circle cx="836.9" cy="159" r="4.3"/><circle cx="838.6" cy="156.9" r="4.3"/><circle cx="845.5" cy="152.4" r="4.3"/><circle cx="831.3" cy="171" r="4.3"/><circle cx="851.7" cy="176.3" r="4.3"/><circle cx="863.7" cy="159.8" r="4.3"/><circle cx="868.4" cy="150.3" r="4.3"/><circle cx="862.8" cy="169.7" r="4.3"/><circle cx="866.2" cy="173" r="4.3"/><circle cx="862.3" cy="181.1" r="4.3"/><circle cx="740.8" cy="190.7" r="4.3"/><circle cx="735.7" cy="217.4" r="4.3"/><circle cx="720.9" cy="222.9" r="4.3"/><circle cx="746.3" cy="222.9" r="4.3"/><circle cx="693" cy="228.8" r="4.3"/><circle cx="776.2" cy="202.1" r="4.3"/><circle cx="797.5" cy="210.5" r="4.3"/><circle cx="807.4" cy="212" r="4.3"/><circle cx="798" cy="221.5" r="4.3"/><circle cx="811" cy="224.7" r="4.3"/><circle cx="821.4" cy="184.2" r="4.3"/><circle cx="827.7" cy="204.9" r="4.3"/><circle cx="836.6" cy="204.4" r="4.3"/><circle cx="823.1" cy="216.8" r="4.3"/><circle cx="841.3" cy="191.5" r="4.3"/><circle cx="859.3" cy="191.3" r="4.3"/><circle cx="847" cy="200.8" r="4.3"/><circle cx="845" cy="206.9" r="4.3"/><circle cx="850.8" cy="208.4" r="4.3"/><circle cx="859.2" cy="210" r="4.3"/><circle cx="857.7" cy="215.6" r="4.3"/><circle cx="862.8" cy="217.1" r="4.3"/><circle cx="857.7" cy="220.1" r="4.3"/><circle cx="861.8" cy="222.7" r="4.3"/><circle cx="841.4" cy="221.9" r="4.3"/><circle cx="831.3" cy="223.9" r="4.3"/><circle cx="827.2" cy="228.6" r="4.3"/><circle cx="848.3" cy="225.2" r="4.3"/><circle cx="688.4" cy="237.6" r="4.3"/><circle cx="679.5" cy="255.4" r="4.3"/><circle cx="665.6" cy="269.1" r="4.3"/><circle cx="654.9" cy="277.2" r="4.3"/><circle cx="737.7" cy="245.4" r="4.3"/><circle cx="727.5" cy="257.6" r="4.3"/><circle cx="745.3" cy="265.8" r="4.3"/><circle cx="736.7" cy="270.1" r="4.3"/><circle cx="696.9" cy="279.8" r="4.3"/><circle cx="739.5" cy="282" r="4.3"/><circle cx="842.2" cy="236.1" r="4.3"/><circle cx="850.1" cy="240.7" r="4.3"/><circle cx="861.2" cy="234.8" r="4.3"/><circle cx="868.1" cy="234.8" r="4.3"/><circle cx="857.7" cy="242.2" r="4.3"/><circle cx="856.5" cy="246.8" r="4.3"/><circle cx="872.9" cy="243.4" r="4.3"/><circle cx="829.2" cy="241.2" r="4.3"/><circle cx="831.3" cy="248.5" r="4.3"/><circle cx="844.5" cy="250.8" r="4.3"/><circle cx="805.4" cy="248.3" r="4.3"/><circle cx="808.4" cy="257.6" r="4.3"/><circle cx="815" cy="257.9" r="4.3"/><circle cx="827.2" cy="257.2" r="4.3"/><circle cx="835.1" cy="256.9" r="4.3"/><circle cx="824.2" cy="263" r="4.3"/><circle cx="819.1" cy="265.6" r="4.3"/><circle cx="834.1" cy="266.8" r="4.3"/><circle cx="824.7" cy="269.1" r="4.3"/><circle cx="827.7" cy="272.7" r="4.3"/><circle cx="815.5" cy="270.6" r="4.3"/><circle cx="803.3" cy="267.6" r="4.3"/><circle cx="810.4" cy="270.1" r="4.3"/><circle cx="799.3" cy="273.2" r="4.3"/><circle cx="820.1" cy="277.2" r="4.3"/><circle cx="807.9" cy="278.3" r="4.3"/><circle cx="811.5" cy="279.8" r="4.3"/><circle cx="766.3" cy="269.1" r="4.3"/><circle cx="767.8" cy="267.6" r="4.3"/><circle cx="782.5" cy="282" r="4.3"/><circle cx="792.2" cy="283.9" r="4.3"/><circle cx="641.7" cy="286.6" r="4.3"/><circle cx="638.1" cy="289.7" r="4.3"/><circle cx="642.2" cy="293.7" r="4.3"/><circle cx="637.1" cy="294.2" r="4.3"/><circle cx="632.6" cy="295.7" r="4.3"/><circle cx="630" cy="300.8" r="4.3"/><circle cx="657.4" cy="292.7" r="4.3"/><circle cx="667.4" cy="291.7" r="4.3"/><circle cx="656.9" cy="299.8" r="4.3"/><circle cx="661.5" cy="299.8" r="4.3"/><circle cx="658" cy="304.4" r="4.3"/><circle cx="642.7" cy="303.9" r="4.3"/><circle cx="638.7" cy="307.4" r="4.3"/><circle cx="630" cy="310" r="4.3"/><circle cx="648.8" cy="311" r="4.3"/><circle cx="643.2" cy="315.1" r="4.3"/><circle cx="638.7" cy="319.6" r="4.3"/><circle cx="667.4" cy="314" r="4.3"/><circle cx="683.9" cy="307.4" r="4.3"/><circle cx="681.3" cy="314.7" r="4.3"/><circle cx="721.8" cy="299.5" r="4.3"/><circle cx="720.4" cy="303.8" r="4.3"/><circle cx="747.4" cy="312" r="4.3"/><circle cx="687.9" cy="323.2" r="4.3"/><circle cx="701.3" cy="320.4" r="4.3"/><circle cx="740.2" cy="324.2" r="4.3"/><circle cx="735.7" cy="323.9" r="4.3"/><circle cx="663" cy="324.7" r="4.3"/><circle cx="667.6" cy="322.7" r="4.3"/><circle cx="672.7" cy="324.2" r="4.3"/><circle cx="680.3" cy="328.8" r="4.3"/><circle cx="695.5" cy="332" r="4.3"/><circle cx="804.4" cy="283" r="4.3"/><circle cx="804.9" cy="287.1" r="4.3"/><circle cx="800.3" cy="292.2" r="4.3"/><circle cx="810.8" cy="295" r="4.3"/><circle cx="791.1" cy="292.7" r="4.3"/><circle cx="790.6" cy="298.8" r="4.3"/><circle cx="794.7" cy="299.3" r="4.3"/><circle cx="802.6" cy="304.4" r="4.3"/><circle cx="775.4" cy="293.7" r="4.3"/><circle cx="777.4" cy="292.7" r="4.3"/><circle cx="769.3" cy="297.8" r="4.3"/><circle cx="766.3" cy="302.9" r="4.3"/><circle cx="757.1" cy="306.4" r="4.3"/><circle cx="751.5" cy="310" r="4.3"/><circle cx="782.5" cy="307.4" r="4.3"/><circle cx="792.2" cy="305.4" r="4.3"/><circle cx="789.1" cy="310" r="4.3"/><circle cx="788.6" cy="316.1" r="4.3"/><circle cx="782.5" cy="316.6" r="4.3"/><circle cx="780.5" cy="320.1" r="4.3"/><circle cx="761.2" cy="315.1" r="4.3"/><circle cx="765.2" cy="314.3" r="4.3"/><circle cx="774.9" cy="318.6" r="4.3"/><circle cx="773.4" cy="323.2" r="4.3"/><circle cx="752.5" cy="319.6" r="4.3"/><circle cx="759.1" cy="321.9" r="4.3"/><circle cx="777.4" cy="327.2" r="4.3"/><circle cx="766.8" cy="328.8" r="4.3"/><circle cx="794.5" cy="326.9" r="4.3"/><circle cx="806.9" cy="322.2" r="4.3"/><circle cx="662.3" cy="334.6" r="4.3"/><circle cx="648.6" cy="342.2" r="4.3"/><circle cx="683.7" cy="336.3" r="4.3"/><circle cx="702.7" cy="339.3" r="4.3"/><circle cx="682.1" cy="345.2" r="4.3"/><circle cx="648.5" cy="357.6" r="4.3"/><circle cx="647.1" cy="362" r="4.3"/><circle cx="691.5" cy="361" r="4.3"/><circle cx="732.6" cy="337.1" r="4.3"/><circle cx="728.1" cy="341.7" r="4.3"/><circle cx="726.3" cy="347.8" r="4.3"/><circle cx="741.3" cy="339.7" r="4.3"/><circle cx="749.4" cy="337.1" r="4.3"/><circle cx="741.3" cy="352.4" r="4.3"/><circle cx="739.2" cy="358.4" r="4.3"/><circle cx="751.5" cy="349.3" r="4.3"/><circle cx="738.2" cy="370.6" r="4.3"/><circle cx="747.4" cy="368.6" r="4.3"/><circle cx="749.4" cy="376.7" r="4.3"/><circle cx="714.3" cy="375.7" r="4.3"/><circle cx="723" cy="372.2" r="4.3"/><circle cx="777.9" cy="335.1" r="4.3"/><circle cx="757.6" cy="334.1" r="4.3"/><circle cx="765.2" cy="335.1" r="4.3"/><circle cx="759.7" cy="338.1" r="4.3"/><circle cx="759.1" cy="342.7" r="4.3"/><circle cx="763.2" cy="339.1" r="4.3"/><circle cx="796.2" cy="347.3" r="4.3"/><circle cx="786.6" cy="353.4" r="4.3"/><circle cx="774.9" cy="358.4" r="4.3"/><circle cx="776.6" cy="363" r="4.3"/><circle cx="756.1" cy="348.3" r="4.3"/><circle cx="760" cy="354.9" r="4.3"/><circle cx="753" cy="354.9" r="4.3"/><circle cx="751.5" cy="358.4" r="4.3"/><circle cx="764.7" cy="362.5" r="4.3"/><circle cx="759.7" cy="365.1" r="4.3"/><circle cx="630" cy="387.1" r="4.3"/><circle cx="631" cy="393.7" r="4.3"/><circle cx="650.3" cy="392.4" r="4.3"/><circle cx="675.4" cy="401.5" r="4.3"/><circle cx="703.2" cy="405.1" r="4.3"/><circle cx="724" cy="386.4" r="4.3"/><circle cx="734.2" cy="413.2" r="4.3"/><circle cx="748.9" cy="403.9" r="4.3"/><circle cx="752.5" cy="396.8" r="4.3"/><circle cx="682.8" cy="418.6" r="4.3"/><circle cx="696.3" cy="417.4" r="4.3"/><circle cx="633.1" cy="422.2" r="4.3"/><circle cx="756.6" cy="393.7" r="4.3"/><circle cx="757.6" cy="402.6" r="4.3"/><circle cx="779.5" cy="404.7" r="4.3"/><circle cx="779.5" cy="411.7" r="4.3"/><circle cx="774.2" cy="419.8" r="4.3"/><circle cx="899.1" cy="135.4" r="4.3"/><circle cx="882.3" cy="156.1" r="4.3"/><circle cx="873.2" cy="164.7" r="4.3"/><circle cx="883.5" cy="219.1" r="4.3"/></g><g><circle cx="917.2" cy="109.5" r="3.6" fill="#f0e040"/><circle cx="910.5" cy="126.6" r="3.6" fill="#ece8c0"/><circle cx="886.9" cy="127.6" r="3.6" fill="#f0d434"/><circle cx="782.1" cy="172.1" r="3.6" fill="#a0d8a0"/><circle cx="782.5" cy="170.4" r="3.6" fill="#40b870"/><circle cx="836.9" cy="159" r="3.6" fill="#009080"/><circle cx="838.6" cy="156.9" r="3.6" fill="#efe890"/><circle cx="845.5" cy="152.4" r="3.6" fill="#efe890"/><circle cx="831.3" cy="171" r="3.6" fill="#f0c525"/><circle cx="851.7" cy="176.3" r="3.6" fill="#f0e880"/><circle cx="863.7" cy="159.8" r="3.6" fill="#f0e040"/><circle cx="868.4" cy="150.3" r="3.6" fill="#f0d434"/><circle cx="862.8" cy="169.7" r="3.6" fill="#f0d434"/><circle cx="866.2" cy="173" r="3.6" fill="#ece8c0"/><circle cx="862.3" cy="181.1" r="3.6" fill="#f0e880"/><circle cx="740.8" cy="190.7" r="3.6" fill="#d0e2d0"/><circle cx="735.7" cy="217.4" r="3.6" fill="#d0e2d0"/><circle cx="720.9" cy="222.9" r="3.6" fill="#10a070"/><circle cx="746.3" cy="222.9" r="3.6" fill="#10a070"/><circle cx="693" cy="228.8" r="3.6" fill="#40b870"/><circle cx="776.2" cy="202.1" r="3.6" fill="#28ac70"/><circle cx="797.5" cy="210.5" r="3.6" fill="#a0d8a0"/><circle cx="807.4" cy="212" r="3.6" fill="#28ac70"/><circle cx="798" cy="221.5" r="3.6" fill="#88d088"/><circle cx="811" cy="224.7" r="3.6" fill="#eee8a0"/><circle cx="821.4" cy="184.2" r="3.6" fill="#f0e880"/><circle cx="827.7" cy="204.9" r="3.6" fill="#f0c525"/><circle cx="836.6" cy="204.4" r="3.6" fill="#b4dcb4"/><circle cx="823.1" cy="216.8" r="3.6" fill="#f0e040"/><circle cx="841.3" cy="191.5" r="3.6" fill="#ece8c0"/><circle cx="859.3" cy="191.3" r="3.6" fill="#f0e040"/><circle cx="847" cy="200.8" r="3.6" fill="#e8e8e8"/><circle cx="845" cy="206.9" r="3.6" fill="#f0d434"/><circle cx="850.8" cy="208.4" r="3.6" fill="#e8a000"/><circle cx="859.2" cy="210" r="3.6" fill="#d0e2d0"/><circle cx="857.7" cy="215.6" r="3.6" fill="#f0e880"/><circle cx="862.8" cy="217.1" r="3.6" fill="#e8e8e8"/><circle cx="857.7" cy="220.1" r="3.6" fill="#a0d8a0"/><circle cx="861.8" cy="222.7" r="3.6" fill="#d0e2d0"/><circle cx="841.4" cy="221.9" r="3.6" fill="#70c870"/><circle cx="831.3" cy="223.9" r="3.6" fill="#88d088"/><circle cx="827.2" cy="228.6" r="3.6" fill="#ece8c0"/><circle cx="848.3" cy="225.2" r="3.6" fill="#e8e8e8"/><circle cx="688.4" cy="237.6" r="3.6" fill="#88d088"/><circle cx="679.5" cy="255.4" r="3.6" fill="#ede8b0"/><circle cx="665.6" cy="269.1" r="3.6" fill="#efe890"/><circle cx="654.9" cy="277.2" r="3.6" fill="#ede8b0"/><circle cx="737.7" cy="245.4" r="3.6" fill="#a0d8a0"/><circle cx="727.5" cy="257.6" r="3.6" fill="#58c070"/><circle cx="745.3" cy="265.8" r="3.6" fill="#efe890"/><circle cx="736.7" cy="270.1" r="3.6" fill="#a0d8a0"/><circle cx="696.9" cy="279.8" r="3.6" fill="#e8e8e8"/><circle cx="739.5" cy="282" r="3.6" fill="#70c870"/><circle cx="842.2" cy="236.1" r="3.6" fill="#b4dcb4"/><circle cx="850.1" cy="240.7" r="3.6" fill="#e08000"/><circle cx="861.2" cy="234.8" r="3.6" fill="#a0d8a0"/><circle cx="868.1" cy="234.8" r="3.6" fill="#efe890"/><circle cx="857.7" cy="242.2" r="3.6" fill="#eee8a0"/><circle cx="856.5" cy="246.8" r="3.6" fill="#88d088"/><circle cx="872.9" cy="243.4" r="3.6" fill="#f0e880"/><circle cx="829.2" cy="241.2" r="3.6" fill="#d0e2d0"/><circle cx="831.3" cy="248.5" r="3.6" fill="#70c870"/><circle cx="844.5" cy="250.8" r="3.6" fill="#eee8a0"/><circle cx="805.4" cy="248.3" r="3.6" fill="#7ccc7c"/><circle cx="808.4" cy="257.6" r="3.6" fill="#eee8a0"/><circle cx="815" cy="257.9" r="3.6" fill="#e8e8e8"/><circle cx="827.2" cy="257.2" r="3.6" fill="#c8e0c8"/><circle cx="835.1" cy="256.9" r="3.6" fill="#7ccc7c"/><circle cx="824.2" cy="263" r="3.6" fill="#f0d434"/><circle cx="819.1" cy="265.6" r="3.6" fill="#ece8c0"/><circle cx="834.1" cy="266.8" r="3.6" fill="#f0e040"/><circle cx="824.7" cy="269.1" r="3.6" fill="#f0e040"/><circle cx="827.7" cy="272.7" r="3.6" fill="#f0d434"/><circle cx="815.5" cy="270.6" r="3.6" fill="#70c870"/><circle cx="803.3" cy="267.6" r="3.6" fill="#e8e8e8"/><circle cx="810.4" cy="270.1" r="3.6" fill="#e8e8e8"/><circle cx="799.3" cy="273.2" r="3.6" fill="#e8e8e8"/><circle cx="820.1" cy="277.2" r="3.6" fill="#f0c020"/><circle cx="807.9" cy="278.3" r="3.6" fill="#f0e040"/><circle cx="811.5" cy="279.8" r="3.6" fill="#ece8c0"/><circle cx="766.3" cy="269.1" r="3.6" fill="#c8e0c8"/><circle cx="767.8" cy="267.6" r="3.6" fill="#c8e0c8"/><circle cx="782.5" cy="282" r="3.6" fill="#40b870"/><circle cx="792.2" cy="283.9" r="3.6" fill="#58c070"/><circle cx="641.7" cy="286.6" r="3.6" fill="#eee8a0"/><circle cx="638.1" cy="289.7" r="3.6" fill="#f0e460"/><circle cx="642.2" cy="293.7" r="3.6" fill="#e8e8e8"/><circle cx="637.1" cy="294.2" r="3.6" fill="#e8e8e8"/><circle cx="632.6" cy="295.7" r="3.6" fill="#f0e040"/><circle cx="630" cy="300.8" r="3.6" fill="#f0d030"/><circle cx="657.4" cy="292.7" r="3.6" fill="#e8e8e8"/><circle cx="667.4" cy="291.7" r="3.6" fill="#a0d8a0"/><circle cx="656.9" cy="299.8" r="3.6" fill="#e8e8e8"/><circle cx="661.5" cy="299.8" r="3.6" fill="#e8e8e8"/><circle cx="658" cy="304.4" r="3.6" fill="#ece8c0"/><circle cx="642.7" cy="303.9" r="3.6" fill="#e8e8e8"/><circle cx="638.7" cy="307.4" r="3.6" fill="#f0e040"/><circle cx="630" cy="310" r="3.6" fill="#eee8a0"/><circle cx="648.8" cy="311" r="3.6" fill="#ece8c0"/><circle cx="643.2" cy="315.1" r="3.6" fill="#f0c525"/><circle cx="638.7" cy="319.6" r="3.6" fill="#f0c525"/><circle cx="667.4" cy="314" r="3.6" fill="#f0e880"/><circle cx="683.9" cy="307.4" r="3.6" fill="#58c070"/><circle cx="681.3" cy="314.7" r="3.6" fill="#70c870"/><circle cx="721.8" cy="299.5" r="3.6" fill="#94d494"/><circle cx="720.4" cy="303.8" r="3.6" fill="#94d494"/><circle cx="747.4" cy="312" r="3.6" fill="#e8e8e8"/><circle cx="687.9" cy="323.2" r="3.6" fill="#f0d434"/><circle cx="701.3" cy="320.4" r="3.6" fill="#eee8a0"/><circle cx="740.2" cy="324.2" r="3.6" fill="#e8e8e8"/><circle cx="735.7" cy="323.9" r="3.6" fill="#f0e040"/><circle cx="663" cy="324.7" r="3.6" fill="#b4dcb4"/><circle cx="667.6" cy="322.7" r="3.6" fill="#7ccc7c"/><circle cx="672.7" cy="324.2" r="3.6" fill="#7ccc7c"/><circle cx="680.3" cy="328.8" r="3.6" fill="#ece8c0"/><circle cx="695.5" cy="332" r="3.6" fill="#f0e040"/><circle cx="804.4" cy="283" r="3.6" fill="#e8e8e8"/><circle cx="804.9" cy="287.1" r="3.6" fill="#eee8a0"/><circle cx="800.3" cy="292.2" r="3.6" fill="#ece8c0"/><circle cx="810.8" cy="295" r="3.6" fill="#f0e040"/><circle cx="791.1" cy="292.7" r="3.6" fill="#a0d8a0"/><circle cx="790.6" cy="298.8" r="3.6" fill="#70c870"/><circle cx="794.7" cy="299.3" r="3.6" fill="#7ccc7c"/><circle cx="802.6" cy="304.4" r="3.6" fill="#f0e880"/><circle cx="775.4" cy="293.7" r="3.6" fill="#e8e8e8"/><circle cx="777.4" cy="292.7" r="3.6" fill="#d0e2d0"/><circle cx="769.3" cy="297.8" r="3.6" fill="#c8e0c8"/><circle cx="766.3" cy="302.9" r="3.6" fill="#c8e0c8"/><circle cx="757.1" cy="306.4" r="3.6" fill="#b4dcb4"/><circle cx="751.5" cy="310" r="3.6" fill="#e8e8e8"/><circle cx="782.5" cy="307.4" r="3.6" fill="#eee8a0"/><circle cx="792.2" cy="305.4" r="3.6" fill="#ece8c0"/><circle cx="789.1" cy="310" r="3.6" fill="#a0d8a0"/><circle cx="788.6" cy="316.1" r="3.6" fill="#c8e0c8"/><circle cx="782.5" cy="316.6" r="3.6" fill="#e8e8e8"/><circle cx="780.5" cy="320.1" r="3.6" fill="#e8e8e8"/><circle cx="761.2" cy="315.1" r="3.6" fill="#ece8c0"/><circle cx="765.2" cy="314.3" r="3.6" fill="#f0c525"/><circle cx="774.9" cy="318.6" r="3.6" fill="#70c870"/><circle cx="773.4" cy="323.2" r="3.6" fill="#a0d8a0"/><circle cx="752.5" cy="319.6" r="3.6" fill="#e8e8e8"/><circle cx="759.1" cy="321.9" r="3.6" fill="#f0e040"/><circle cx="777.4" cy="327.2" r="3.6" fill="#e8e8e8"/><circle cx="766.8" cy="328.8" r="3.6" fill="#40b870"/><circle cx="794.5" cy="326.9" r="3.6" fill="#e8a000"/><circle cx="806.9" cy="322.2" r="3.6" fill="#e8a000"/><circle cx="662.3" cy="334.6" r="3.6" fill="#b4dcb4"/><circle cx="648.6" cy="342.2" r="3.6" fill="#e8e8e8"/><circle cx="683.7" cy="336.3" r="3.6" fill="#e8e8e8"/><circle cx="702.7" cy="339.3" r="3.6" fill="#eee8a0"/><circle cx="682.1" cy="345.2" r="3.6" fill="#f0d434"/><circle cx="648.5" cy="357.6" r="3.6" fill="#f0e040"/><circle cx="647.1" cy="362" r="3.6" fill="#efe890"/><circle cx="691.5" cy="361" r="3.6" fill="#e8e8e8"/><circle cx="732.6" cy="337.1" r="3.6" fill="#e8e8e8"/><circle cx="728.1" cy="341.7" r="3.6" fill="#efe890"/><circle cx="726.3" cy="347.8" r="3.6" fill="#eca808"/><circle cx="741.3" cy="339.7" r="3.6" fill="#eee8a0"/><circle cx="749.4" cy="337.1" r="3.6" fill="#ece8c0"/><circle cx="741.3" cy="352.4" r="3.6" fill="#f0c525"/><circle cx="739.2" cy="358.4" r="3.6" fill="#f0e040"/><circle cx="751.5" cy="349.3" r="3.6" fill="#f0e040"/><circle cx="738.2" cy="370.6" r="3.6" fill="#f0b010"/><circle cx="747.4" cy="368.6" r="3.6" fill="#f0c020"/><circle cx="749.4" cy="376.7" r="3.6" fill="#f0b515"/><circle cx="714.3" cy="375.7" r="3.6" fill="#f0d434"/><circle cx="723" cy="372.2" r="3.6" fill="#e8e8e8"/><circle cx="777.9" cy="335.1" r="3.6" fill="#e8e8e8"/><circle cx="757.6" cy="334.1" r="3.6" fill="#ece8c0"/><circle cx="765.2" cy="335.1" r="3.6" fill="#efe890"/><circle cx="759.7" cy="338.1" r="3.6" fill="#f0e040"/><circle cx="759.1" cy="342.7" r="3.6" fill="#f0e040"/><circle cx="763.2" cy="339.1" r="3.6" fill="#ece8c0"/><circle cx="796.2" cy="347.3" r="3.6" fill="#efe890"/><circle cx="786.6" cy="353.4" r="3.6" fill="#ece8c0"/><circle cx="774.9" cy="358.4" r="3.6" fill="#eee8a0"/><circle cx="776.6" cy="363" r="3.6" fill="#f0b010"/><circle cx="756.1" cy="348.3" r="3.6" fill="#f0e880"/><circle cx="760" cy="354.9" r="3.6" fill="#f0e040"/><circle cx="753" cy="354.9" r="3.6" fill="#f0c020"/><circle cx="751.5" cy="358.4" r="3.6" fill="#f0b515"/><circle cx="764.7" cy="362.5" r="3.6" fill="#eee8a0"/><circle cx="759.7" cy="365.1" r="3.6" fill="#efe890"/><circle cx="630" cy="387.1" r="3.6" fill="#f0c020"/><circle cx="631" cy="393.7" r="3.6" fill="#f0d434"/><circle cx="650.3" cy="392.4" r="3.6" fill="#f0c525"/><circle cx="675.4" cy="401.5" r="3.6" fill="#efe890"/><circle cx="703.2" cy="405.1" r="3.6" fill="#f0d434"/><circle cx="724" cy="386.4" r="3.6" fill="#f0e040"/><circle cx="734.2" cy="413.2" r="3.6" fill="#f0e040"/><circle cx="748.9" cy="403.9" r="3.6" fill="#e8a000"/><circle cx="752.5" cy="396.8" r="3.6" fill="#f0e040"/><circle cx="682.8" cy="418.6" r="3.6" fill="#eee8a0"/><circle cx="696.3" cy="417.4" r="3.6" fill="#f0d434"/><circle cx="633.1" cy="422.2" r="3.6" fill="#eee8a0"/><circle cx="756.6" cy="393.7" r="3.6" fill="#f0e880"/><circle cx="757.6" cy="402.6" r="3.6" fill="#f0e040"/><circle cx="779.5" cy="404.7" r="3.6" fill="#e8e8e8"/><circle cx="779.5" cy="411.7" r="3.6" fill="#f0c525"/><circle cx="774.2" cy="419.8" r="3.6" fill="#dd7500"/><circle cx="899.1" cy="135.4" r="3.6" fill="#e8a000"/><circle cx="882.3" cy="156.1" r="3.6" fill="#e8e8e8"/><circle cx="873.2" cy="164.7" r="3.6" fill="#d86000"/><circle cx="883.5" cy="219.1" r="3.6" fill="#f0b515"/></g></g><circle cx="1072.5" cy="409.2" r="2.6" fill="#000"/><text x="1083.5" y="413.2">AQS</text><rect x="628.6" y="28.7" width="484.8" height="393.7" fill="none" stroke="#000" stroke-width="0.75"/><path d="M644 422.4v7.2M695.75 422.4v7.2M747.5 422.4v7.2M799 422.4v7.2M850.4 422.4v7.2M901.6 422.4v7.2M951.75 422.4v7.2M1002 422.4v7.2M1052.25 422.4v7.2M1101.75 422.4v7.2M628.6 37.7h-7.2M628.6 101.2h-7.2M628.6 163.7h-7.2M628.6 226.2h-7.2M628.6 288.5h-7.2M628.6 350.9h-7.2M628.6 412.6h-7.2" stroke="#000" stroke-width="0.75" fill="none"/><text x="644" y="448.3" text-anchor="middle">-83.5</text><text x="695.75" y="448.3" text-anchor="middle">-81.5</text><text x="747.5" y="448.3" text-anchor="middle">-79.5</text><text x="799" y="448.3" text-anchor="middle">-77.5</text><text x="850.4" y="448.3" text-anchor="middle">-75.5</text><text x="901.6" y="448.3" text-anchor="middle">-73.5</text><text x="951.75" y="448.3" text-anchor="middle">-71.5</text><text x="1002" y="448.3" text-anchor="middle">-69.5</text><text x="1052.25" y="448.3" text-anchor="middle">-67.5</text><text x="1101.75" y="448.3" text-anchor="middle">-65.5</text><text transform="translate(612 38.2) rotate(-90)" text-anchor="middle">50.5</text><text transform="translate(612 101.7) rotate(-90)" text-anchor="middle">48.5</text><text transform="translate(612 164.2) rotate(-90)" text-anchor="middle">46.5</text><text transform="translate(612 226.7) rotate(-90)" text-anchor="middle">44.5</text><text transform="translate(612 289) rotate(-90)" text-anchor="middle">42.5</text><text transform="translate(612 351.4) rotate(-90)" text-anchor="middle">40.5</text><text transform="translate(612 413.1) rotate(-90)" text-anchor="middle">38.5</text><g shape-rendering="crispEdges"><rect x="1145.7" y="48.20" width="8" height="10.90" fill="#a52a2a"/><rect x="1145.7" y="390.20" width="8" height="13.40" fill="#602080"/><rect x="1145.7" y="58.80" width="8" height="5.44" fill="#c02020"/><rect x="1145.7" y="63.94" width="8" height="5.44" fill="#d01818"/><rect x="1145.7" y="69.08" width="8" height="5.44" fill="#e01010"/><rect x="1145.7" y="74.22" width="8" height="5.44" fill="#f00808"/><rect x="1145.7" y="79.36" width="8" height="5.44" fill="#ff0000"/><rect x="1145.7" y="84.50" width="8" height="5.44" fill="#f81018"/><rect x="1145.7" y="89.63" width="8" height="5.44" fill="#f02030"/><rect x="1145.7" y="94.77" width="8" height="5.44" fill="#e83048"/><rect x="1145.7" y="99.91" width="8" height="5.44" fill="#e04060"/><rect x="1145.7" y="105.05" width="8" height="5.44" fill="#d05888"/><rect x="1145.7" y="110.19" width="8" height="5.44" fill="#c878a8"/><rect x="1145.7" y="115.33" width="8" height="5.44" fill="#c87070"/><rect x="1145.7" y="120.46" width="8" height="5.44" fill="#cc6840"/><rect x="1145.7" y="125.60" width="8" height="5.44" fill="#d06020"/><rect x="1145.7" y="130.74" width="8" height="5.44" fill="#d86000"/><rect x="1145.7" y="135.88" width="8" height="5.44" fill="#db6b00"/><rect x="1145.7" y="141.02" width="8" height="5.44" fill="#dd7500"/><rect x="1145.7" y="146.16" width="8" height="5.44" fill="#e08000"/><rect x="1145.7" y="151.29" width="8" height="5.44" fill="#e38b00"/><rect x="1145.7" y="156.43" width="8" height="5.44" fill="#e59500"/><rect x="1145.7" y="161.57" width="8" height="5.44" fill="#e8a000"/><rect x="1145.7" y="166.71" width="8" height="5.44" fill="#eca808"/><rect x="1145.7" y="171.85" width="8" height="5.44" fill="#f0b010"/><rect x="1145.7" y="176.99" width="8" height="5.44" fill="#f0bb1b"/><rect x="1145.7" y="182.12" width="8" height="5.44" fill="#f0c525"/><rect x="1145.7" y="187.26" width="8" height="5.44" fill="#f0d030"/><rect x="1145.7" y="192.40" width="8" height="5.44" fill="#f0d838"/><rect x="1145.7" y="197.54" width="8" height="5.44" fill="#f0e040"/><rect x="1145.7" y="202.68" width="8" height="5.44" fill="#f0e460"/><rect x="1145.7" y="207.82" width="8" height="5.44" fill="#f0e880"/><rect x="1145.7" y="212.95" width="8" height="5.44" fill="#eee8a0"/><rect x="1145.7" y="218.09" width="8" height="5.44" fill="#ece8c0"/><rect x="1145.7" y="223.23" width="8" height="5.44" fill="#e8e8e8"/><rect x="1145.7" y="228.37" width="8" height="5.44" fill="#d8e4d8"/><rect x="1145.7" y="233.51" width="8" height="5.44" fill="#c8e0c8"/><rect x="1145.7" y="238.65" width="8" height="5.44" fill="#b4dcb4"/><rect x="1145.7" y="243.78" width="8" height="5.44" fill="#a0d8a0"/><rect x="1145.7" y="248.92" width="8" height="5.44" fill="#88d088"/><rect x="1145.7" y="254.06" width="8" height="5.44" fill="#70c870"/><rect x="1145.7" y="259.20" width="8" height="5.44" fill="#58c070"/><rect x="1145.7" y="264.34" width="8" height="5.44" fill="#40b870"/><rect x="1145.7" y="269.48" width="8" height="5.44" fill="#28ac70"/><rect x="1145.7" y="274.61" width="8" height="5.44" fill="#10a070"/><rect x="1145.7" y="279.75" width="8" height="5.44" fill="#089878"/><rect x="1145.7" y="284.89" width="8" height="5.44" fill="#009080"/><rect x="1145.7" y="290.03" width="8" height="5.44" fill="#008888"/><rect x="1145.7" y="295.17" width="8" height="5.44" fill="#008090"/><rect x="1145.7" y="300.31" width="8" height="5.44" fill="#04789c"/><rect x="1145.7" y="305.44" width="8" height="5.44" fill="#0870a8"/><rect x="1145.7" y="310.58" width="8" height="5.44" fill="#0864b8"/><rect x="1145.7" y="315.72" width="8" height="5.44" fill="#0858c8"/><rect x="1145.7" y="320.86" width="8" height="5.44" fill="#084cd8"/><rect x="1145.7" y="326.00" width="8" height="5.44" fill="#0840e8"/><rect x="1145.7" y="331.14" width="8" height="5.44" fill="#0c38f4"/><rect x="1145.7" y="336.27" width="8" height="5.44" fill="#1030ff"/><rect x="1145.7" y="341.41" width="8" height="5.44" fill="#302cf8"/><rect x="1145.7" y="346.55" width="8" height="5.44" fill="#5028f0"/><rect x="1145.7" y="351.69" width="8" height="5.44" fill="#6824ec"/><rect x="1145.7" y="356.83" width="8" height="5.44" fill="#8020e8"/><rect x="1145.7" y="361.97" width="8" height="5.44" fill="#8820e0"/><rect x="1145.7" y="367.10" width="8" height="5.44" fill="#9020d8"/><rect x="1145.7" y="372.24" width="8" height="5.44" fill="#8820c4"/><rect x="1145.7" y="377.38" width="8" height="5.44" fill="#8020b0"/><rect x="1145.7" y="382.52" width="8" height="5.44" fill="#702098"/><rect x="1145.7" y="387.66" width="8" height="2.84" fill="#602080"/></g><rect x="1145.7" y="48.2" width="8" height="355.4" fill="none" stroke="#999" stroke-width="0.75"/><path d="M1153.7 51.3V400.3M1153.7 51.3h7.2M1153.7 71.7h7.2M1153.7 123h7.2M1153.7 174.4h7.2M1153.7 225.8h7.2M1153.7 277.3h7.2M1153.7 328.7h7.2M1153.7 380h7.2M1153.7 400.3h7.2" stroke="#000" stroke-width="0.75" fill="none"/><text x="1169" y="55.6">80</text><text x="1169" y="76">30</text><text x="1169" y="127.3">20</text><text x="1169" y="178.7">10</text><text x="1169" y="230.1">0</text><text x="1169" y="281.6">-10</text><text x="1169" y="333">-20</text><text x="1169" y="384.3">-30</text><text x="1169" y="404.6">-100</text><text x="1135.7" y="45">ppbV</text><text x="271.5" y="19.8" text-anchor="middle" font-weight="bold" font-size="14.4">EMBER 36km: O3_MDA8 on 06/25/2024</text><text x="871.5" y="19.8" text-anchor="middle" font-weight="bold" font-size="14.4">EMBER bias: O3_MDA8 on 06/25/2024</text><text x="271.1" y="469.8" text-anchor="middle" textLength="253.2">Domain size: 37x47 | Max Model = 67 at (2, 15)</text><text x="270.8" y="484.2" text-anchor="middle">Max Obs: 67</text><text x="871.5" y="469.8" text-anchor="middle">Bias Summary: [ min, 25th %, 50th %, 75th %, max ]</text><text x="818.8" y="484.2" textLength="147.5" xml:space="preserve">[ -13,   -2.2,   1.3,   4.5,   21 ]</text></svg></body></html>
